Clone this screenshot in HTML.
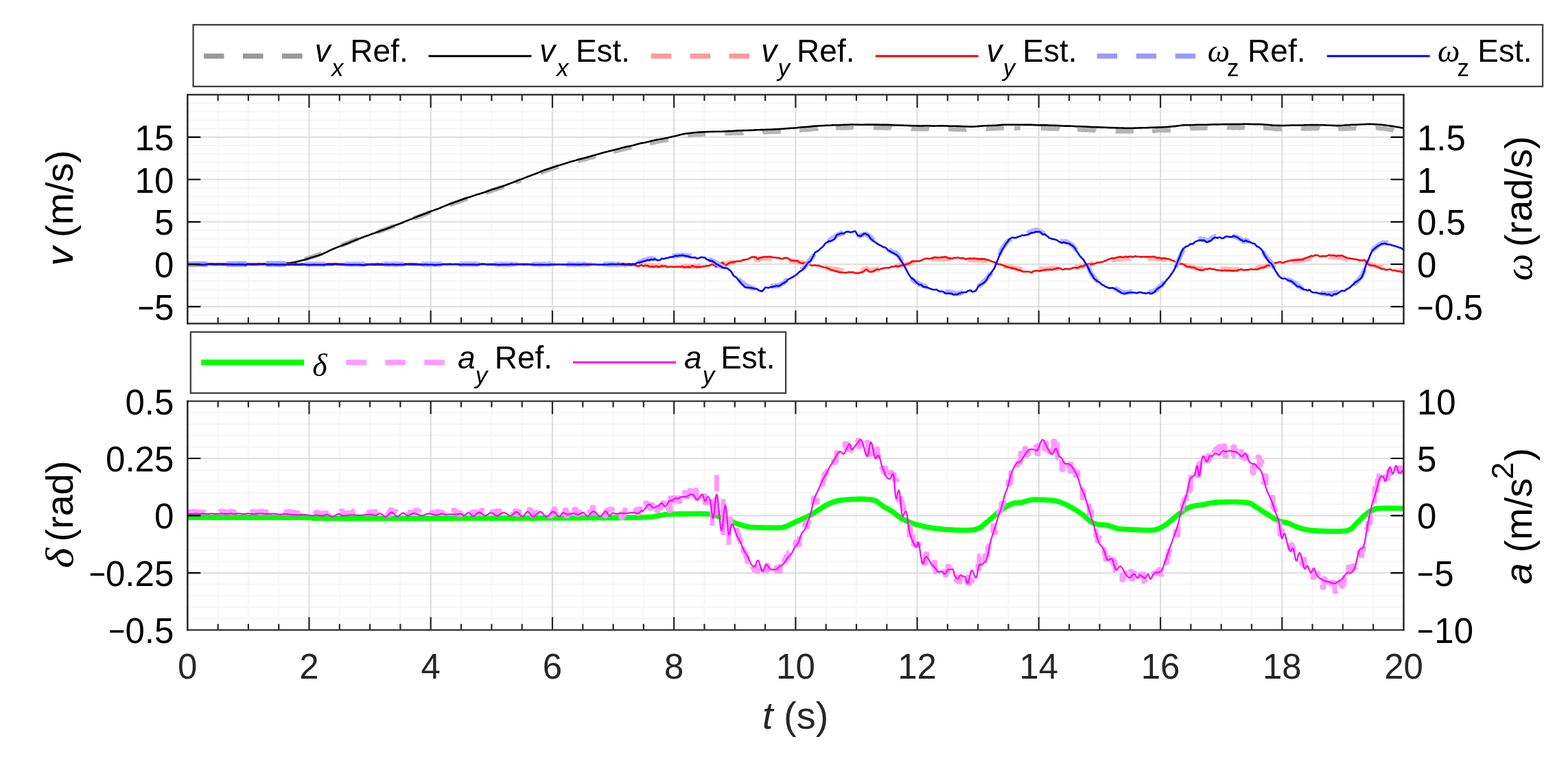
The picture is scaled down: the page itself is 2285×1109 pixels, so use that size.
<!DOCTYPE html><html><head><meta charset="utf-8"><title>Velocity estimation</title>
<style>html,body{margin:0;padding:0;background:#fff;overflow:hidden}svg{display:block}</style></head><body>
<svg width="2285" height="1109" viewBox="0 0 2285 1109">
<rect width="2285" height="1109" fill="#fff"/>
<defs><clipPath id="c1"><rect x="273.3" y="138" width="1772.2" height="333.5"/></clipPath>
<clipPath id="c2"><rect x="273.3" y="584.6" width="1772.2" height="333.6"/></clipPath></defs>
<path d="M317.6 138V471.5M361.9 138V471.5M406.2 138V471.5M494.8 138V471.5M539.1 138V471.5M583.4 138V471.5M672 138V471.5M716.4 138V471.5M760.7 138V471.5M849.3 138V471.5M893.6 138V471.5M937.9 138V471.5M1026.5 138V471.5M1070.8 138V471.5M1115.1 138V471.5M1203.7 138V471.5M1248 138V471.5M1292.3 138V471.5M1380.9 138V471.5M1425.2 138V471.5M1469.5 138V471.5M1558.1 138V471.5M1602.5 138V471.5M1646.8 138V471.5M1735.4 138V471.5M1779.7 138V471.5M1824 138V471.5M1912.6 138V471.5M1956.9 138V471.5M2001.2 138V471.5M273.3 459.1H2045.5M273.3 434.4H2045.5M273.3 422.1H2045.5M273.3 409.7H2045.5M273.3 397.4H2045.5M273.3 372.7H2045.5M273.3 360.3H2045.5M273.3 348H2045.5M273.3 335.6H2045.5M273.3 310.9H2045.5M273.3 298.6H2045.5M273.3 286.2H2045.5M273.3 273.9H2045.5M273.3 249.2H2045.5M273.3 236.8H2045.5M273.3 224.5H2045.5M273.3 212.1H2045.5M273.3 187.4H2045.5M273.3 175.1H2045.5M273.3 162.7H2045.5M273.3 150.4H2045.5" stroke="#f6f6f6" stroke-width="2" fill="none"/>
<path d="M450.5 138V471.5M627.7 138V471.5M805 138V471.5M982.2 138V471.5M1159.4 138V471.5M1336.6 138V471.5M1513.8 138V471.5M1691.1 138V471.5M1868.3 138V471.5M273.3 446.8H2045.5M273.3 385H2045.5M273.3 323.3H2045.5M273.3 261.5H2045.5M273.3 199.8H2045.5" stroke="#dfdfdf" stroke-width="2.2" fill="none"/>
<g clip-path="url(#c1)" fill="none" stroke-linejoin="round" stroke-linecap="butt">
<path d="M273 384.2L274 384.2L275 384.2L276 384.2L277 384.2L278 384.2L279 384.2L280 384.2L281 384.2L282 384.2L283 384.2L284 384.2L285 384.1L286 384.1L287 384.1L288 384.1L289 384.1L290 384.1L291 384.1L292 384.1L293 384.1L294 384.1L295 384.1L296 384.1L297 384.1L298 384.1L299 384.1L300 384.1M331 383.9L332 383.9L333 383.9L334 383.9L335 383.9L336 383.9L337 383.9L338 383.9L339 383.9L340 383.9L341 383.9L342 383.9L343 383.9L344 383.8L345 383.9L346 383.8L347 383.9L348 383.8L349 383.8L350 383.8L351 383.8L352 383.8L353 383.8L354 383.8L355 383.8L356 383.8L357 383.8L358 383.8M388 383.6L389 383.6L390 383.6L391 383.6L392 383.6L393 383.6L394 383.6L395 383.6L396 383.5L397 383.5L398 383.5L399 383.5L400 383.5L401 383.5L402 383.5L403 383.5L404 383.5L405 383.5L406 383.4L407 383.4L408 383.4L409 383.4L410 383.4L411 383.4L412 383.3L413 383.3L414 383.2L415 383.1M444 377.6L445 377.3L446 377L447 376.7L448 376.4L449 376.2L450 375.8L451 375.5L452 375.2L453 374.9L454 374.6L455 374.3L456 373.9L457 373.6L458 373.3L459 373L460 372.6L461 372.3L462 371.9L463 371.5L464 371.2L465 370.9L466 370.5L467 370.1L468 369.8L469 369.4M497 357.6L498 357.3L499 356.8L500 356.4L501 356L502 355.6L503 355.3L504 354.9L505 354.5L506 354.2L507 353.9L508 353.3L509 353L510 352.6L511 352.2L512 351.7L513 351.4L514 351.1L515 350.6L516 350.3L517 349.8L518 349.5L519 349.1L520 348.5L521 348.2L522 347.8M550 338L551 337.9L552 337.5L553 337.2L554 336.7L555 336.4L556 336.1L557 335.8L558 335.4L559 335L560 334.8L561 334.2L562 333.8L563 333.3L564 333.3L565 332.9L566 332.5L567 332.1L568 331.6L569 331.3L570 330.9L571 330.5L572 330.1L573 329.9L574 329.4L575 329M603 318.3L604 317.9L605 317.4L606 317.2L607 316.6L608 316.3L609 316.2L610 315.5L611 315.4L612 315.1L613 314.5L614 314.2L615 314L616 313.3L617 312.9L618 312.4L619 312.2L620 312L621 311.6L622 311L623 310.6L624 310.3L625 310L626 309.5L627 309.2L628 308.8M655 298.7L656 298.1L657 298.1L658 297.7L659 297.3L660 296.7L661 296.5L662 296.1L663 295.7L664 295.3L665 294.8L666 294.4L667 294.4L668 293.9L669 293.6L670 293.4L671 292.6L672 292.4L673 292.2L674 291.9L675 291.4L676 291.2L677 290.8L678 290.2L679 289.9L680 289.8L681 289.4M708 280.4L709 280.2L710 280.1L711 279.4L712 279.3L713 278.9L714 278.5L715 278.5L716 277.9L717 277.9L718 277.2L719 277.1L720 276.7L721 276.2L722 276.1L723 275.7L724 275.5L725 275L726 274.5L727 274.3L728 274L729 273.9L730 273.2L731 273L732 272.4L733 272.4L734 271.8M751 266.1L752 265.4L753 265.1L754 264.7L755 264.3L756 263.9L757 263.9L758 263L759 262.5M788 252L789 251.7L790 250.9L791 250.4L792 250.2L793 249.7L794 249.3L795 249.1L796 248.5L797 248.5L798 248L799 247.7L800 247.3L801 246.8L802 246.4L803 246.2L804 245.8L805 245.7L806 245.3L807 244.7L808 244.6L809 244L810 243.8L811 243.6L812 242.9L813 243L814 242.7M842 234.7L843 234.1L844 234.4L845 233.9L846 233.1L847 233.4L848 232.8L849 232.6L850 232.4L851 232.6L852 232L853 231.8L854 231.8L855 231.5L856 230.9L857 230.6L858 230.2L859 230L860 230L861 229.7L862 229.3L863 229.3L864 228.6L865 228.5L866 228.4L867 228.1L868 227.9M894 220.9L895 220.7L896 220.5L897 220L898 219.9L899 219.8L900 219.8L901 219.1L902 218.9L903 218.7L904 218.6L905 218.1L906 218.2L907 217.5L908 217.4L909 217.1L910 217.1L911 216.9L912 216.1L913 216L914 216L915 215.6L916 215.2L917 215.5L918 215.1L919 214.9L920 214.5M947 208.3L948 208.2L949 208.4L950 207.9L951 207.8L952 207.7L953 207.5L954 207.1L955 207.1L956 206.6L957 206.5L958 206.2L959 206.4L960 205.9L961 205.6L962 205.5L963 205.3L964 205.3L965 204.6L966 204.5L967 204.4L968 204.8L969 204.3L970 203.9L971 203.8L972 203.9L973 203.2L974 203M1002 197.1L1003 196.9L1004 197L1005 197L1006 196.4L1007 196.8L1008 196.3L1009 196.6L1010 196.4L1011 196.3L1012 196.3L1013 196.1L1014 196L1015 195.7L1016 196L1017 196.3L1018 196.3L1019 196.1L1020 195.9L1021 195.6L1022 196L1023 195.6L1024 195.6L1025 195.5L1026 195.5L1027 195.4L1028 195.4M1056 194.6L1057 194.3L1058 194.1L1059 194.4L1060 194.1L1061 194.2L1062 194.4L1063 194.4L1064 194.6L1065 194.2L1066 193.9L1067 194L1068 193.9L1069 193.8L1070 194.1L1071 193.9L1072 193.6L1073 194.1L1074 193.9L1075 193.9L1076 193.9L1077 193.9L1078 193.8L1079 194L1080 193.8L1081 193.8L1082 193.7L1083 193.3M1111 192.6L1112 192.2L1113 192.3L1114 192.4L1115 192.5L1116 192.4L1117 192L1118 192.3L1119 192.5L1120 192.4L1121 192.2L1122 192L1123 192.2L1124 192L1125 191.8L1126 191.8L1127 192.2L1128 191.9L1129 192.1L1130 191.7L1131 191.9L1132 191.6L1133 191.6L1134 192.1L1135 191.7L1136 191.4L1137 191.4L1138 191.4M1165 189.7L1166 189.8L1167 189.4L1168 189.4L1169 189.5L1170 189.1L1171 189.2L1172 188.9L1173 189.2L1174 189.4L1175 189.2L1176 188.7L1177 188.8L1178 188.6L1179 188.5L1180 188.7L1181 188L1182 188.4L1183 188.1L1184 188.3L1185 188L1186 187.7L1187 187.8L1188 187.9L1189 187.7L1190 187.7L1191 187.4L1192 187M1218 186.4L1219 186.3L1220 186.4L1221 186.4L1222 186.2L1223 186.2L1224 186.5L1225 186.3L1226 186.4L1227 186.5L1228 186.3L1229 186.6L1230 186L1231 186.3L1232 186.1L1233 186.5L1234 186.4L1235 185.7L1236 185.9L1237 186.2L1238 186.2L1239 186.1L1240 186L1241 186.1L1242 186.1L1243 185.9L1244 186.1M1273 186L1274 186L1275 185.9L1276 186.4L1277 186.1L1278 186.4L1279 186.3L1280 186L1281 186L1282 186.2L1283 186.2L1284 186.2L1285 186.2L1286 185.9L1287 186.3L1288 185.9L1289 186.5L1290 186.3L1291 186.3L1292 186.5L1293 186.6L1294 186.3L1295 186.3L1296 186.4L1297 186.3L1298 186.5L1299 187.1M1328 187.6L1329 187.9L1330 187.5L1331 187.6L1332 187.9L1333 187.9L1334 187.7L1335 187.6L1336 187.5L1337 187.7L1338 187.4L1339 188L1340 187.7L1341 187.9L1342 188.2L1343 188.1L1344 187.6L1345 188.1L1346 188.1L1347 187.8L1348 187.7L1349 187.9L1350 187.6L1351 188.2L1352 187.5L1353 187.7L1354 187.9M1382 188.1L1383 188.1L1384 188L1385 188.3L1386 188.1L1387 188.3L1388 188.6L1389 188.4L1390 188.5L1391 188.5L1392 188.5L1393 188.5L1394 188.5L1395 188.7L1396 188.4L1397 188.9L1398 188.7L1399 188.6L1400 188.6L1401 188.6L1402 188.8L1403 188.7L1404 189.1L1405 188.7L1406 188.4L1407 188.8L1408 188.5M1437 187.7L1438 187.8L1439 188L1440 187.8L1441 187.6L1442 187.6L1443 187.6L1444 187.7L1445 187.4L1446 187.4L1447 187L1448 187.1L1449 187.6L1450 186.8L1451 187.1L1452 187.2L1453 187L1454 186.9L1455 187L1456 186.9L1457 186.9L1458 186.5L1459 186.8L1460 186.6L1461 186.7L1462 186.8L1463 186.9M1478 186.4L1479 186.5L1480 186.7L1481 186.7L1482 186.5L1483 186.5L1484 186.4L1485 186.6L1486 186.5L1487 186.7M1517 187.1L1518 187.1L1519 187.2L1520 187.3L1521 187.2L1522 186.6L1523 187L1524 187.1L1525 187L1526 187.3L1527 187.5L1528 187.2L1529 187.1L1530 187.8L1531 187.3L1532 187.2L1533 187.5L1534 187.6L1535 187.4L1536 187.7L1537 187.5L1538 187.4L1539 187.7L1540 187.8L1541 187.6L1542 187.8L1543 187.8L1544 188.4M1570 189L1571 188.8L1572 188.9L1573 189L1574 189L1575 188.9L1576 189.1L1577 189.5L1578 188.8L1579 189.3L1580 189.1L1581 189.4L1582 189.5L1583 189.4L1584 189.6L1585 189.2L1586 189.8L1587 189.5L1588 189.8L1589 189.7L1590 189.2L1591 189.6L1592 189.9L1593 190.2L1594 190L1595 190L1596 189.7L1597 190.3M1626 191.2L1627 191.5L1628 190.8L1629 191L1630 191.4L1631 191.2L1632 191.2L1633 191.6L1634 191.2L1635 191.1L1636 191.1L1637 191.4L1638 191.4L1639 191.1L1640 191.2L1641 191.5L1642 191.5L1643 191.3L1644 191.5L1645 191.5L1646 191.1L1647 191.4L1648 191.5L1649 191.3L1650 191L1651 191.3L1652 191.5M1679 190.5L1680 190.5L1681 190.8L1682 190.7L1683 190.3L1684 190.6L1685 190.1L1686 190.2L1687 190.4L1688 189.9L1689 190L1690 189.8L1691 190L1692 190.3L1693 189.8L1694 190L1695 189.7L1696 189.6L1697 189.6L1698 190.1L1699 190.2L1700 189.8L1701 189.5L1702 189.8L1703 189.5L1704 189.7L1705 189.6L1706 189.5M1734 187.1L1735 186.8L1736 186.9L1737 187.1L1738 187L1739 187.2L1740 187L1741 187.4L1742 186.7L1743 186.9L1744 186.5L1745 186.6L1746 187.1L1747 186.6L1748 186.9L1749 186.7L1750 186.5L1751 186.6L1752 186.6L1753 186.6L1754 186.8L1755 186.7L1756 186.5L1757 186.4L1758 186.6L1759 186.5L1760 186.7M1788 186L1789 186.2L1790 186L1791 186L1792 186L1793 186.1L1794 186.1L1795 186.2L1796 185.8L1797 186.5L1798 186.3L1799 186.2L1800 186L1801 186L1802 186.2L1803 186.1L1804 185.7L1805 186.2L1806 186.6L1807 185.6L1808 186.2L1809 186.1L1810 186L1811 186.3L1812 185.7L1813 186L1814 186.3M1841 186.3L1842 186.3L1843 186.3L1844 186.9L1845 186.6L1846 186.4L1847 186.7L1848 187L1849 187.1L1850 187L1851 187L1852 187.2L1853 186.9L1854 187.1L1855 187.6L1856 187.4L1857 187.7L1858 187.9L1859 187.8L1860 187.8L1861 188.2L1862 188L1863 187.8L1864 188L1865 188L1866 187.8L1867 188L1868 187.9M1896 187.4L1897 187.5L1898 187.6L1899 187.3L1900 187.5L1901 187.8L1902 187.5L1903 187.3L1904 187.3L1905 187.2L1906 187.4L1907 187.5L1908 187.1L1909 187.2L1910 187.5L1911 187.1L1912 187.3L1913 187L1914 187L1915 187.1L1916 187.6L1917 187.1L1918 187.1L1919 187.1L1920 187.2L1921 187.3L1922 187.2L1923 187.6M1950 188.1L1951 187.9L1952 188.1L1953 187.6L1954 187.5L1955 187.6L1956 187.7L1957 187.7L1958 187.6L1959 187.7L1960 187.2L1961 187.7L1962 187.3L1963 187.4L1964 187.4L1965 187.2L1966 187.1L1967 187.1L1968 187.3L1969 187.3L1970 187.3L1971 186.9L1972 186.9L1973 186.8L1974 187.1L1975 186.5L1976 187.1M2005 186.5L2006 186.1L2007 186.6L2008 186.5L2009 186.8L2010 186.6L2011 186.7L2012 187.4L2013 186.9L2014 187L2015 187.2L2016 187.2L2017 187.7L2018 188L2019 187.6L2020 187.5L2021 188.3L2022 188.4L2023 188.5L2024 188.7L2025 188.4L2026 188.7L2027 188.6L2028 188.8L2029 189.4L2030 189.3L2031 190" stroke="#b4b4b4" stroke-width="6.5"/>
<path d="M273 384.2L275 384.2L277 384.2L279 384.2L281 384.2L283 384.2L285 384.2L287 384.2L289 384.2L291 384.2L293 384.2L295 384.2L297 384.2L299 384.2L301 384.2L303 384.2L305 384.2L307 384.2L309 384.2L311 384.2L313 384.2L315 384.2L317 384.2L319 384.2L321 384.2L323 384.2L325 384.2L327 384.2L329 384.2L331 384.2L333 384.2L335 384.2L337 384.2L339 384.2L341 384.2L343 384.2L345 384.2L347 384.2L349 384.2L351 384.2L353 384.2L355 384.2L357 384.2L359 384.2L361 384.2L363 384.2L365 384.2L367 384.2L369 384.2L371 384.2L373 384.2L375 384.2L377 384.2L379 384.2L381 384.2L383 384.2L385 384.2L387 384.2L389 384.2L391 384.2L393 384.2L395 384.2L397 384.2L399 384.2L401 384.2L403 384.1L405 384.1L407 384.1L409 384.1L411 384L413 384L415 383.8L417 383.6L419 383.5L421 383.3L423 383.2L425 382.9L427 382.6L429 382.3L431 381.8L433 381.3L435 380.8L437 380.3L439 379.8L441 379.3L443 378.8L445 378.2L447 377.5L449 376.9L451 376.2L453 375.6L455 375L457 374.4L459 373.8L461 373.2L463 372.6L465 371.9L467 371.2L469 370.5L471 369.6L473 368.7L475 367.8L477 366.8L479 365.8L481 364.8L483 363.9L485 363L487 362.2L489 361.4L491 360.6L493 359.8L495 359.1L497 358.4L499 357.6L501 356.8L503 356.1L505 355.3L507 354.5L509 353.7L511 352.8L513 352L515 351.1L517 350.3L519 349.5L521 348.7L523 347.9L525 347.2L527 346.4L529 345.7L531 345L533 344.3L535 343.6L537 342.9L539 342.1L541 341.3L543 340.6L545 339.9L547 339.2L549 338.5L551 337.8L553 337L555 336.3L557 335.6L559 334.9L561 334.2L563 333.5L565 332.8L567 332L569 331.3L571 330.4L573 329.6L575 328.8L577 328L579 327.2L581 326.5L583 325.8L585 325L587 324.2L589 323.3L591 322.5L593 321.7L595 320.9L597 320.1L599 319.4L601 318.6L603 317.7L605 316.9L607 316.1L609 315.3L611 314.5L613 313.8L615 313.1L617 312.3L619 311.6L621 310.8L623 310L625 309.2L627 308.4L629 307.6L631 306.9L633 306.1L635 305.4L637 304.7L639 304L641 303.2L643 302.3L645 301.4L647 300.6L649 299.8L651 299L653 298.3L655 297.5L657 296.8L659 296L661 295.3L663 294.6L665 293.9L667 293.2L669 292.4L671 291.7L673 291L675 290.3L677 289.6L679 288.9L681 288.2L683 287.5L685 286.9L687 286.2L689 285.6L691 284.9L693 284.3L695 283.6L697 283L699 282.4L701 281.8L703 281.2L705 280.6L707 279.9L709 279.2L711 278.5L713 277.7L715 277L717 276.3L719 275.7L721 275.1L723 274.5L725 273.9L727 273.2L729 272.6L731 272L733 271.3L735 270.6L737 269.8L739 269.1L741 268.2L743 267.5L745 266.7L747 266L749 265.3L751 264.6L753 263.7L755 262.9L757 262.1L759 261.4L761 260.6L763 259.9L765 259.1L767 258.3L769 257.5L771 256.8L773 256L775 255.2L777 254.4L779 253.7L781 253L783 252.2L785 251.4L787 250.6L789 249.8L791 248.9L793 248.1L795 247.4L797 246.7L799 246L801 245.4L803 244.7L805 244L807 243.4L809 242.8L811 242.1L813 241.5L815 240.9L817 240.2L819 239.7L821 239.1L823 238.5L825 237.8L827 237.2L829 236.5L831 235.8L833 235.2L835 234.7L837 234.2L839 233.7L841 233.1L843 232.6L845 232L847 231.5L849 231L851 230.5L853 230L855 229.4L857 228.8L859 228.2L861 227.7L863 227.1L865 226.6L867 226L869 225.4L871 224.8L873 224.3L875 223.7L877 223.1L879 222.5L881 221.9L883 221.4L885 220.9L887 220.4L889 219.9L891 219.4L893 218.9L895 218.4L897 217.9L899 217.4L901 216.9L903 216.4L905 215.8L907 215.3L909 214.8L911 214.3L913 213.8L915 213.4L917 213.1L919 212.7L921 212.3L923 211.8L925 211.2L927 210.6L929 210L931 209.5L933 209L935 208.6L937 208.3L939 208L941 207.6L943 207.1L945 206.6L947 206L949 205.5L951 205L953 204.6L955 204.1L957 203.7L959 203.3L961 203L963 202.6L965 202.3L967 201.9L969 201.5L971 201.1L973 200.7L975 200.2L977 199.8L979 199.3L981 198.8L983 198.4L985 197.9L987 197.5L989 197L991 196.5L993 196L995 195.5L997 195.1L999 194.8L1001 194.5L1003 194.3L1005 194.1L1007 193.8L1009 193.5L1011 193.3L1013 193L1015 192.9L1017 192.7L1019 192.6L1021 192.6L1023 192.5L1025 192.4L1027 192.3L1029 192.2L1031 192.1L1033 192L1035 192L1037 191.9L1039 191.9L1041 191.8L1043 191.8L1045 191.7L1047 191.7L1049 191.7L1051 191.7L1053 191.6L1055 191.5L1057 191.3L1059 191.2L1061 191.1L1063 191.1L1065 191L1067 191L1069 190.8L1071 190.7L1073 190.5L1075 190.4L1077 190.3L1079 190.2L1081 190.2L1083 190.1L1085 190.1L1087 190L1089 190L1091 189.9L1093 189.9L1095 189.8L1097 189.7L1099 189.6L1101 189.4L1103 189.3L1105 189.3L1107 189.2L1109 189.1L1111 189.1L1113 189L1115 189L1117 188.9L1119 188.8L1121 188.8L1123 188.7L1125 188.6L1127 188.5L1129 188.4L1131 188.3L1133 188.2L1135 188.1L1137 188L1139 187.8L1141 187.7L1143 187.6L1145 187.4L1147 187.3L1149 187.1L1151 186.9L1153 186.8L1155 186.7L1157 186.6L1159 186.5L1161 186.3L1163 186L1165 185.7L1167 185.5L1169 185.3L1171 185.2L1173 185.1L1175 185L1177 184.8L1179 184.6L1181 184.4L1183 184.1L1185 183.9L1187 183.8L1189 183.6L1191 183.5L1193 183.4L1195 183.3L1197 183.2L1199 183.1L1201 183L1203 182.9L1205 182.8L1207 182.7L1209 182.7L1211 182.6L1213 182.4L1215 182.3L1217 182.2L1219 182.2L1221 182.2L1223 182.2L1225 182.1L1227 182L1229 181.9L1231 181.9L1233 181.8L1235 181.7L1237 181.6L1239 181.5L1241 181.5L1243 181.5L1245 181.5L1247 181.6L1249 181.6L1251 181.7L1253 181.8L1255 181.8L1257 181.8L1259 181.7L1261 181.6L1263 181.6L1265 181.6L1267 181.6L1269 181.6L1271 181.6L1273 181.6L1275 181.6L1277 181.6L1279 181.6L1281 181.7L1283 181.8L1285 181.9L1287 181.9L1289 181.9L1291 181.9L1293 181.9L1295 181.9L1297 182L1299 182.1L1301 182.3L1303 182.4L1305 182.5L1307 182.5L1309 182.5L1311 182.5L1313 182.6L1315 182.6L1317 182.7L1319 182.9L1321 182.9L1323 183L1325 183.1L1327 183.1L1329 183.2L1331 183.2L1333 183.3L1335 183.3L1337 183.4L1339 183.4L1341 183.5L1343 183.5L1345 183.4L1347 183.3L1349 183.3L1351 183.2L1353 183.3L1355 183.4L1357 183.5L1359 183.5L1361 183.6L1363 183.5L1365 183.5L1367 183.5L1369 183.4L1371 183.4L1373 183.4L1375 183.4L1377 183.5L1379 183.5L1381 183.6L1383 183.7L1385 183.8L1387 183.8L1389 183.8L1391 183.8L1393 183.8L1395 183.9L1397 183.9L1399 184L1401 184.1L1403 184.2L1405 184.3L1407 184.3L1409 184.4L1411 184.5L1413 184.5L1415 184.6L1417 184.5L1419 184.5L1421 184.4L1423 184.2L1425 184.1L1427 183.9L1429 183.8L1431 183.6L1433 183.4L1435 183.3L1437 183.2L1439 183.1L1441 183.1L1443 183L1445 183L1447 182.9L1449 182.8L1451 182.7L1453 182.6L1455 182.4L1457 182.3L1459 182.1L1461 181.9L1463 181.8L1465 181.7L1467 181.7L1469 181.7L1471 181.7L1473 181.7L1475 181.6L1477 181.7L1479 181.7L1481 181.7L1483 181.8L1485 181.8L1487 181.8L1489 181.8L1491 181.9L1493 181.9L1495 181.9L1497 181.9L1499 181.9L1501 181.9L1503 181.9L1505 182L1507 182.1L1509 182.2L1511 182.3L1513 182.4L1515 182.4L1517 182.4L1519 182.4L1521 182.4L1523 182.4L1525 182.4L1527 182.5L1529 182.6L1531 182.7L1533 182.7L1535 182.8L1537 182.9L1539 182.9L1541 183L1543 183.1L1545 183.2L1547 183.4L1549 183.5L1551 183.6L1553 183.6L1555 183.6L1557 183.6L1559 183.6L1561 183.7L1563 183.8L1565 184L1567 184.1L1569 184.2L1571 184.3L1573 184.3L1575 184.3L1577 184.4L1579 184.5L1581 184.5L1583 184.6L1585 184.8L1587 184.9L1589 185L1591 185.1L1593 185.2L1595 185.2L1597 185.3L1599 185.4L1601 185.4L1603 185.5L1605 185.6L1607 185.6L1609 185.7L1611 185.8L1613 185.9L1615 186L1617 186.1L1619 186.1L1621 186.1L1623 186.2L1625 186.3L1627 186.4L1629 186.5L1631 186.5L1633 186.5L1635 186.5L1637 186.6L1639 186.7L1641 186.7L1643 186.8L1645 186.8L1647 186.7L1649 186.7L1651 186.7L1653 186.6L1655 186.6L1657 186.5L1659 186.5L1661 186.4L1663 186.4L1665 186.3L1667 186.3L1669 186.3L1671 186.2L1673 186.1L1675 186L1677 185.9L1679 185.8L1681 185.7L1683 185.7L1685 185.6L1687 185.6L1689 185.5L1691 185.5L1693 185.4L1695 185.3L1697 185.2L1699 185.1L1701 185L1703 184.8L1705 184.6L1707 184.4L1709 184.3L1711 184.1L1713 183.9L1715 183.6L1717 183.3L1719 183.1L1721 182.8L1723 182.6L1725 182.4L1727 182.3L1729 182.3L1731 182.2L1733 182.2L1735 182.2L1737 182.2L1739 182.1L1741 182L1743 181.9L1745 181.8L1747 181.8L1749 181.8L1751 181.8L1753 181.8L1755 181.7L1757 181.7L1759 181.7L1761 181.6L1763 181.6L1765 181.5L1767 181.4L1769 181.4L1771 181.4L1773 181.4L1775 181.4L1777 181.3L1779 181.2L1781 181.2L1783 181.1L1785 181.1L1787 181.1L1789 181.1L1791 181.1L1793 181.1L1795 181.1L1797 181.1L1799 181.1L1801 181.1L1803 181.1L1805 181.1L1807 181L1809 181L1811 180.9L1813 180.9L1815 180.8L1817 180.8L1819 180.9L1821 180.9L1823 181L1825 181L1827 181L1829 181.1L1831 181.1L1833 181.1L1835 181.1L1837 181.2L1839 181.3L1841 181.4L1843 181.5L1845 181.7L1847 181.8L1849 182L1851 182.2L1853 182.4L1855 182.6L1857 182.7L1859 182.8L1861 182.9L1863 182.9L1865 182.9L1867 183L1869 183L1871 183L1873 182.9L1875 182.9L1877 182.8L1879 182.7L1881 182.6L1883 182.5L1885 182.5L1887 182.5L1889 182.5L1891 182.5L1893 182.5L1895 182.6L1897 182.5L1899 182.5L1901 182.4L1903 182.3L1905 182.2L1907 182.2L1909 182.1L1911 182.1L1913 182.1L1915 182.1L1917 182.1L1919 182.1L1921 182.1L1923 182.2L1925 182.2L1927 182.3L1929 182.3L1931 182.4L1933 182.5L1935 182.5L1937 182.6L1939 182.7L1941 182.8L1943 182.9L1945 183L1947 183.1L1949 183.1L1951 183.1L1953 183L1955 182.9L1957 182.7L1959 182.5L1961 182.4L1963 182.3L1965 182.2L1967 182.1L1969 181.9L1971 181.8L1973 181.7L1975 181.7L1977 181.6L1979 181.6L1981 181.5L1983 181.4L1985 181.3L1987 181.2L1989 181.1L1991 181L1993 180.9L1995 180.9L1997 180.9L1999 181L2001 181L2003 181.1L2005 181.2L2007 181.3L2009 181.5L2011 181.6L2013 181.8L2015 182L2017 182.2L2019 182.5L2021 182.8L2023 183L2025 183.3L2027 183.6L2029 183.9L2031 184.2L2033 184.5L2035 184.9L2037 185.2L2039 185.5L2041 185.9L2043 186.3L2045 186.6" stroke="#000" stroke-width="2.6"/>
<path d="M273 384.7L274 384.7L275 384.7L276 384.7L277 384.6L278 384.7L279 384.7L280 384.7L281 384.7L282 384.7L283 384.7L284 384.7L285 384.7L286 384.7L287 384.7L288 384.7L289 384.7L290 384.7L291 384.7L292 384.7L293 384.7L294 384.7L295 384.7L296 384.6L297 384.7L298 384.7L299 384.7L300 384.6L301 384.7L302 384.7L303 384.7L304 384.6L305 384.7L306 384.7L307 384.6L308 384.7L309 384.6L310 384.7L311 384.6L312 384.7L313 384.6L314 384.7L315 384.7L316 384.6L317 384.7L318 384.6L319 384.7L320 384.7L321 384.7L322 384.6L323 384.6L324 384.7L325 384.7L326 384.6L327 384.7L328 384.6L329 384.7L330 384.7L331 384.7L332 384.6L333 384.7L334 384.6L335 384.7L336 384.7L337 384.7L338 384.7L339 384.7L340 384.6L341 384.7L342 384.6L343 384.6L344 384.6L345 384.6L346 384.6L347 384.7L348 384.7L349 384.6L350 384.6L351 384.7L352 384.6L353 384.7L354 384.6L355 384.6L356 384.7L357 384.7L358 384.6L359 384.7L360 384.6L361 384.7L362 384.6L363 384.6L364 384.6L365 384.6L366 384.7L367 384.7L368 384.6L369 384.6L370 384.6L371 384.6L372 384.6L373 384.6L374 384.6L375 384.6L376 384.6L377 384.7L378 384.6L379 384.6L380 384.6L381 384.6L382 384.6L383 384.6L384 384.6L385 384.6L386 384.6L387 384.6L388 384.6L389 384.6L390 384.6L391 384.6L392 384.6L393 384.6L394 384.6L395 384.6L396 384.6L397 384.6L398 384.6L399 384.6L400 384.6L401 384.6L402 384.6L403 384.6L404 384.6L405 384.6L406 384.6L407 384.6L408 384.6L409 384.6L410 384.6L411 384.6L412 384.6L413 384.6L414 384.6L415 384.6L416 384.6L417 384.6L418 384.6L419 384.6L420 384.6L421 384.6L422 384.6L423 384.6L424 384.6L425 384.6L426 384.6L427 384.6L428 384.6L429 384.6L430 384.6L431 384.6L432 384.6L433 384.6L434 384.6L435 384.6L436 384.6L437 384.6L438 384.6L439 384.7L440 384.6L441 384.6L442 384.6L443 384.5L444 384.5L445 384.6L446 384.6L447 384.6L448 384.6L449 384.6L450 384.6L451 384.5L452 384.6L453 384.6L454 384.6L455 384.6L456 384.5L457 384.7L458 384.6L459 384.6L460 384.5L461 384.6L462 384.6L463 384.6L464 384.5L465 384.6L466 384.6L467 384.6L468 384.6L469 384.7L470 384.6L471 384.5L472 384.6L473 384.6L474 384.7L475 384.6L476 384.6L477 384.6L478 384.6L479 384.6L480 384.6L481 384.6L482 384.6L483 384.6L484 384.5L485 384.6L486 384.6L487 384.6L488 384.6L489 384.7L490 384.7L491 384.6L492 384.6L493 384.5L494 384.7L495 384.6L496 384.7L497 384.6L498 384.5L499 384.7L500 384.6L501 384.6L502 384.6L503 384.7L504 384.6L505 384.5L506 384.7L507 384.6L508 384.6L509 384.7L510 384.7L511 384.6L512 384.5L513 384.6L514 384.7L515 384.6L516 384.5L517 384.5L518 384.5L519 384.6L520 384.7L521 384.7L522 384.5L523 384.6L524 384.7L525 384.6L526 384.6L527 384.8L528 384.6L529 384.7L530 384.6L531 384.6L532 384.4L533 384.6L534 384.7L535 384.8L536 384.7L537 384.7L538 384.6L539 384.6L540 384.6L541 384.7L542 384.5L543 384.7L544 384.5L545 384.4L546 384.5L547 384.4L548 384.5L549 384.8L550 384.6L551 384.7L552 384.8L553 384.8L554 384.6L555 384.8L556 384.7L557 384.6L558 384.7L559 384.5L560 384.5L561 384.6L562 384.7L563 384.6L564 384.6L565 384.8L566 384.8L567 384.7L568 384.8L569 384.6L570 384.6L571 384.7L572 384.6L573 384.6L574 384.9L575 384.6L576 384.5L577 384.7L578 384.9L579 384.7L580 384.8L581 384.6L582 384.6L583 384.6L584 384.6L585 384.9L586 384.5L587 384.9L588 384.5L589 384.6L590 384.8L591 384.8L592 384.7L593 384.4L594 384.7L595 384.5L596 385.1L597 384.6L598 384.7L599 384.5L600 384.6L601 384.5L602 384.8L603 384.6L604 384.8L605 384.6L606 384.6L607 384.9L608 384.5L609 384.4L610 384.8L611 384.5L612 384.6L613 384.8L614 384.6L615 384.8L616 384.6L617 384.9L618 384.9L619 384.6L620 384.7L621 384.6L622 384.7L623 384.9L624 384.5L625 384.9L626 384.5L627 384.6L628 384.4L629 385.1L630 384.7L631 384.8L632 384.6L633 384.9L634 384.4L635 384.7L636 385.1L637 384.7L638 384.7L639 384.8L640 384.6L641 384.7L642 384.9L643 384.8L644 384.8L645 384.7L646 384.8L647 384.7L648 385L649 384.9L650 384.7L651 384.3L652 384.9L653 384.9L654 384.6L655 384.4L656 384.5L657 384.9L658 384.5L659 384.7L660 384.8L661 385L662 384.8L663 384.7L664 384.7L665 385.1L666 385L667 384.8L668 384.5L669 384.6L670 384.9L671 384.6L672 385L673 384.9L674 384.8L675 384.9L676 384.9L677 384.6L678 384.7L679 385.3L680 384.5L681 384.7L682 385L683 384.8L684 384.6L685 384.5L686 384.9L687 385L688 385.1L689 384.8L690 385L691 384.6L692 384.9L693 384.7L694 384.9L695 385L696 385.1L697 384.6L698 385.1L699 384.7L700 384.6L701 384.8L702 384.5L703 384.8L704 384.9L705 384.8L706 385L707 384.8L708 384.9L709 384.5L710 384.9L711 384.7L712 384.8L713 384.8L714 384.9L715 384.5L716 384.5L717 384.8L718 385L719 385L720 385.1L721 385.2L722 385L723 384.9L724 384.6L725 384.7L726 384.8L727 385L728 385L729 384.9L730 384.9L731 385.1L732 385L733 385L734 385L735 384.8L736 384.7L737 385.1L738 385L739 384.9L740 384.8L741 385.5L742 384.8L743 384.9L744 385L745 384.7L746 385L747 385.4L748 385.2L749 385.1L750 385.1L751 385L752 385.2L753 384.9L754 384.9L755 385L756 385.2L757 385.1L758 385.2L759 384.5L760 385.3L761 385.6L762 385.4L763 384.9L764 384.8L765 385.1L766 384.8L767 385.2L768 384.9L769 385.3L770 385.4L771 384.5L772 385.1L773 384.9L774 384.7L775 384.9L776 385L777 385.4L778 384.6L779 385.4L780 385.6L781 385.2L782 385.2L783 385.1L784 384.8L785 385.2L786 385.2L787 385.3L788 385.9L789 385.3L790 385.2L791 385.6L792 384.7L793 384.8L794 385L795 384.9L796 385.3L797 385.1L798 385.7L799 385.6L800 385.4L801 385L802 385.4L803 385.4L804 384.9L805 385.3L806 385.4L807 385.3L808 385.7L809 385.6L810 385L811 385.3L812 385L813 385.4L814 385L815 385.5L816 385.4L817 385.5L818 385.2L819 384.8L820 385.8L821 385.2L822 385.7L823 385.4L824 385.5L825 385.8L826 385.4L827 385.7L828 384.9L829 385.6L830 385.3L831 385.3L832 385.3L833 385.4L834 385.8L835 384.8L836 385.4L837 385.2L838 385.7L839 385.3L840 385.5L841 385.3L842 385.6L843 385.7L844 385.3L845 385.4L846 385L847 385.5L848 385.7L849 385.3L850 385.8L851 384.8L852 384.9L853 385.1L854 385.3L855 385.5L856 385.5L857 385.5L858 385.7L859 385.4L860 385.1L861 385.2L862 386.2L863 384.8L864 385.5L865 386L866 385.7L867 385.3L868 385.6L869 385.8L870 386L871 385.3L872 385.8L873 385.7L874 385.9L875 386L876 385.5L877 385.2L878 385.8L879 386.2L880 385.9L881 385.7L882 386.4L883 385.4L884 386L885 385.5L886 385.7L887 385.7L888 386.2L889 385.4L890 385.6L891 385.3L892 385.9L893 385.6L894 385.9L895 385.4L896 385.7L897 386.1L898 385.7L899 386L900 386L901 385.7L902 385.3L903 386.1L904 385.9L905 386.1L906 385.2L907 385.3L908 385.2L909 385.6L910 386.2L911 386L912 385.9L913 385.9L914 386.1L915 385.8L916 386L917 385.9L918 385.2L919 385.8L920 386.3L921 385.8L922 385.9L923 385.8L924 385.8L925 386.3L926 386L927 385.8L928 385.2L929 385.9L930 385.6L931 385.6L932 386.5L933 386.5L934 385.7L935 386.6L936 386.5L937 386.2L938 386.7L939 386.1L940 386.2L941 386.2L942 386.4L943 387L944 386.4L945 386.5L946 386.6L947 387L948 386.8L949 387.2L950 386.8L951 386.6L952 386.9L953 387.1L954 386.8L955 387.2L956 387.7L957 387L958 387.3L959 387.7L960 387.1L961 387.1L962 387L963 387.5L964 387.6L965 387.4L966 387.5L967 387.9L968 387.8L969 387.1L970 387.6L971 387.6L972 387.9L973 387.6L974 387.5L975 387.6L976 387.2L977 387.8L978 387.6L979 388L980 387.5L981 387.7L982 387.6L983 387.6L984 388.1L985 387.8L986 388.1L987 387.7L988 388L989 387.5L990 387.9L991 387.9L992 388.2L993 388.1L994 388L995 388.3L996 388.2L997 388.3L998 388.3L999 388.1L1000 388L1001 388.2L1002 388L1003 388.2L1004 388.4L1005 388.3L1006 387.9L1007 387.6L1008 388L1009 388L1010 388.3L1011 387.8L1012 387.9L1013 388.1L1014 387.7L1015 387.8L1016 388.3L1017 388.2L1018 387.9L1019 387.8L1020 387.4L1021 387.8L1022 387.6L1023 387.6L1024 387.3L1025 387.4L1026 387.3L1027 387.4L1028 387.7L1029 387.3L1030 386.7L1031 386.8L1032 386.5L1033 386.7L1034 386.9L1035 386.7L1036 385.9L1037 385.6L1038 385.3L1039 385.3L1040 385.7L1041 386.4L1042 387.5L1043 387.2L1044 388.3L1045 388.5L1046 387.9L1047 387.6L1048 386.7L1049 385.9L1050 385.2L1051 384.1L1052 383.8L1053 383.7L1054 383.8L1055 384.4L1056 384.9L1057 385.5L1058 385L1059 384.8L1060 383.9L1061 383.1L1062 383.8L1063 382.6L1064 382.4L1065 382.6L1066 381.8L1067 382L1068 381.7L1069 381.7L1070 381.9L1071 381.9L1072 382L1073 381.8L1074 381.8L1075 381.5L1076 381.1L1077 381.5L1078 380.9L1079 380.7L1080 381.2L1081 380.9L1082 380.6L1083 380.6L1084 380.5L1085 379.7L1086 379.8L1087 379.3L1088 379.5L1089 379L1090 379.4L1091 378.9L1092 378.3L1093 378.3L1094 377.7L1095 377.8L1096 377.8L1097 377.5L1098 376.7L1099 377L1100 377.2L1101 377.3L1102 377.9L1103 377.9L1104 379.2L1105 379L1106 378.2L1107 377.4L1108 377L1109 376.5L1110 376.7L1111 376.2L1112 376.1L1113 376.7L1114 376.6L1115 376.1L1116 376.4L1117 376.7L1118 377.2L1119 377.1L1120 377.1L1121 376.4L1122 377L1123 377.2L1124 377.3L1125 377.3L1126 377.2L1127 377.9L1128 377.9L1129 377.5L1130 377.3L1131 378.3L1132 377.6L1133 378.2L1134 378.5L1135 377.8L1136 378.2L1137 378.1L1138 378.5L1139 378.6L1140 379.2L1141 378.9L1142 378.8L1143 379.3L1144 379L1145 379.1L1146 380L1147 379.2L1148 379.5L1149 379.8L1150 379.6L1151 379.4L1152 380.5L1153 380.1L1154 380.3L1155 380.5L1156 380.5L1157 380.6L1158 381.1L1159 381.9L1160 381.6L1161 381.8L1162 381.2L1163 381.8L1164 381.7L1165 382.4L1166 382.3L1167 382.6L1168 382.7L1169 382.8L1170 382.8L1171 383.6L1172 383.3L1173 383.5L1174 384L1175 384.1L1176 384.6L1177 384.9L1178 384.9L1179 385L1180 385.1L1181 385.5L1182 384.8L1183 385.6L1184 385.3L1185 385.4L1186 385.9L1187 386L1188 386.4L1189 386.7L1190 385.9L1191 386.8L1192 387.6L1193 387.5L1194 387.9L1195 387.8L1196 387.6L1197 387.9L1198 388.7L1199 389.1L1200 388.8L1201 389.2L1202 389.5L1203 389.2L1204 389.8L1205 390.6L1206 391L1207 390.5L1208 391.3L1209 390.8L1210 390.9L1211 390.7L1212 391.8L1213 391.6L1214 392.6L1215 392.2L1216 392.3L1217 391.9L1218 393.1L1219 392.7L1220 392.9L1221 392.5L1222 393.5L1223 393.7L1224 393.4L1225 393.7L1226 393.9L1227 394.2L1228 394L1229 394.6L1230 394.1L1231 394.1L1232 394.2L1233 393.7L1234 394.3L1235 394.9L1236 394.7L1237 394.5L1238 394.9L1239 394.2L1240 394.8L1241 395.1L1242 395.2L1243 394.8L1244 395.3L1245 395.6L1246 394.9L1247 395.3L1248 394.6L1249 394.4L1250 395.2L1251 395L1252 394.9L1253 394.6L1254 394.6L1255 394.8L1256 394.8L1257 393.9L1258 393L1259 393.3L1260 392.4L1261 391.8L1262 391.4L1263 392.1L1264 391.9L1265 392.6L1266 392.5L1267 393.4L1268 393.6L1269 393.8L1270 393.9L1271 393.5L1272 394L1273 393L1274 392.9L1275 392.9L1276 392.2L1277 392.5L1278 392.3L1279 391.8L1280 392.2L1281 391.5L1282 391.4L1283 390.8L1284 390.4L1285 390.6L1286 390.5L1287 390.3L1288 390.5L1289 389.4L1290 389.6L1291 389.2L1292 390L1293 389.3L1294 389.1L1295 388.8L1296 389.2L1297 388.7L1298 388.7L1299 387.9L1300 388.7L1301 388.3L1302 388.1L1303 388.2L1304 387.6L1305 387.4L1306 387.6L1307 387.3L1308 387L1309 386.9L1310 386.6L1311 386.9L1312 386.8L1313 386.4L1314 386.8L1315 385.7L1316 385.9L1317 386.3L1318 385.5L1319 385L1320 385.7L1321 385.2L1322 384.5L1323 384.8L1324 384L1325 383.6L1326 383.7L1327 383.3L1328 382.8L1329 382.7L1330 382.2L1331 382.2L1332 381.9L1333 381.8L1334 381.2L1335 380.6L1336 380.4L1337 380.4L1338 380.7L1339 380.3L1340 379.6L1341 379.9L1342 379.1L1343 379.6L1344 379.1L1345 379.3L1346 379.1L1347 378.7L1348 378.8L1349 378.2L1350 378.4L1351 378.7L1352 379.5L1353 378.4L1354 378.1L1355 377.7L1356 378.3L1357 377.4L1358 377.6L1359 377.8L1360 377.3L1361 378.1L1362 377.9L1363 377.3L1364 377.3L1365 377L1366 376.9L1367 377.5L1368 377.5L1369 377.4L1370 377.3L1371 377L1372 377.3L1373 376.7L1374 377.1L1375 377.5L1376 377.5L1377 376.9L1378 377L1379 377.5L1380 377.6L1381 376.6L1382 377L1383 377.2L1384 377.5L1385 376.9L1386 377.4L1387 377.1L1388 378L1389 377.4L1390 377.3L1391 377.3L1392 377.7L1393 377.7L1394 377.2L1395 377.6L1396 377.2L1397 377.5L1398 377.4L1399 377.4L1400 377.7L1401 377.6L1402 378.2L1403 378.3L1404 378L1405 377.8L1406 378.5L1407 377.7L1408 377.8L1409 378.6L1410 378.7L1411 378.8L1412 378.5L1413 378.3L1414 378.6L1415 378.9L1416 378.6L1417 378.6L1418 378.5L1419 378.6L1420 379.2L1421 379.2L1422 378.7L1423 378.8L1424 379L1425 379.4L1426 378.9L1427 379.2L1428 378.7L1429 379L1430 379.6L1431 379.8L1432 379.2L1433 379.4L1434 379.9L1435 379.7L1436 379.7L1437 380.1L1438 380.1L1439 380.5L1440 380.6L1441 380.4L1442 380.7L1443 381L1444 380.9L1445 381.3L1446 382.3L1447 381.9L1448 383.1L1449 383.3L1450 383.6L1451 384.1L1452 384.4L1453 384.9L1454 384.7L1455 385L1456 385.2L1457 386.1L1458 386.1L1459 385.8L1460 386.2L1461 386.3L1462 386.8L1463 387.1L1464 387.9L1465 386.9L1466 388L1467 388.1L1468 388L1469 388.4L1470 388.5L1471 388.9L1472 389.4L1473 388.9L1474 389.9L1475 389.7L1476 390.5L1477 390.4L1478 390.9L1479 390.9L1480 391.3L1481 391.2L1482 391.2L1483 391.8L1484 392.1L1485 392.7L1486 391.6L1487 392.4L1488 392.9L1489 392.3L1490 392.8L1491 393.6L1492 393.4L1493 392.8L1494 393.6L1495 393.5L1496 393.4L1497 393.3L1498 393.2L1499 392.9L1500 392.9L1501 393.3L1502 393L1503 393.5L1504 392.8L1505 392.2L1506 392.7L1507 392.9L1508 392.9L1509 392.7L1510 392.4L1511 393.1L1512 392.4L1513 392.7L1514 392.4L1515 392L1516 392.7L1517 391.5L1518 391.9L1519 392.3L1520 392L1521 392.2L1522 391.9L1523 391.7L1524 392.5L1525 391.7L1526 391.6L1527 391.3L1528 391.3L1529 391.7L1530 391.6L1531 391.4L1532 391.1L1533 391.5L1534 390.7L1535 391.1L1536 391.1L1537 390.9L1538 391.2L1539 390.9L1540 390.8L1541 391.6L1542 391.3L1543 391.4L1544 391L1545 391.3L1546 391.2L1547 391.3L1548 391.6L1549 390.8L1550 390.9L1551 390.8L1552 389.7L1553 390.3L1554 390.7L1555 390.8L1556 390.3L1557 390.8L1558 390.7L1559 390.1L1560 390.6L1561 390.6L1562 390.1L1563 389.5L1564 390.1L1565 389.5L1566 389.3L1567 389.3L1568 388.9L1569 389.2L1570 389L1571 388.9L1572 388.6L1573 388L1574 388L1575 388.2L1576 387.6L1577 388.4L1578 387.3L1579 387L1580 387.3L1581 387L1582 386.6L1583 386.3L1584 386.4L1585 386.3L1586 386.1L1587 385.6L1588 385.6L1589 385.5L1590 385.3L1591 383.9L1592 384.4L1593 384.2L1594 384.1L1595 384L1596 384L1597 383.7L1598 383.2L1599 383.1L1600 383.4L1601 382.4L1602 382.5L1603 382.6L1604 382.1L1605 381.1L1606 381.6L1607 381.2L1608 381L1609 381.2L1610 380.7L1611 380.3L1612 380.4L1613 380.1L1614 379.8L1615 379.7L1616 379.6L1617 379.2L1618 379.1L1619 379.1L1620 378.7L1621 378.4L1622 379.1L1623 378.5L1624 378.4L1625 378.3L1626 378.2L1627 378.1L1628 378L1629 377.6L1630 378L1631 377.4L1632 377.8L1633 376.8L1634 377L1635 377.5L1636 377.1L1637 376.9L1638 377.1L1639 376.6L1640 376.9L1641 376.1L1642 376.6L1643 376.5L1644 376.8L1645 376.8L1646 376.3L1647 377L1648 376.3L1649 375.8L1650 375.7L1651 376.8L1652 376.3L1653 376.1L1654 376.1L1655 376L1656 376.7L1657 376.3L1658 376.8L1659 376.2L1660 375.6L1661 376.5L1662 376.2L1663 376.2L1664 376.8L1665 376.2L1666 376.7L1667 376.3L1668 376.1L1669 376.5L1670 376.2L1671 376.8L1672 376.7L1673 376.5L1674 376.7L1675 376.7L1676 376.5L1677 376.9L1678 376.6L1679 376.9L1680 376.5L1681 376.8L1682 377L1683 376.7L1684 376.9L1685 376.9L1686 377.4L1687 377L1688 377.5L1689 377.9L1690 377.6L1691 377.1L1692 377.7L1693 378.1L1694 377.8L1695 378.4L1696 378.3L1697 378.4L1698 378.3L1699 378.4L1700 378.6L1701 378.9L1702 379.2L1703 379.3L1704 379.3L1705 379.7L1706 380L1707 379.7L1708 380.3L1709 380.7L1710 381.3L1711 381.7L1712 382.2L1713 382.4L1714 383.3L1715 383.6L1716 383.4L1717 384.2L1718 384.1L1719 385.2L1720 384.8L1721 385.1L1722 385.5L1723 385.6L1724 385.9L1725 386.6L1726 386.4L1727 386.8L1728 387.1L1729 386.7L1730 387.7L1731 387.7L1732 388L1733 387.7L1734 388.4L1735 388.5L1736 388.5L1737 389.6L1738 389.3L1739 389.3L1740 389.6L1741 390.1L1742 390.4L1743 390.4L1744 390.8L1745 391.1L1746 390.5L1747 390.9L1748 390.9L1749 391.3L1750 391.8L1751 391.7L1752 391.2L1753 391.3L1754 391.5L1755 390.9L1756 390.9L1757 390.9L1758 390.2L1759 391L1760 390.9L1761 391L1762 390.6L1763 390.7L1764 390.8L1765 391.1L1766 391.1L1767 391.2L1768 391.8L1769 391.7L1770 391.2L1771 391.2L1772 392L1773 391.5L1774 392.1L1775 392.2L1776 391.6L1777 391.8L1778 392L1779 391.7L1780 391.8L1781 392L1782 392.4L1783 392.1L1784 392.2L1785 392.2L1786 391.9L1787 392.8L1788 391.7L1789 392.3L1790 392.6L1791 392.1L1792 392.7L1793 392.9L1794 392.3L1795 392.7L1796 392.3L1797 392.8L1798 392.7L1799 392.7L1800 393.1L1801 392.8L1802 393.1L1803 392.9L1804 392.3L1805 392.7L1806 392.8L1807 392.2L1808 393L1809 392.6L1810 392.6L1811 392.2L1812 392.4L1813 392.4L1814 392.2L1815 392.2L1816 391.5L1817 392.5L1818 391.6L1819 391.2L1820 391.5L1821 391.4L1822 391.7L1823 391.2L1824 391.4L1825 390.9L1826 391.8L1827 391.1L1828 391.4L1829 390.4L1830 390.8L1831 390.2L1832 390.5L1833 390.3L1834 389.5L1835 389.5L1836 389.3L1837 389L1838 389.1L1839 388.8L1840 388.5L1841 388.8L1842 388.7L1843 387.9L1844 387.9L1845 387.8L1846 387.5L1847 387.1L1848 387.3L1849 387.1L1850 386.8L1851 386.2L1852 386.6L1853 386.3L1854 385.4L1855 385.2L1856 385.3L1857 384.5L1858 384.6L1859 384.2L1860 383.8L1861 383.7L1862 383L1863 383.1L1864 382.5L1865 383.6L1866 383.2L1867 383L1868 382.5L1869 382.6L1870 382.5L1871 382.3L1872 382.1L1873 381.5L1874 381.7L1875 381.3L1876 381L1877 380.9L1878 381.3L1879 381.4L1880 380.6L1881 381.4L1882 381.2L1883 380.5L1884 380.4L1885 380.4L1886 380.6L1887 380.1L1888 379.8L1889 380.1L1890 379.3L1891 379.8L1892 380L1893 379.6L1894 379.6L1895 379.4L1896 379.3L1897 379L1898 378.5L1899 378.5L1900 378.4L1901 378.7L1902 378.6L1903 378.1L1904 377.6L1905 377.5L1906 377.5L1907 377.8L1908 377.3L1909 377.1L1910 376.7L1911 377.1L1912 376.8L1913 376.5L1914 376.5L1915 376.8L1916 376.1L1917 376.6L1918 376.4L1919 375.9L1920 376.1L1921 375.7L1922 375.4L1923 375.5L1924 375.2L1925 375.5L1926 375.3L1927 375.4L1928 375.4L1929 374.2L1930 375.1L1931 374.4L1932 375L1933 374.6L1934 374.8L1935 375.2L1936 374.2L1937 374.7L1938 374.6L1939 374L1940 374.8L1941 374.6L1942 374.4L1943 374.3L1944 375.5L1945 374.4L1946 374L1947 374.3L1948 374.5L1949 374.6L1950 374.8L1951 374.6L1952 375.3L1953 375.2L1954 375.1L1955 375.4L1956 375.8L1957 376.3L1958 376.4L1959 376.3L1960 376.6L1961 376.9L1962 377.7L1963 377.1L1964 377.6L1965 377.9L1966 377.7L1967 378.2L1968 378.5L1969 378.5L1970 379L1971 379.4L1972 379.7L1973 379.5L1974 379.8L1975 380.7L1976 379.8L1977 380.4L1978 380.8L1979 380.7L1980 381.1L1981 381.1L1982 381.4L1983 381.7L1984 381.4L1985 381.6L1986 381.7L1987 381.7L1988 382L1989 381.8L1990 382.6L1991 383.2L1992 383.6L1993 383.9L1994 383.8L1995 385L1996 384.7L1997 385.2L1998 386.1L1999 385.5L2000 386.4L2001 386.5L2002 386.7L2003 386.7L2004 387.4L2005 387.4L2006 388.1L2007 388.4L2008 387.9L2009 388.4L2010 388.7L2011 388.7L2012 389L2013 389.5L2014 389.7L2015 389.5L2016 390L2017 390.5L2018 390.2L2019 390.4L2020 391.4L2021 391.5L2022 390.7L2023 391L2024 391.7L2025 391.3L2026 391.8L2027 391.9L2028 392.3L2029 391.5L2030 391.8L2031 392.2L2032 393L2033 392.8L2034 392.5L2035 393.3L2036 393.5L2037 393.3L2038 393.4L2039 393.8L2040 394.1L2041 394L2042 394.2L2043 394.2L2044 394.2L2045 394.2L2046 394.7" stroke="#ffbaba" stroke-width="7" stroke-dasharray="29.4 28"/>
<path d="M273 384.7L274 384.7L275 384.7L276 384.7L277 384.6L278 384.7L279 384.7L280 384.7L281 384.7L282 384.7L283 384.7L284 384.7L285 384.7L286 384.7L287 384.7L288 384.7L289 384.7L290 384.7L291 384.7L292 384.7L293 384.7L294 384.7L295 384.7L296 384.6L297 384.7L298 384.7L299 384.7L300 384.6L301 384.7L302 384.7L303 384.7L304 384.6L305 384.7L306 384.7L307 384.6L308 384.7L309 384.6L310 384.7L311 384.6L312 384.7L313 384.6L314 384.7L315 384.7L316 384.6L317 384.7L318 384.6L319 384.7L320 384.7L321 384.7L322 384.6L323 384.6L324 384.7L325 384.7L326 384.6L327 384.7L328 384.6L329 384.7L330 384.7L331 384.7L332 384.6L333 384.7L334 384.6L335 384.7L336 384.7L337 384.7L338 384.7L339 384.7L340 384.6L341 384.7L342 384.6L343 384.6L344 384.6L345 384.6L346 384.6L347 384.7L348 384.7L349 384.6L350 384.6L351 384.7L352 384.6L353 384.7L354 384.6L355 384.6L356 384.7L357 384.7L358 384.6L359 384.7L360 384.6L361 384.7L362 384.6L363 384.6L364 384.6L365 384.6L366 384.7L367 384.7L368 384.6L369 384.6L370 384.6L371 384.6L372 384.6L373 384.6L374 384.6L375 384.6L376 384.6L377 384.7L378 384.6L379 384.6L380 384.6L381 384.6L382 384.6L383 384.6L384 384.6L385 384.6L386 384.6L387 384.6L388 384.6L389 384.6L390 384.6L391 384.6L392 384.6L393 384.6L394 384.6L395 384.6L396 384.6L397 384.6L398 384.6L399 384.6L400 384.6L401 384.6L402 384.6L403 384.6L404 384.6L405 384.6L406 384.6L407 384.6L408 384.6L409 384.6L410 384.6L411 384.6L412 384.6L413 384.6L414 384.6L415 384.6L416 384.6L417 384.6L418 384.6L419 384.6L420 384.6L421 384.6L422 384.6L423 384.6L424 384.6L425 384.6L426 384.6L427 384.6L428 384.6L429 384.6L430 384.6L431 384.6L432 384.6L433 384.6L434 384.6L435 384.6L436 384.6L437 384.6L438 384.6L439 384.7" stroke="#ff9999" stroke-width="7" stroke-dasharray="29.4 28"/>
<path d="M273 384.5L274 384.4L275 384.4L276 384.3L277 384.4L278 384.4L279 384.4L280 384.5L281 384.7L282 384.8L283 384.7L284 384.6L285 384.6L286 384.5L287 384.5L288 384.5L289 384.6L290 384.6L291 384.6L292 384.6L293 384.5L294 384.5L295 384.5L296 384.4L297 384.3L298 384.4L299 384.4L300 384.5L301 384.6L302 384.6L303 384.6L304 384.5L305 384.5L306 384.5L307 384.6L308 384.7L309 384.7L310 384.6L311 384.5L312 384.5L313 384.5L314 384.5L315 384.6L316 384.6L317 384.5L318 384.5L319 384.4L320 384.4L321 384.4L322 384.4L323 384.5L324 384.6L325 384.6L326 384.6L327 384.5L328 384.5L329 384.5L330 384.6L331 384.6L332 384.6L333 384.6L334 384.6L335 384.5L336 384.5L337 384.4L338 384.4L339 384.3L340 384.3L341 384.3L342 384.4L343 384.5L344 384.4L345 384.4L346 384.3L347 384.3L348 384.2L349 384.2L350 384.3L351 384.3L352 384.3L353 384.4L354 384.4L355 384.4L356 384.4L357 384.4L358 384.4L359 384.4L360 384.4L361 384.3L362 384.3L363 384.4L364 384.4L365 384.3L366 384.3L367 384.3L368 384.4L369 384.4L370 384.4L371 384.4L372 384.4L373 384.4L374 384.4L375 384.3L376 384.2L377 384.1L378 384.1L379 384.3L380 384.3L381 384.3L382 384.3L383 384.5L384 384.6L385 384.7L386 384.7L387 384.7L388 384.7L389 384.7L390 384.8L391 384.9L392 384.9L393 384.9L394 384.8L395 384.7L396 384.5L397 384.4L398 384.2L399 384.2L400 384.3L401 384.3L402 384.3L403 384.4L404 384.5L405 384.6L406 384.6L407 384.6L408 384.7L409 384.7L410 384.6L411 384.5L412 384.6L413 384.6L414 384.6L415 384.6L416 384.6L417 384.6L418 384.5L419 384.4L420 384.5L421 384.5L422 384.6L423 384.6L424 384.6L425 384.6L426 384.5L427 384.4L428 384.4L429 384.3L430 384.3L431 384.4L432 384.5L433 384.7L434 384.7L435 384.8L436 384.8L437 384.8L438 384.7L439 384.6L440 384.6L441 384.6L442 384.7L443 384.7L444 384.7L445 384.7L446 384.6L447 384.6L448 384.6L449 384.5L450 384.4L451 384.4L452 384.4L453 384.4L454 384.4L455 384.5L456 384.5L457 384.4L458 384.4L459 384.4L460 384.5L461 384.5L462 384.5L463 384.5L464 384.4L465 384.3L466 384.4L467 384.4L468 384.4L469 384.5L470 384.5L471 384.6L472 384.5L473 384.5L474 384.6L475 384.7L476 384.6L477 384.5L478 384.4L479 384.4L480 384.3L481 384.3L482 384.3L483 384.3L484 384.2L485 384.2L486 384.2L487 384.2L488 384.2L489 384.3L490 384.3L491 384.3L492 384.3L493 384.4L494 384.6L495 384.6L496 384.6L497 384.6L498 384.5L499 384.5L500 384.6L501 384.7L502 384.7L503 384.7L504 384.6L505 384.6L506 384.5L507 384.4L508 384.4L509 384.3L510 384.2L511 384.2L512 384.2L513 384.1L514 384.1L515 384.2L516 384.3L517 384.4L518 384.3L519 384.2L520 384.1L521 384.2L522 384.2L523 384.3L524 384.4L525 384.4L526 384.4L527 384.3L528 384.2L529 384.3L530 384.4L531 384.6L532 384.8L533 384.9L534 384.9L535 384.9L536 385L537 384.9L538 384.9L539 384.8L540 384.8L541 384.7L542 384.6L543 384.6L544 384.7L545 384.7L546 384.7L547 384.6L548 384.6L549 384.4L550 384.4L551 384.4L552 384.5L553 384.5L554 384.6L555 384.6L556 384.6L557 384.6L558 384.6L559 384.5L560 384.4L561 384.3L562 384.3L563 384.3L564 384.4L565 384.5L566 384.5L567 384.6L568 384.6L569 384.6L570 384.5L571 384.5L572 384.6L573 384.6L574 384.6L575 384.6L576 384.6L577 384.6L578 384.6L579 384.6L580 384.6L581 384.5L582 384.5L583 384.5L584 384.5L585 384.5L586 384.5L587 384.5L588 384.5L589 384.5L590 384.5L591 384.4L592 384.4L593 384.5L594 384.5L595 384.4L596 384.3L597 384.2L598 384.2L599 384.3L600 384.3L601 384.3L602 384.3L603 384.3L604 384.3L605 384.5L606 384.5L607 384.6L608 384.6L609 384.8L610 384.9L611 385L612 385L613 384.9L614 384.8L615 384.7L616 384.7L617 384.7L618 384.7L619 384.7L620 384.7L621 384.8L622 384.8L623 384.6L624 384.6L625 384.7L626 384.8L627 384.7L628 384.7L629 384.8L630 384.8L631 384.9L632 384.8L633 384.9L634 384.9L635 384.9L636 385L637 385L638 385L639 385L640 385L641 385L642 384.9L643 384.8L644 384.7L645 384.7L646 384.7L647 384.8L648 384.9L649 384.9L650 384.8L651 384.7L652 384.7L653 384.7L654 384.8L655 384.8L656 384.9L657 384.9L658 384.9L659 385L660 385L661 385L662 384.9L663 384.9L664 384.9L665 384.8L666 384.8L667 384.7L668 384.7L669 384.7L670 384.8L671 384.7L672 384.7L673 384.6L674 384.6L675 384.6L676 384.7L677 384.6L678 384.5L679 384.4L680 384.5L681 384.6L682 384.7L683 384.8L684 384.9L685 385L686 385.1L687 385.1L688 385.1L689 385L690 384.9L691 384.9L692 384.8L693 384.8L694 384.7L695 384.6L696 384.6L697 384.7L698 384.7L699 384.7L700 384.7L701 384.6L702 384.6L703 384.6L704 384.7L705 384.8L706 384.9L707 385.1L708 385.2L709 385.2L710 385L711 384.9L712 384.8L713 384.9L714 384.9L715 384.9L716 384.9L717 384.9L718 384.9L719 384.8L720 384.7L721 384.7L722 384.8L723 384.9L724 384.8L725 384.7L726 384.7L727 384.8L728 384.9L729 384.8L730 384.8L731 384.8L732 384.8L733 384.8L734 384.7L735 384.7L736 384.7L737 384.7L738 384.8L739 384.7L740 384.7L741 384.8L742 385L743 385.1L744 385.1L745 385.2L746 385.2L747 385.2L748 385.2L749 385.2L750 385.2L751 385.1L752 385.1L753 385.1L754 385.1L755 384.9L756 384.8L757 384.8L758 384.8L759 384.8L760 384.8L761 384.7L762 384.7L763 384.8L764 384.9L765 384.9L766 384.8L767 384.8L768 384.8L769 384.9L770 385L771 385L772 385L773 385L774 385.1L775 385.1L776 385.1L777 385.1L778 385.1L779 385.2L780 385.3L781 385.3L782 385.3L783 385.4L784 385.3L785 385.2L786 385.1L787 385.1L788 385.1L789 385.1L790 385.2L791 385.3L792 385.3L793 385.3L794 385.2L795 385.1L796 385.1L797 385.1L798 385.2L799 385.3L800 385.4L801 385.4L802 385.3L803 385.2L804 385.2L805 385.2L806 385.3L807 385.4L808 385.5L809 385.6L810 385.6L811 385.6L812 385.4L813 385.3L814 385.2L815 385.3L816 385.3L817 385.3L818 385.3L819 385.3L820 385.3L821 385.3L822 385.2L823 385.2L824 385.3L825 385.4L826 385.4L827 385.4L828 385.3L829 385.3L830 385.4L831 385.5L832 385.5L833 385.4L834 385.4L835 385.5L836 385.5L837 385.4L838 385.4L839 385.4L840 385.6L841 385.7L842 385.8L843 385.7L844 385.6L845 385.6L846 385.6L847 385.6L848 385.6L849 385.6L850 385.6L851 385.7L852 385.8L853 385.9L854 385.9L855 385.9L856 385.9L857 385.7L858 385.6L859 385.6L860 385.6L861 385.6L862 385.6L863 385.5L864 385.4L865 385.4L866 385.5L867 385.5L868 385.5L869 385.5L870 385.5L871 385.5L872 385.5L873 385.5L874 385.6L875 385.6L876 385.7L877 385.7L878 385.8L879 385.9L880 385.9L881 385.9L882 385.8L883 385.8L884 385.8L885 385.8L886 385.7L887 385.7L888 385.7L889 385.7L890 385.8L891 385.9L892 386L893 386L894 386.1L895 386.1L896 386.3L897 386.2L898 385.8L899 385.5L900 385.5L901 385.7L902 386L903 386L904 385.9L905 385.9L906 385.9L907 385.8L908 385.8L909 386.1L910 386.2L911 386.2L912 386.1L913 386.1L914 386.3L915 386.6L916 386.7L917 386.5L918 386.4L919 386.4L920 386.6L921 386.6L922 386.2L923 385.9L924 386L925 386.4L926 387L927 387.2L928 387.3L929 387.7L930 388.2L931 387.9L932 387.3L933 386.7L934 386.4L935 386.4L936 387L937 387.6L938 387.5L939 387.1L940 386.9L941 387L942 387L943 386.8L944 387.1L945 387.8L946 388.4L947 388.6L948 388.7L949 388.6L950 388.6L951 388.8L952 389L953 388.9L954 388.5L955 388.2L956 387.9L957 388L958 388.6L959 389L960 388.9L961 388.6L962 388.5L963 388.2L964 387.6L965 387.3L966 387.7L967 388L968 387.7L969 387.4L970 387.6L971 388.4L972 389L973 389.1L974 389L975 388.9L976 388.7L977 388.5L978 388.5L979 388.6L980 388.8L981 389L982 389L983 389L984 388.9L985 388.8L986 388.8L987 388.9L988 388.6L989 388.4L990 388.7L991 389.2L992 388.9L993 388.4L994 388.3L995 388.6L996 389L997 389.3L998 389.5L999 389.6L1000 389.4L1001 389L1002 388.8L1003 389.1L1004 389.4L1005 389.5L1006 389.2L1007 388.5L1008 387.6L1009 387.2L1010 387.6L1011 388.2L1012 388.4L1013 388.6L1014 389.1L1015 389.4L1016 389.1L1017 388.8L1018 388.9L1019 389.2L1020 389.2L1021 389.1L1022 389L1023 388.6L1024 388.2L1025 388.1L1026 388.1L1027 388L1028 387.8L1029 387.6L1030 387.4L1031 387.5L1032 387.5L1033 387.3L1034 386.9L1035 386.4L1036 385.8L1037 385.2L1038 385.4L1039 385.9L1040 386.4L1041 386.9L1042 387.5L1043 388.3L1044 388.8L1045 388.9L1046 388.7L1047 388.1L1048 387.1L1049 386L1050 385.1L1051 384.2L1052 383.3L1053 382.8L1054 383.3L1055 384.6L1056 386L1057 386.8L1058 386.8L1059 385.8L1060 384.8L1061 384.3L1062 383.8L1063 383.1L1064 382.7L1065 382.4L1066 382.2L1067 382.1L1068 382.1L1069 382L1070 381.7L1071 381.4L1072 381.3L1073 381.1L1074 380.8L1075 380.6L1076 380.6L1077 380.8L1078 380.7L1079 380.4L1080 380.1L1081 379.7L1082 379.2L1083 378.8L1084 378.6L1085 378.6L1086 378.4L1087 378.3L1088 378.1L1089 377.8L1090 377.5L1091 377.1L1092 376.5L1093 375.9L1094 375.3L1095 374.8L1096 374.6L1097 374.6L1098 374.7L1099 374.6L1100 374.6L1101 374.6L1102 375L1103 376.2L1104 377.5L1105 377.5L1106 376.2L1107 375.5L1108 375.5L1109 375.7L1110 375.3L1111 374.9L1112 374.6L1113 374.4L1114 374.2L1115 374.1L1116 374.2L1117 374.4L1118 374.5L1119 374.3L1120 374.1L1121 374L1122 374.1L1123 374.4L1124 374.5L1125 374.6L1126 374.9L1127 375.3L1128 375.4L1129 375.1L1130 375.2L1131 375.6L1132 375.8L1133 375.7L1134 375.6L1135 375.8L1136 376.3L1137 376.7L1138 376.8L1139 377L1140 377.2L1141 377L1142 376.5L1143 376L1144 375.8L1145 375.8L1146 375.9L1147 376L1148 376.1L1149 376.6L1150 377.6L1151 378.6L1152 379.2L1153 379.3L1154 379.5L1155 379.7L1156 379.8L1157 379.8L1158 380L1159 380.2L1160 380.1L1161 379.9L1162 380.1L1163 380.9L1164 381.8L1165 382.5L1166 382.9L1167 383.3L1168 383.7L1169 383.7L1170 383.6L1171 383.6L1172 383.5L1173 383.3L1174 383.1L1175 383L1176 382.9L1177 383.1L1178 383.8L1179 384.5L1180 385.1L1181 386L1182 386.7L1183 386.9L1184 386.9L1185 386.9L1186 386.7L1187 386.5L1188 386.5L1189 386.8L1190 387L1191 387.1L1192 387L1193 387.1L1194 387.5L1195 387.8L1196 388.1L1197 388.4L1198 388.7L1199 389.1L1200 389.4L1201 389.7L1202 389.8L1203 389.8L1204 390L1205 390.3L1206 390.8L1207 391.2L1208 391.6L1209 392.2L1210 392.9L1211 393.4L1212 393.6L1213 393.8L1214 393.9L1215 394L1216 394.6L1217 395.3L1218 395.5L1219 395.4L1220 395.5L1221 396L1222 396.5L1223 396.7L1224 396.8L1225 396.9L1226 397L1227 397.1L1228 397L1229 397L1230 397.2L1231 397.5L1232 397.5L1233 397.3L1234 397.2L1235 396.9L1236 396.6L1237 396.5L1238 396.6L1239 396.8L1240 396.8L1241 396.7L1242 396.6L1243 396.6L1244 396.8L1245 397.3L1246 397.8L1247 398.1L1248 398.1L1249 398L1250 398L1251 397.9L1252 397.8L1253 397.5L1254 397.1L1255 396.8L1256 396.7L1257 396.6L1258 396L1259 395.1L1260 394.3L1261 393.6L1262 392.9L1263 392.7L1264 393.5L1265 394.8L1266 395.5L1267 395.9L1268 396.2L1269 396.3L1270 396L1271 395.8L1272 395.6L1273 395.3L1274 394.7L1275 394L1276 393.2L1277 392.9L1278 392.8L1279 392.7L1280 392.7L1281 392.8L1282 392.5L1283 392.1L1284 391.8L1285 391.5L1286 391.3L1287 391.1L1288 391L1289 390.6L1290 390.2L1291 390.2L1292 390.2L1293 390.1L1294 390.3L1295 390.4L1296 390.3L1297 389.7L1298 389.2L1299 388.7L1300 388.6L1301 388.7L1302 388.6L1303 388.3L1304 387.9L1305 387.6L1306 387.6L1307 387.9L1308 388.1L1309 388.3L1310 388.2L1311 387.7L1312 387L1313 386.7L1314 386.6L1315 386.6L1316 386.7L1317 386.5L1318 386.1L1319 385.8L1320 385.6L1321 385.1L1322 384.8L1323 384.6L1324 384.4L1325 383.9L1326 383.3L1327 382.6L1328 381.8L1329 381.2L1330 380.7L1331 380.5L1332 380.7L1333 381L1334 380.8L1335 380.6L1336 380.5L1337 380.5L1338 380.7L1339 380.7L1340 380.5L1341 380.1L1342 379.7L1343 379.2L1344 378.8L1345 378.4L1346 377.9L1347 377.3L1348 377L1349 376.9L1350 376.7L1351 376.5L1352 376.6L1353 376.9L1354 377.3L1355 377.3L1356 376.8L1357 376.4L1358 376.3L1359 376.2L1360 375.8L1361 375.2L1362 374.9L1363 374.9L1364 375.2L1365 375.5L1366 375.6L1367 375.6L1368 375.3L1369 375.2L1370 375.2L1371 375.3L1372 375L1373 374.7L1374 374.7L1375 374.7L1376 374.6L1377 374.4L1378 374.4L1379 374.6L1380 375.1L1381 375.8L1382 376.3L1383 376.5L1384 376.4L1385 376.3L1386 376.5L1387 376.9L1388 376.7L1389 376.1L1390 375.7L1391 375.8L1392 375.8L1393 375.7L1394 375.6L1395 375.3L1396 375.2L1397 375.5L1398 376L1399 376.4L1400 376.5L1401 376.3L1402 376.1L1403 376L1404 376.1L1405 376.7L1406 377.4L1407 377.9L1408 377.8L1409 377.2L1410 376.9L1411 377L1412 377L1413 376.7L1414 376.6L1415 376.9L1416 377.1L1417 376.9L1418 376.7L1419 376.6L1420 376.6L1421 376.8L1422 377.1L1423 377.1L1424 377L1425 377.1L1426 377.5L1427 377.7L1428 377.6L1429 377.5L1430 377.4L1431 377.4L1432 377.4L1433 377.6L1434 377.7L1435 377.6L1436 377.8L1437 378.4L1438 378.7L1439 378.7L1440 378.8L1441 379.1L1442 379.6L1443 380.1L1444 380.6L1445 381L1446 381.3L1447 381.5L1448 381.7L1449 382L1450 382.4L1451 383L1452 383.7L1453 384.4L1454 384.8L1455 385.1L1456 385L1457 385L1458 385.3L1459 385.7L1460 386L1461 386.3L1462 386.9L1463 387.5L1464 387.8L1465 387.9L1466 388.2L1467 388.8L1468 389.3L1469 389.6L1470 389.6L1471 389.8L1472 390.1L1473 390.3L1474 390.5L1475 390.7L1476 390.8L1477 391L1478 391.4L1479 391.6L1480 391.8L1481 392.1L1482 392.7L1483 393.1L1484 393.4L1485 393.5L1486 393.7L1487 394L1488 394.5L1489 395L1490 395.5L1491 395.9L1492 395.9L1493 395.8L1494 395.9L1495 395.9L1496 395.7L1497 395.7L1498 395.9L1499 396L1500 396L1501 396.3L1502 396.8L1503 397.2L1504 396.8L1505 396L1506 395.2L1507 394.8L1508 394.8L1509 394.8L1510 394.8L1511 394.5L1512 394.3L1513 394.6L1514 395.1L1515 395.1L1516 394.8L1517 394.4L1518 394.1L1519 393.9L1520 393.8L1521 393.8L1522 393.6L1523 393.2L1524 392.9L1525 393L1526 393L1527 392.9L1528 393L1529 392.9L1530 392.6L1531 392.6L1532 392.9L1533 393L1534 392.8L1535 392.3L1536 392.1L1537 392L1538 391.8L1539 391.5L1540 391L1541 390.7L1542 390.8L1543 390.9L1544 390.7L1545 390.9L1546 391.4L1547 392.1L1548 392.7L1549 392.9L1550 392.7L1551 392.2L1552 391.8L1553 391.8L1554 392L1555 392.1L1556 391.9L1557 391.8L1558 392L1559 392.2L1560 391.9L1561 391.4L1562 391L1563 390.7L1564 390.3L1565 390L1566 389.9L1567 390.2L1568 390.4L1569 390.4L1570 390.2L1571 390.2L1572 390L1573 389.2L1574 388.4L1575 388L1576 388.1L1577 388.2L1578 388L1579 387.6L1580 386.9L1581 386.2L1582 385.7L1583 385.4L1584 385.3L1585 385.2L1586 385.2L1587 385L1588 384.9L1589 385.1L1590 385.1L1591 384.9L1592 384.8L1593 384.8L1594 384.6L1595 384.3L1596 384L1597 383.5L1598 383L1599 382.6L1600 382.6L1601 382.6L1602 382.4L1603 382.2L1604 382L1605 381.8L1606 381.7L1607 381.5L1608 381.1L1609 380.6L1610 380.2L1611 380L1612 379.7L1613 379.2L1614 378.5L1615 378L1616 377.7L1617 377.4L1618 377.1L1619 376.6L1620 376.1L1621 376L1622 376.3L1623 376.5L1624 376.2L1625 375.9L1626 375.6L1627 375.4L1628 375.1L1629 374.9L1630 374.6L1631 374.4L1632 374.5L1633 374.5L1634 374.4L1635 374.7L1636 375L1637 375L1638 374.7L1639 374.2L1640 373.9L1641 373.9L1642 374.3L1643 374.7L1644 374.6L1645 374L1646 373.7L1647 373.8L1648 373.9L1649 373.9L1650 374.2L1651 374.6L1652 374.4L1653 373.7L1654 373.3L1655 373.5L1656 373.9L1657 374L1658 373.8L1659 373.7L1660 374L1661 374.4L1662 374.4L1663 374.4L1664 374.4L1665 374.2L1666 374L1667 374L1668 374.1L1669 374.4L1670 374.5L1671 374.4L1672 374.5L1673 374.4L1674 374.1L1675 374.2L1676 374.4L1677 374.2L1678 374.1L1679 374L1680 374L1681 373.8L1682 374L1683 374.5L1684 375L1685 375.4L1686 375.7L1687 375.9L1688 375.9L1689 375.7L1690 375.6L1691 376.1L1692 376.9L1693 377L1694 376.6L1695 376.3L1696 376.2L1697 376.2L1698 376.5L1699 376.6L1700 377L1701 377.3L1702 377.3L1703 377.4L1704 377.7L1705 378.2L1706 378.7L1707 379.2L1708 379.5L1709 379.8L1710 380.1L1711 380.5L1712 381.1L1713 381.7L1714 382.4L1715 383L1716 383.5L1717 383.9L1718 384.4L1719 384.7L1720 384.7L1721 384.4L1722 384.4L1723 384.6L1724 385.1L1725 385.5L1726 385.9L1727 386.5L1728 387.3L1729 388L1730 388.4L1731 388.7L1732 388.7L1733 388.5L1734 388.7L1735 389.2L1736 389.6L1737 389.7L1738 389.8L1739 389.9L1740 390L1741 390.2L1742 390.6L1743 391.4L1744 392.4L1745 392.8L1746 392.8L1747 392.9L1748 393.3L1749 393.7L1750 393.6L1751 393.5L1752 393.7L1753 394L1754 393.7L1755 392.8L1756 392L1757 392L1758 392.1L1759 392.2L1760 392.1L1761 391.7L1762 391.2L1763 391.1L1764 391.4L1765 391.9L1766 392.1L1767 392.2L1768 392.3L1769 392.3L1770 392.6L1771 393L1772 393.4L1773 393.6L1774 393.5L1775 393.5L1776 393.8L1777 394L1778 393.9L1779 394.1L1780 394.3L1781 394.4L1782 394.3L1783 394.2L1784 393.9L1785 393.9L1786 394.1L1787 394.3L1788 394.5L1789 394.4L1790 394.3L1791 394L1792 394L1793 394.4L1794 394.6L1795 394.6L1796 394.8L1797 394.9L1798 394.6L1799 394.3L1800 394.3L1801 394.6L1802 394.8L1803 394.4L1804 393.8L1805 393.4L1806 393.2L1807 392.8L1808 392.3L1809 392.3L1810 392.9L1811 393.4L1812 393.6L1813 393.8L1814 393.6L1815 393.2L1816 393.3L1817 393.4L1818 393.2L1819 393.1L1820 393L1821 392.7L1822 392.3L1823 392.2L1824 392.3L1825 392.6L1826 392.7L1827 392.7L1828 392.6L1829 392.4L1830 392.3L1831 392.4L1832 392.6L1833 392.6L1834 392L1835 391.3L1836 390.8L1837 390.4L1838 390.2L1839 390L1840 389.9L1841 389.8L1842 389.6L1843 389.2L1844 388.6L1845 387.9L1846 387.2L1847 386.8L1848 386.7L1849 386.8L1850 386.8L1851 386.9L1852 387L1853 386.7L1854 386.1L1855 385.2L1856 384.3L1857 383.9L1858 383.7L1859 383.3L1860 383L1861 382.7L1862 382.5L1863 382.1L1864 381.8L1865 381.7L1866 381.8L1867 382.1L1868 382.8L1869 383.3L1870 383L1871 382.4L1872 381.8L1873 381.5L1874 381.4L1875 381.2L1876 380.8L1877 380.4L1878 380.2L1879 380L1880 379.6L1881 379.6L1882 379.6L1883 379.4L1884 379.1L1885 379L1886 379.1L1887 379L1888 378.7L1889 378.8L1890 379L1891 379L1892 378.6L1893 378.3L1894 378.5L1895 378.7L1896 378.4L1897 378.1L1898 378.1L1899 378.1L1900 377.5L1901 376.7L1902 376.3L1903 376.1L1904 375.7L1905 375.3L1906 374.9L1907 374.6L1908 374.4L1909 373.8L1910 373.1L1911 372.8L1912 373L1913 373.4L1914 373.2L1915 372.5L1916 371.9L1917 371.8L1918 372L1919 372L1920 372L1921 372.3L1922 373.1L1923 373.7L1924 373.8L1925 373.6L1926 373.4L1927 373.4L1928 373.3L1929 373.2L1930 373.3L1931 373.4L1932 373.3L1933 373.1L1934 372.9L1935 372.4L1936 371.9L1937 371.6L1938 371.8L1939 372.2L1940 372.5L1941 372.3L1942 372L1943 371.9L1944 372.3L1945 372.6L1946 372.7L1947 373L1948 373.2L1949 373L1950 372.5L1951 372.3L1952 372.5L1953 372.7L1954 372.5L1955 372.3L1956 372.4L1957 372.9L1958 373.6L1959 374.2L1960 374.7L1961 375.2L1962 375.7L1963 375.9L1964 376L1965 376.4L1966 376.7L1967 376.6L1968 376.5L1969 376.8L1970 377L1971 377.1L1972 377.2L1973 377.6L1974 377.9L1975 378L1976 377.8L1977 377.8L1978 378.3L1979 378.9L1980 379.1L1981 379.1L1982 379.2L1983 379.4L1984 379.6L1985 379.7L1986 379.3L1987 378.9L1988 378.7L1989 379.3L1990 380.6L1991 382L1992 383.4L1993 384.4L1994 385L1995 385.6L1996 386.2L1997 386.5L1998 386.6L1999 386.6L2000 386.7L2001 386.9L2002 387L2003 387.1L2004 387.3L2005 387.9L2006 388.4L2007 388.7L2008 389.2L2009 389.6L2010 390L2011 390.6L2012 391.2L2013 391.7L2014 392L2015 392L2016 391.9L2017 392.1L2018 392.7L2019 393.2L2020 393.4L2021 393.3L2022 393.1L2023 392.7L2024 392.5L2025 392.5L2026 392.6L2027 392.9L2028 393.5L2029 394.1L2030 394.3L2031 394.1L2032 393.9L2033 394L2034 394.5L2035 394.9L2036 395L2037 395.2L2038 395.4L2039 395.4L2040 395.4L2041 395.6L2042 396L2043 396.6L2044 397L2045 397.2L2046 397.4" stroke="#ff0000" stroke-width="2.6"/>
<path d="M273 385.1L274 385.1L275 385.1L276 385.1L277 385.2L278 385.1L279 385.2L280 385.2L281 385.1L282 385.1L283 385.2L284 385.2L285 385.2L286 385.2L287 385.2L288 385.2L289 385.2L290 385.2L291 385.2L292 385.1L293 385.2L294 385.2L295 385.2L296 385.2L297 385.2L298 385.2L299 385.2L300 385.2L301 385.2L302 385.2L303 385.2L304 385.1L305 385.2L306 385.2L307 385.2L308 385.2L309 385.2L310 385.2L311 385.2L312 385.2L313 385.2L314 385.2L315 385.2L316 385.2L317 385.2L318 385.2L319 385.2L320 385.2L321 385.2L322 385.2L323 385.2L324 385.2L325 385.2L326 385.2L327 385.2L328 385.2L329 385.2L330 385.2L331 385.2L332 385.2L333 385.3L334 385.2L335 385.2L336 385.2L337 385.3L338 385.2L339 385.2L340 385.2L341 385.3L342 385.3L343 385.3L344 385.2L345 385.2L346 385.2L347 385.3L348 385.3L349 385.3L350 385.3L351 385.3L352 385.3L353 385.3L354 385.2L355 385.3L356 385.3L357 385.3L358 385.3L359 385.3L360 385.3L361 385.3L362 385.3L363 385.3L364 385.3L365 385.3L366 385.3L367 385.3L368 385.3L369 385.3L370 385.3L371 385.3L372 385.3L373 385.3L374 385.3L375 385.3L376 385.3L377 385.3L378 385.3L379 385.3L380 385.3L381 385.3L382 385.3L383 385.3L384 385.3L385 385.3L386 385.3L387 385.3L388 385.3L389 385.3L390 385.3L391 385.3L392 385.3L393 385.3L394 385.3L395 385.4L396 385.3L397 385.3L398 385.3L399 385.3L400 385.3L401 385.4L402 385.3L403 385.3L404 385.4L405 385.4L406 385.3L407 385.4L408 385.4L409 385.3L410 385.4L411 385.3L412 385.3L413 385.4L414 385.4L415 385.3L416 385.4L417 385.4L418 385.4L419 385.4L420 385.4L421 385.4L422 385.4L423 385.4L424 385.4L425 385.4L426 385.4L427 385.4L428 385.4L429 385.4L430 385.4L431 385.4L432 385.4L433 385.4L434 385.4L435 385.3L436 385.4L437 385.4L438 385.4L439 385.4L440 385.3L441 385.4L442 385.4L443 385.3L444 385.4L445 385.5L446 385.4L447 385.4L448 385.4L449 385.4L450 385.4L451 385.4L452 385.5L453 385.4L454 385.4L455 385.5L456 385.4L457 385.4L458 385.4L459 385.4L460 385.3L461 385.5L462 385.3L463 385.4L464 385.3L465 385.4L466 385.4L467 385.4L468 385.3L469 385.4L470 385.4L471 385.4L472 385.4L473 385.5L474 385.4L475 385.4L476 385.4L477 385.5L478 385.5L479 385.6L480 385.5L481 385.5L482 385.5L483 385.4L484 385.5L485 385.4L486 385.4L487 385.5L488 385.5L489 385.5L490 385.3L491 385.5L492 385.4L493 385.4L494 385.3L495 385.5L496 385.5L497 385.4L498 385.3L499 385.4L500 385.6L501 385.4L502 385.4L503 385.5L504 385.5L505 385.5L506 385.5L507 385.5L508 385.5L509 385.3L510 385.5L511 385.4L512 385.5L513 385.4L514 385.4L515 385.4L516 385.5L517 385.4L518 385.3L519 385.5L520 385.6L521 385.4L522 385.5L523 385.4L524 385.4L525 385.6L526 385.5L527 385.5L528 385.4L529 385.3L530 385.5L531 385.5L532 385.6L533 385.7L534 385.5L535 385.6L536 385.3L537 385.6L538 385.6L539 385.6L540 385.5L541 385.5L542 385.6L543 385.4L544 385.5L545 385.6L546 385.4L547 385.3L548 385.5L549 385.5L550 385.5L551 385.5L552 385.4L553 385.5L554 385.6L555 385.4L556 385.4L557 385.3L558 385.6L559 385.7L560 385.3L561 385.6L562 385.6L563 385.4L564 385.4L565 385.3L566 385.3L567 385.5L568 385.5L569 385.5L570 385.6L571 385.5L572 385.3L573 385.7L574 385.6L575 385.3L576 385.7L577 385.5L578 385.5L579 385.7L580 385.1L581 385.2L582 385.6L583 385.4L584 385.3L585 385.7L586 385.5L587 385.2L588 385.3L589 385.6L590 385.7L591 385.1L592 385.5L593 385.4L594 385.2L595 385.4L596 385.2L597 385.3L598 385.7L599 385.5L600 385.6L601 385.5L602 385.5L603 385.6L604 385.2L605 385.4L606 385.6L607 385.3L608 385.4L609 385.6L610 385.7L611 385.3L612 385.3L613 385.5L614 385.5L615 385.3L616 385.5L617 385.5L618 385.4L619 386L620 385.7L621 385.6L622 385.6L623 386L624 385.6L625 385.3L626 385.5L627 385.4L628 385.3L629 385.5L630 385.5L631 385.4L632 385.3L633 385.6L634 385.1L635 385.6L636 385.4L637 385.5L638 384.9L639 385.8L640 385.1L641 385.2L642 385.5L643 385.3L644 385.3L645 384.9L646 385.3L647 385.4L648 385.5L649 385.3L650 385.4L651 385.5L652 385.3L653 385.2L654 385.8L655 385.2L656 385.7L657 385.4L658 385.7L659 385.3L660 385.5L661 385.5L662 385.3L663 385.5L664 385.2L665 385.4L666 385.3L667 385.6L668 385.4L669 385.1L670 385.3L671 385.4L672 385.2L673 385.7L674 385.5L675 385.6L676 385.2L677 385.3L678 385.6L679 385L680 385.5L681 385.4L682 385.3L683 385.4L684 385.1L685 385.4L686 385.1L687 385.1L688 385.7L689 385.2L690 384.8L691 385.6L692 385.2L693 384.5L694 385.4L695 385.6L696 385.5L697 385.8L698 385.3L699 385.5L700 385.1L701 385.4L702 385.8L703 385.5L704 385.4L705 384.8L706 385.3L707 385L708 385.6L709 385.2L710 385.5L711 385.1L712 385.9L713 385L714 385.4L715 386.1L716 385.4L717 385.1L718 385.5L719 385.6L720 385.6L721 384.8L722 385.4L723 384.8L724 385.9L725 385.4L726 385.2L727 385.5L728 385.5L729 385L730 385.8L731 385.3L732 384.8L733 385.7L734 385.8L735 385.7L736 385.5L737 385.1L738 385.6L739 385.9L740 385.6L741 385.8L742 385.1L743 385.6L744 385.6L745 384.9L746 384.8L747 385.1L748 385.3L749 385.5L750 385.2L751 385.3L752 385.3L753 385.3L754 385.5L755 385.5L756 385.3L757 385.4L758 385.2L759 385.6L760 385.2L761 385.8L762 385.3L763 385.4L764 385.1L765 385.2L766 385.4L767 385.3L768 385.1L769 384.9L770 385.3L771 385.3L772 385.5L773 385.7L774 385.2L775 384.6L776 385.2L777 384.7L778 384.9L779 385.6L780 385.5L781 385.1L782 385.1L783 385.3L784 384.7L785 385.4L786 385.2L787 385.9L788 384.9L789 385.6L790 385L791 385.6L792 384.9L793 385.5L794 385.1L795 385L796 385.2L797 385.4L798 385.4L799 385.8L800 385.6L801 384.3L802 385.1L803 384.6L804 385.1L805 385.5L806 384.8L807 384.8L808 385.3L809 385.2L810 385.8L811 385.4L812 385.4L813 385.9L814 385.1L815 385.2L816 384.9L817 385.3L818 385.6L819 385.7L820 385.2L821 385L822 385L823 384.8L824 385.3L825 385.7L826 384.4L827 384.5L828 385.7L829 384.7L830 385.3L831 384.8L832 385.5L833 385.5L834 385.3L835 385.5L836 385.2L837 385.4L838 385.9L839 385.6L840 385L841 384.9L842 385.1L843 385.1L844 385.2L845 385L846 385.4L847 385.2L848 385.3L849 385.2L850 385.4L851 384.8L852 385.8L853 385.3L854 385.4L855 385.4L856 385.6L857 385.5L858 385.3L859 385.1L860 384.6L861 385.3L862 385.1L863 385.1L864 386L865 384.5L866 385.2L867 385.6L868 385.5L869 385.6L870 384.8L871 384.9L872 385.4L873 385.1L874 385.8L875 385.3L876 385.3L877 385.3L878 385.1L879 385.2L880 385L881 385.2L882 385L883 385.2L884 384.6L885 384.6L886 385.3L887 385.2L888 384.7L889 385L890 384.7L891 385.8L892 384.5L893 385.6L894 384.7L895 385.1L896 384.9L897 384.8L898 385.3L899 385.2L900 384.8L901 384.6L902 385.6L903 385.4L904 384.9L905 384.8L906 385L907 384.9L908 385.3L909 384.5L910 384.8L911 384.5L912 385.3L913 385.4L914 384.8L915 385L916 385.3L917 384.7L918 384.5L919 385L920 384.7L921 384.4L922 384.8L923 384.2L924 383.4L925 383.9L926 383.5L927 384L928 383.1L929 382.7L930 382.6L931 382.2L932 381.2L933 381.4L934 380.9L935 381.2L936 381.1L937 379.6L938 379.3L939 379L940 378.7L941 378.4L942 378.4L943 378.5L944 377.4L945 377.1L946 376.8L947 377.7L948 377.6L949 376.6L950 376.5L951 377L952 377.4L953 377.3L954 377.1L955 377.3L956 377.2L957 376.9L958 377.8L959 377.1L960 376.8L961 377L962 376.6L963 377.1L964 377.4L965 376.5L966 377.2L967 377.4L968 376.6L969 375.8L970 375.7L971 375.7L972 375.1L973 374.9L974 375L975 374.7L976 374.7L977 373.8L978 374.6L979 374.1L980 373.8L981 373L982 373.6L983 372.7L984 373.3L985 372.8L986 372L987 372L988 372.8L989 372.4L990 371.9L991 372L992 372L993 371.7L994 371.9L995 371.7L996 371.8L997 372.2L998 371.7L999 372.4L1000 372.2L1001 372.5L1002 372.7L1003 372.9L1004 372.8L1005 372.9L1006 372.7L1007 373.1L1008 372.8L1009 373.3L1010 374L1011 374.1L1012 374.5L1013 374.3L1014 375.3L1015 374.7L1016 375.1L1017 374.9L1018 375.2L1019 374.7L1020 374.5L1021 374.1L1022 374.6L1023 374.3L1024 375L1025 375.4L1026 374.2L1027 374.8L1028 375.6L1029 376.3L1030 376.4L1031 376.8L1032 377.3L1033 377.8L1034 378.6L1035 378.7L1036 378.6L1037 379.3L1038 380.1L1039 380.2L1040 381L1041 381.4L1042 381.9L1043 383L1044 383.2L1045 383.7L1046 384.5L1047 385.5L1048 386.9L1049 386.8L1050 387.9L1051 388.1L1052 387.7L1053 389.1L1054 389.1L1055 389.4L1056 390L1057 391.5L1058 390.7L1059 391.5L1060 392.6L1061 392.9L1062 392.6L1063 393.7L1064 394.1L1065 394.8L1066 395.9L1067 396.4L1068 398.2L1069 400.4L1070 400.4L1071 401.9L1072 403.1L1073 403.4L1074 404.6L1075 405.3L1076 406.8L1077 407.4L1078 408.8L1079 409.8L1080 410.3L1081 411L1082 412L1083 412.8L1084 413.1L1085 414.6L1086 415.1L1087 415.9L1088 415.8L1089 417.1L1090 418.1L1091 418L1092 417.7L1093 418.7L1094 419L1095 419.4L1096 419.6L1097 420.2L1098 420.1L1099 420.6L1100 420.5L1101 421.1L1102 421.6L1103 421.2L1104 421.8L1105 421.4L1106 421.8L1107 421.9L1108 422.5L1109 421.8L1110 422.5L1111 421.3L1112 421.2L1113 420.6L1114 419.6L1115 418.3L1116 417.9L1117 418.4L1118 417.4L1119 417.9L1120 417.4L1121 417.5L1122 418.2L1123 417.8L1124 417.5L1125 416.6L1126 417.1L1127 417L1128 416.8L1129 417.2L1130 416L1131 416.6L1132 416.4L1133 416L1134 416.7L1135 415.4L1136 415.6L1137 415.3L1138 414.1L1139 413.8L1140 413.3L1141 413.1L1142 412.2L1143 411.1L1144 410.1L1145 408.5L1146 408.7L1147 407.9L1148 407.9L1149 407.5L1150 407.3L1151 406.2L1152 405.8L1153 404.6L1154 404.5L1155 403.5L1156 403.7L1157 402.3L1158 402.1L1159 401.2L1160 400.5L1161 400.1L1162 398.9L1163 398.4L1164 397.1L1165 397L1166 395.3L1167 395L1168 394.4L1169 391.8L1170 391.3L1171 390.5L1172 389.9L1173 388.2L1174 387.4L1175 385.8L1176 385.1L1177 383.2L1178 382.7L1179 380.1L1180 379.1L1181 379L1182 377L1183 375.2L1184 374.8L1185 373L1186 371.6L1187 369.7L1188 368.8L1189 367.6L1190 365.8L1191 365.6L1192 364.5L1193 364.3L1194 363.5L1195 362.1L1196 361.3L1197 360.7L1198 359.9L1199 358.4L1200 357.4L1201 356.6L1202 355.5L1203 354.9L1204 353.8L1205 352.7L1206 351.6L1207 351.9L1208 350.8L1209 350.1L1210 349.5L1211 348.4L1212 348.1L1213 346.7L1214 346.8L1215 345.9L1216 346.1L1217 344.8L1218 343.8L1219 343.3L1220 342.9L1221 341.8L1222 341.6L1223 341.1L1224 341.8L1225 340.6L1226 339.5L1227 340.2L1228 340.6L1229 339L1230 340.3L1231 338.8L1232 338.9L1233 338.1L1234 337.9L1235 337.3L1236 337.1L1237 336.5L1238 337.5L1239 336.4L1240 336.7L1241 336.5L1242 336L1243 336.1L1244 335.9L1245 335.8L1246 336.9L1247 338L1248 339.1L1249 340.5L1250 341.9L1251 343L1252 343.8L1253 343.8L1254 343.2L1255 343L1256 342.3L1257 342.2L1258 341.5L1259 341.3L1260 340.9L1261 341.1L1262 342L1263 341.2L1264 342.2L1265 342.7L1266 344.1L1267 345.2L1268 345.4L1269 345.4L1270 347.6L1271 348.5L1272 348.6L1273 350L1274 350.9L1275 350.8L1276 352.5L1277 353L1278 353.5L1279 353.5L1280 354.1L1281 354.6L1282 355.5L1283 355.4L1284 356.7L1285 356.8L1286 356.3L1287 358.2L1288 358.2L1289 358.5L1290 359.5L1291 359.6L1292 361.2L1293 361.2L1294 362.5L1295 364.1L1296 364.7L1297 364.7L1298 365L1299 366.3L1300 366.4L1301 367.1L1302 367.8L1303 367.7L1304 369L1305 368.5L1306 370.4L1307 370L1308 371.1L1309 372L1310 373.6L1311 374.8L1312 376.1L1313 377.8L1314 379.6L1315 381.3L1316 382.6L1317 384.7L1318 387L1319 390.1L1320 392.3L1321 394.5L1322 396.5L1323 398.3L1324 399.9L1325 401.4L1326 402.7L1327 405.1L1328 406.1L1329 406.3L1330 407.6L1331 408.7L1332 409.9L1333 409.8L1334 410.7L1335 411.6L1336 411.1L1337 412L1338 412.7L1339 412.9L1340 414.4L1341 414.4L1342 414.7L1343 414.7L1344 415.8L1345 416.1L1346 416.1L1347 416.6L1348 416.6L1349 417.5L1350 418.2L1351 418.6L1352 418.9L1353 419.3L1354 419.1L1355 419.5L1356 420.5L1357 420.5L1358 420.3L1359 421.1L1360 421.5L1361 421.7L1362 421.8L1363 421.8L1364 422.4L1365 423.1L1366 422.7L1367 422.6L1368 423.2L1369 422.8L1370 423.6L1371 423.5L1372 424.2L1373 424.1L1374 424.6L1375 425.2L1376 424.5L1377 424.4L1378 425L1379 425L1380 425.3L1381 425.1L1382 425.7L1383 425.7L1384 425L1385 425.9L1386 426.3L1387 426.7L1388 426.2L1389 426.3L1390 427.2L1391 426.7L1392 427.2L1393 427.5L1394 427.8L1395 427.7L1396 427.1L1397 427.7L1398 427L1399 426.8L1400 427.4L1401 426.7L1402 425.7L1403 425.6L1404 425.3L1405 424.8L1406 424L1407 424.7L1408 424.4L1409 423.9L1410 423.3L1411 423.3L1412 423.2L1413 422.4L1414 422.6L1415 422.9L1416 424.3L1417 425L1418 424.4L1419 424.1L1420 424.2L1421 422.4L1422 421.9L1423 420.7L1424 420.4L1425 418.9L1426 417.7L1427 416.4L1428 415.7L1429 415.1L1430 414L1431 412.4L1432 412.4L1433 410.8L1434 409.6L1435 409.1L1436 407.8L1437 406.8L1438 405.7L1439 404.8L1440 403.4L1441 401.6L1442 401.1L1443 399.2L1444 398.4L1445 396.6L1446 395L1447 393.1L1448 391.7L1449 389L1450 386.6L1451 384.6L1452 381.1L1453 379.6L1454 377.4L1455 374.6L1456 372.6L1457 369.9L1458 367.3L1459 364.9L1460 363.5L1461 361L1462 359.5L1463 358.4L1464 357L1465 356.2L1466 354.2L1467 352.4L1468 352.3L1469 351.5L1470 350.1L1471 349.9L1472 349.2L1473 347.6L1474 347.1L1475 346.4L1476 346.6L1477 346.2L1478 345.8L1479 344.8L1480 344.6L1481 344.1L1482 343.8L1483 343.7L1484 343.4L1485 343.8L1486 343.8L1487 343.7L1488 343.3L1489 342.8L1490 342.8L1491 342.8L1492 342.2L1493 342.1L1494 341.6L1495 341.1L1496 340.9L1497 340L1498 340.3L1499 338.8L1500 339.1L1501 337.9L1502 338.4L1503 337.7L1504 336.7L1505 336.4L1506 335.8L1507 335.9L1508 335.8L1509 336.4L1510 334.9L1511 335.8L1512 335.3L1513 335.9L1514 336.4L1515 336.7L1516 337.2L1517 337.7L1518 338.5L1519 339.3L1520 340.4L1521 340.1L1522 341.1L1523 341.4L1524 342L1525 342.6L1526 343.8L1527 344.7L1528 344.9L1529 344.5L1530 345.4L1531 345.5L1532 346.5L1533 347.3L1534 347.5L1535 348.1L1536 348.2L1537 347.9L1538 348.4L1539 349.4L1540 350.1L1541 350.7L1542 350.5L1543 350.9L1544 351.2L1545 351.7L1546 351.5L1547 351.3L1548 352.2L1549 352L1550 352.1L1551 351.7L1552 352.3L1553 351.8L1554 351.9L1555 352.7L1556 353L1557 353.7L1558 354.5L1559 354.5L1560 355.9L1561 355.8L1562 357.2L1563 357.4L1564 359L1565 360L1566 361.2L1567 362.8L1568 363.2L1569 365.2L1570 366.2L1571 367.8L1572 369.2L1573 370.1L1574 371.3L1575 372.3L1576 374.1L1577 375L1578 376.7L1579 377.3L1580 379.7L1581 380.2L1582 382.4L1583 383.3L1584 385.3L1585 386.9L1586 389.2L1587 391.3L1588 394.1L1589 396.1L1590 398.1L1591 400.1L1592 400.7L1593 402.8L1594 403.6L1595 404.3L1596 406.1L1597 407L1598 408.7L1599 408.9L1600 410L1601 411L1602 411L1603 412.6L1604 412.7L1605 414.2L1606 414.8L1607 414.7L1608 414.5L1609 415.6L1610 415.9L1611 416.5L1612 416.4L1613 416.4L1614 417L1615 417L1616 418.3L1617 417.7L1618 417.9L1619 418.4L1620 418.3L1621 418.8L1622 419.2L1623 419.4L1624 419.9L1625 420.8L1626 420.9L1627 420.8L1628 421.7L1629 422.6L1630 422.7L1631 423.6L1632 424.1L1633 424.8L1634 425L1635 425.4L1636 425.4L1637 426L1638 425.7L1639 426.8L1640 426.2L1641 426.1L1642 426.4L1643 426L1644 426L1645 425.9L1646 425.5L1647 425.3L1648 425.3L1649 425.8L1650 425.1L1651 425L1652 424.9L1653 425.2L1654 425.6L1655 424.5L1656 424.9L1657 424.7L1658 424.6L1659 424.9L1660 424.4L1661 425.2L1662 425.1L1663 424.8L1664 425.9L1665 425.8L1666 426.1L1667 425.3L1668 425.8L1669 425.8L1670 426.2L1671 426.5L1672 425.3L1673 426L1674 425.9L1675 426.3L1676 425.9L1677 425.4L1678 425.6L1679 425L1680 424.8L1681 424.6L1682 423.9L1683 423.6L1684 422.3L1685 422.9L1686 421.7L1687 420.7L1688 419.1L1689 417.8L1690 417.3L1691 416.6L1692 416.5L1693 415.1L1694 413.4L1695 413L1696 412L1697 410.5L1698 409.8L1699 408.4L1700 407L1701 405.7L1702 404.9L1703 404.2L1704 402.1L1705 400.8L1706 400.4L1707 397.9L1708 398.3L1709 396.1L1710 395.1L1711 393.9L1712 391L1713 389.1L1714 388L1715 384.8L1716 382.6L1717 380.6L1718 378.5L1719 376.2L1720 373.4L1721 370.9L1722 368.8L1723 366.8L1724 365.2L1725 363.1L1726 362.3L1727 360.1L1728 359.6L1729 359.2L1730 358.3L1731 357.3L1732 356.3L1733 355.8L1734 355.5L1735 355.1L1736 354.3L1737 353.3L1738 353L1739 352.9L1740 352.4L1741 351.1L1742 351L1743 350L1744 350L1745 351L1746 349.4L1747 348.9L1748 348.5L1749 348.1L1750 347.8L1751 348.5L1752 348.5L1753 349.4L1754 348.7L1755 349.8L1756 350.5L1757 349.6L1758 350.7L1759 350L1760 350.6L1761 350.6L1762 349.6L1763 349.1L1764 348.1L1765 347.7L1766 347.3L1767 346.1L1768 345.6L1769 345.4L1770 345.3L1771 344.4L1772 345.1L1773 345L1774 345.5L1775 345.7L1776 345.4L1777 345.7L1778 344.8L1779 344.9L1780 344.5L1781 344.8L1782 344.7L1783 344.5L1784 344L1785 344.3L1786 344.1L1787 344.4L1788 344L1789 344.4L1790 344.1L1791 343.3L1792 343.9L1793 343.5L1794 344.4L1795 344.7L1796 344.4L1797 344.7L1798 344.2L1799 344.2L1800 345L1801 345.4L1802 345.2L1803 346.1L1804 346.6L1805 347L1806 347.8L1807 348L1808 348.2L1809 349.1L1810 350.2L1811 350.5L1812 352.1L1813 352L1814 351L1815 349.9L1816 351.3L1817 350.3L1818 350.6L1819 351.1L1820 351.1L1821 351.2L1822 351.7L1823 351.5L1824 352.5L1825 352.1L1826 353.3L1827 353.9L1828 353.7L1829 355.5L1830 355.1L1831 356.6L1832 356.9L1833 358L1834 358.5L1835 360.6L1836 361L1837 362.3L1838 363L1839 364.1L1840 365.3L1841 366.9L1842 369.4L1843 371.3L1844 372.8L1845 373.6L1846 375.1L1847 376.6L1848 377.2L1849 378.6L1850 379.5L1851 380.4L1852 381.8L1853 383.4L1854 385.2L1855 387L1856 389.2L1857 390.2L1858 391.6L1859 394.2L1860 395.2L1861 396.8L1862 399.2L1863 400.2L1864 401.1L1865 402.4L1866 403L1867 404.1L1868 404.3L1869 404.8L1870 405.3L1871 406.3L1872 406.6L1873 406.1L1874 407L1875 406.8L1876 407.5L1877 407.3L1878 408L1879 408L1880 408.4L1881 409L1882 409.6L1883 410L1884 410.4L1885 412.2L1886 412.2L1887 412.4L1888 413L1889 413.5L1890 415.1L1891 416.5L1892 416.1L1893 417.3L1894 417.4L1895 419L1896 419.3L1897 419.8L1898 420.6L1899 421.1L1900 421.3L1901 421L1902 421.1L1903 421.4L1904 421.4L1905 423L1906 422.5L1907 422.8L1908 423L1909 423.8L1910 423.1L1911 423.9L1912 423.7L1913 423.8L1914 423.3L1915 424.5L1916 424.1L1917 424.4L1918 424.9L1919 425.1L1920 425.8L1921 425.4L1922 426.1L1923 426.4L1924 426.6L1925 427.2L1926 427.1L1927 427.9L1928 427.4L1929 427.3L1930 427.9L1931 428.5L1932 427.9L1933 427.9L1934 428L1935 428.2L1936 428L1937 428.2L1938 427.4L1939 428.5L1940 428L1941 427.4L1942 428.1L1943 427.6L1944 427.8L1945 426.6L1946 427.4L1947 426.6L1948 425.6L1949 426.3L1950 425.6L1951 425L1952 425L1953 424L1954 424.5L1955 423.9L1956 423.5L1957 423.7L1958 422.7L1959 422L1960 421.5L1961 421.3L1962 421.3L1963 420.2L1964 419.5L1965 419.6L1966 418.8L1967 418.1L1968 418.3L1969 416.4L1970 416.3L1971 414.9L1972 414.7L1973 414.2L1974 413.6L1975 411.9L1976 411.8L1977 410.8L1978 409.5L1979 409.4L1980 407.4L1981 405.9L1982 405.1L1983 402.9L1984 402.7L1985 400.9L1986 398.6L1987 396.8L1988 394L1989 391.2L1990 387.2L1991 384.4L1992 381.7L1993 380L1994 377.2L1995 375.4L1996 373.4L1997 370.9L1998 368.7L1999 367.6L2000 365.4L2001 364.1L2002 363.1L2003 361.2L2004 360.5L2005 360.9L2006 359.2L2007 358.3L2008 357.9L2009 357.2L2010 356.3L2011 355.9L2012 355.4L2013 354.9L2014 354.6L2015 353.5L2016 353.4L2017 354.1L2018 353.7L2019 354.3L2020 354.1L2021 353.6L2022 354.5L2023 354.2L2024 354.9L2025 355.5L2026 356.1L2027 355.5L2028 356.1L2029 356.2L2030 356.6L2031 355.6L2032 356.7L2033 357.2L2034 357.5L2035 357.3L2036 358.2L2037 358.5L2038 358.4L2039 358.6L2040 358.8L2041 359.3L2042 359.9L2043 360.3L2044 359.9L2045 360L2046 360.3" stroke="#b4b4ff" stroke-width="7" stroke-dasharray="29.4 28"/>
<path d="M273 385.1L274 385.1L275 385.1L276 385.1L277 385.2L278 385.1L279 385.2L280 385.2L281 385.1L282 385.1L283 385.2L284 385.2L285 385.2L286 385.2L287 385.2L288 385.2L289 385.2L290 385.2L291 385.2L292 385.1L293 385.2L294 385.2L295 385.2L296 385.2L297 385.2L298 385.2L299 385.2L300 385.2L301 385.2L302 385.2L303 385.2L304 385.1L305 385.2L306 385.2L307 385.2L308 385.2L309 385.2L310 385.2L311 385.2L312 385.2L313 385.2L314 385.2L315 385.2L316 385.2L317 385.2L318 385.2L319 385.2L320 385.2L321 385.2L322 385.2L323 385.2L324 385.2L325 385.2L326 385.2L327 385.2L328 385.2L329 385.2L330 385.2L331 385.2L332 385.2L333 385.3L334 385.2L335 385.2L336 385.2L337 385.3L338 385.2L339 385.2L340 385.2L341 385.3L342 385.3L343 385.3L344 385.2L345 385.2L346 385.2L347 385.3L348 385.3L349 385.3L350 385.3L351 385.3L352 385.3L353 385.3L354 385.2L355 385.3L356 385.3L357 385.3L358 385.3L359 385.3L360 385.3L361 385.3L362 385.3L363 385.3L364 385.3L365 385.3L366 385.3L367 385.3L368 385.3L369 385.3L370 385.3L371 385.3L372 385.3L373 385.3L374 385.3L375 385.3L376 385.3L377 385.3L378 385.3L379 385.3L380 385.3L381 385.3L382 385.3L383 385.3L384 385.3L385 385.3L386 385.3L387 385.3L388 385.3L389 385.3L390 385.3L391 385.3L392 385.3L393 385.3L394 385.3L395 385.4L396 385.3L397 385.3L398 385.3L399 385.3L400 385.3L401 385.4L402 385.3L403 385.3L404 385.4L405 385.4L406 385.3L407 385.4L408 385.4L409 385.3L410 385.4L411 385.3L412 385.3L413 385.4L414 385.4L415 385.3L416 385.4L417 385.4L418 385.4L419 385.4L420 385.4L421 385.4L422 385.4L423 385.4L424 385.4L425 385.4L426 385.4L427 385.4L428 385.4L429 385.4L430 385.4L431 385.4L432 385.4L433 385.4L434 385.4L435 385.3L436 385.4L437 385.4L438 385.4L439 385.4" stroke="#9999ff" stroke-width="7" stroke-dasharray="29.4 28"/>
<path d="M273 385.2L274 385.3L275 385.3L276 385.3L277 385.2L278 385.2L279 385.2L280 385.2L281 385.3L282 385.3L283 385.3L284 385.3L285 385.3L286 385.4L287 385.6L288 385.7L289 385.7L290 385.6L291 385.7L292 385.7L293 385.8L294 385.8L295 385.9L296 386L297 385.8L298 385.7L299 385.6L300 385.5L301 385.3L302 385.3L303 385.3L304 385.3L305 385.3L306 385.3L307 385.4L308 385.5L309 385.5L310 385.5L311 385.5L312 385.6L313 385.7L314 385.8L315 385.8L316 385.8L317 385.7L318 385.5L319 385.4L320 385.4L321 385.5L322 385.6L323 385.8L324 385.8L325 385.8L326 385.8L327 385.8L328 385.7L329 385.6L330 385.5L331 385.5L332 385.4L333 385.3L334 385.2L335 385.3L336 385.3L337 385.4L338 385.4L339 385.4L340 385.5L341 385.6L342 385.5L343 385.5L344 385.5L345 385.5L346 385.5L347 385.4L348 385.4L349 385.4L350 385.5L351 385.5L352 385.4L353 385.3L354 385.4L355 385.5L356 385.7L357 385.9L358 385.9L359 385.8L360 385.6L361 385.5L362 385.5L363 385.5L364 385.5L365 385.6L366 385.6L367 385.7L368 385.8L369 385.8L370 385.8L371 385.8L372 385.7L373 385.7L374 385.6L375 385.5L376 385.4L377 385.4L378 385.4L379 385.3L380 385.3L381 385.4L382 385.4L383 385.4L384 385.3L385 385.2L386 385.1L387 385.2L388 385.4L389 385.6L390 385.6L391 385.6L392 385.7L393 385.7L394 385.6L395 385.5L396 385.4L397 385.3L398 385.3L399 385.4L400 385.6L401 385.6L402 385.6L403 385.6L404 385.6L405 385.6L406 385.7L407 385.7L408 385.6L409 385.5L410 385.6L411 385.6L412 385.6L413 385.5L414 385.6L415 385.7L416 385.8L417 385.8L418 385.8L419 385.9L420 386L421 386L422 385.9L423 385.7L424 385.6L425 385.6L426 385.7L427 385.7L428 385.8L429 385.9L430 386L431 385.9L432 385.9L433 385.9L434 386L435 386L436 386L437 385.9L438 385.9L439 385.9L440 385.8L441 385.6L442 385.5L443 385.6L444 385.7L445 385.7L446 385.7L447 385.7L448 385.8L449 385.9L450 385.9L451 385.9L452 385.9L453 385.8L454 385.8L455 385.7L456 385.7L457 385.6L458 385.6L459 385.7L460 385.8L461 385.8L462 385.8L463 385.8L464 385.8L465 385.8L466 385.8L467 385.7L468 385.7L469 385.8L470 385.9L471 385.9L472 385.9L473 385.9L474 385.8L475 385.8L476 385.7L477 385.6L478 385.5L479 385.6L480 385.6L481 385.6L482 385.7L483 385.8L484 385.9L485 385.8L486 385.5L487 385.4L488 385.3L489 385.1L490 385.2L491 385.4L492 385.5L493 385.5L494 385.6L495 385.7L496 385.8L497 385.8L498 385.9L499 385.8L500 385.7L501 385.7L502 385.6L503 385.6L504 385.7L505 385.7L506 385.7L507 385.8L508 385.8L509 385.7L510 385.8L511 385.9L512 385.9L513 385.9L514 385.8L515 385.8L516 385.7L517 385.6L518 385.7L519 385.8L520 385.8L521 385.7L522 385.7L523 385.8L524 385.8L525 385.9L526 386L527 386.1L528 386.2L529 386.3L530 386.3L531 386.4L532 386.3L533 386.2L534 386.1L535 386L536 385.8L537 385.8L538 385.7L539 385.7L540 385.7L541 385.7L542 385.8L543 385.8L544 385.9L545 385.9L546 385.9L547 385.9L548 385.8L549 385.8L550 385.8L551 385.9L552 385.8L553 385.8L554 385.8L555 385.9L556 385.9L557 385.9L558 385.8L559 385.7L560 385.6L561 385.5L562 385.5L563 385.4L564 385.5L565 385.6L566 385.6L567 385.6L568 385.6L569 385.6L570 385.5L571 385.5L572 385.4L573 385.4L574 385.5L575 385.8L576 385.9L577 385.9L578 385.7L579 385.7L580 385.7L581 385.7L582 385.6L583 385.5L584 385.5L585 385.5L586 385.7L587 385.8L588 385.8L589 385.7L590 385.6L591 385.6L592 385.5L593 385.4L594 385.4L595 385.4L596 385.6L597 385.5L598 385.5L599 385.6L600 385.7L601 385.7L602 385.6L603 385.6L604 385.6L605 385.6L606 385.5L607 385.6L608 385.7L609 385.7L610 385.7L611 385.7L612 385.8L613 385.9L614 385.9L615 385.8L616 385.7L617 385.5L618 385.5L619 385.5L620 385.4L621 385.4L622 385.5L623 385.7L624 385.8L625 385.8L626 385.7L627 385.6L628 385.5L629 385.5L630 385.6L631 385.7L632 385.9L633 386L634 386.1L635 386.1L636 386L637 385.9L638 385.8L639 385.8L640 385.7L641 385.7L642 385.7L643 385.7L644 385.7L645 385.5L646 385.3L647 385.3L648 385.3L649 385.3L650 385.4L651 385.4L652 385.5L653 385.4L654 385.3L655 385.1L656 385L657 385L658 385.2L659 385.4L660 385.4L661 385.3L662 385.3L663 385.2L664 385.3L665 385.4L666 385.4L667 385.5L668 385.5L669 385.6L670 385.6L671 385.7L672 385.6L673 385.5L674 385.4L675 385.4L676 385.4L677 385.5L678 385.5L679 385.5L680 385.5L681 385.5L682 385.5L683 385.5L684 385.5L685 385.6L686 385.5L687 385.5L688 385.6L689 385.5L690 385.4L691 385.5L692 385.7L693 385.8L694 385.9L695 385.9L696 385.8L697 385.7L698 385.5L699 385.4L700 385.3L701 385.2L702 385.1L703 385.1L704 385.1L705 385L706 384.9L707 384.9L708 385.1L709 385.3L710 385.5L711 385.7L712 385.8L713 385.8L714 385.7L715 385.7L716 385.7L717 385.7L718 385.7L719 385.6L720 385.6L721 385.6L722 385.4L723 385.4L724 385.6L725 385.7L726 385.8L727 385.9L728 385.9L729 385.8L730 385.7L731 385.6L732 385.6L733 385.6L734 385.6L735 385.6L736 385.6L737 385.6L738 385.6L739 385.6L740 385.5L741 385.5L742 385.5L743 385.4L744 385.2L745 385.1L746 385.1L747 385.3L748 385.4L749 385.5L750 385.4L751 385.3L752 385.3L753 385.3L754 385.4L755 385.5L756 385.5L757 385.5L758 385.5L759 385.5L760 385.5L761 385.5L762 385.6L763 385.6L764 385.6L765 385.5L766 385.5L767 385.5L768 385.5L769 385.4L770 385.4L771 385.4L772 385.5L773 385.6L774 385.6L775 385.6L776 385.5L777 385.5L778 385.6L779 385.7L780 385.7L781 385.7L782 385.7L783 385.8L784 385.8L785 385.7L786 385.6L787 385.6L788 385.6L789 385.6L790 385.7L791 385.7L792 385.7L793 385.7L794 385.8L795 385.8L796 385.8L797 385.8L798 385.8L799 385.8L800 385.7L801 385.8L802 385.7L803 385.6L804 385.5L805 385.5L806 385.5L807 385.6L808 385.6L809 385.6L810 385.5L811 385.4L812 385.3L813 385.3L814 385.3L815 385.3L816 385.3L817 385.4L818 385.5L819 385.6L820 385.6L821 385.5L822 385.5L823 385.5L824 385.6L825 385.7L826 385.6L827 385.5L828 385.4L829 385.4L830 385.5L831 385.4L832 385.4L833 385.4L834 385.5L835 385.5L836 385.4L837 385.4L838 385.5L839 385.6L840 385.6L841 385.5L842 385.5L843 385.6L844 385.6L845 385.6L846 385.6L847 385.6L848 385.5L849 385.4L850 385.3L851 385.2L852 385.2L853 385.2L854 385.3L855 385.4L856 385.4L857 385.4L858 385.4L859 385.4L860 385.4L861 385.3L862 385.3L863 385.2L864 385.2L865 385.1L866 385.1L867 385.2L868 385.3L869 385.4L870 385.6L871 385.7L872 385.7L873 385.7L874 385.8L875 385.8L876 385.8L877 385.8L878 385.7L879 385.6L880 385.5L881 385.5L882 385.5L883 385.5L884 385.6L885 385.6L886 385.5L887 385.3L888 385.1L889 385.1L890 385.1L891 385.1L892 385L893 385L894 385.1L895 385.2L896 385.2L897 385.3L898 385.3L899 385.3L900 385L901 384.8L902 384.9L903 385.1L904 385.2L905 385.1L906 384.9L907 384.5L908 384.5L909 384.7L910 385L911 385L912 385.1L913 385.1L914 385L915 384.8L916 384.5L917 384.5L918 384.8L919 384.9L920 385L921 384.8L922 384.6L923 384.7L924 384.9L925 385L926 384.7L927 383.9L928 383.2L929 382.8L930 382.8L931 382.7L932 382.4L933 382.3L934 382L935 381.6L936 381.3L937 381L938 380.8L939 380.6L940 380.3L941 379.9L942 379.4L943 379L944 378.9L945 379.1L946 379.3L947 379L948 378.4L949 378.1L950 378.2L951 378.4L952 378.3L953 377.8L954 377.5L955 377.7L956 378.2L957 378.7L958 379.1L959 379.2L960 379.3L961 379.3L962 378.9L963 377.9L964 377L965 376.7L966 376.9L967 377.2L968 377.1L969 376.7L970 376.3L971 376L972 376L973 376L974 375.7L975 375.1L976 374.7L977 374.6L978 374.6L979 374.5L980 374.2L981 373.9L982 373.5L983 373.2L984 372.8L985 372.7L986 372.9L987 373.1L988 373L989 372.5L990 372.2L991 372.3L992 372.5L993 372.4L994 372L995 371.9L996 372.3L997 372.6L998 372.9L999 373L1000 373.1L1001 373.2L1002 373.3L1003 373.6L1004 374.1L1005 374.6L1006 374.9L1007 375.1L1008 375.1L1009 375.2L1010 375.4L1011 375.5L1012 375.2L1013 375.1L1014 375.7L1015 376.5L1016 376.8L1017 376.5L1018 376.3L1019 376.1L1020 375.6L1021 375L1022 374.7L1023 374.9L1024 375.1L1025 375.2L1026 375.3L1027 375.4L1028 376.1L1029 377.3L1030 378L1031 378.2L1032 378.4L1033 379.1L1034 379.9L1035 380.2L1036 379.9L1037 379.9L1038 380.4L1039 381.2L1040 381.8L1041 382.4L1042 383.2L1043 384.1L1044 384.9L1045 385.5L1046 385.7L1047 386.1L1048 386.9L1049 387.7L1050 388.2L1051 388.7L1052 389.3L1053 389.7L1054 390L1055 390.2L1056 390.6L1057 390.8L1058 390.8L1059 390.9L1060 391.2L1061 391.9L1062 392.7L1063 393.5L1064 394.2L1065 395.2L1066 396.6L1067 398.1L1068 400.2L1069 401.8L1070 402.6L1071 403.1L1072 403.6L1073 404.3L1074 405.5L1075 406.8L1076 408.1L1077 409.2L1078 410.2L1079 411.4L1080 412.9L1081 414.2L1082 414.9L1083 415.6L1084 416.8L1085 418.1L1086 418.7L1087 418.9L1088 418.9L1089 418.9L1090 419L1091 419.1L1092 419.1L1093 419.3L1094 419.5L1095 419.6L1096 419.8L1097 420L1098 420.4L1099 420.6L1100 420.7L1101 420.7L1102 420.7L1103 421L1104 421.8L1105 422.7L1106 423.2L1107 423.5L1108 423.9L1109 424.4L1110 424.5L1111 424L1112 423.3L1113 422L1114 420.5L1115 419.2L1116 418.7L1117 419L1118 419.3L1119 419.3L1120 419.4L1121 419.1L1122 418.5L1123 418.4L1124 418.5L1125 418.4L1126 417.9L1127 417.5L1128 417.3L1129 417.3L1130 417.1L1131 416.6L1132 416.3L1133 416.7L1134 417L1135 416.8L1136 416.2L1137 415.7L1138 415.2L1139 414.4L1140 413.6L1141 412.9L1142 412.5L1143 412.1L1144 411.4L1145 410.7L1146 409.9L1147 408.8L1148 407.7L1149 407L1150 406.4L1151 406L1152 405.5L1153 404.9L1154 404.4L1155 404.1L1156 403.4L1157 402.6L1158 402L1159 401.4L1160 400.7L1161 400.1L1162 399.1L1163 398L1164 397L1165 396.1L1166 395.4L1167 395L1168 394.4L1169 393.5L1170 392.4L1171 391.4L1172 390.4L1173 389.2L1174 387.7L1175 386.3L1176 384.9L1177 383.5L1178 382.4L1179 381.8L1180 381.3L1181 380.3L1182 378.7L1183 376.9L1184 375.2L1185 373.4L1186 371.4L1187 369.4L1188 367.8L1189 367.2L1190 366.8L1191 366.2L1192 365.6L1193 365L1194 364.1L1195 362.8L1196 361.9L1197 361.2L1198 360.4L1199 359.4L1200 358.4L1201 357.2L1202 355.7L1203 354.5L1204 353.7L1205 353.1L1206 352.6L1207 352L1208 351.5L1209 351.3L1210 351.3L1211 351.2L1212 350.9L1213 350.3L1214 349.7L1215 349.2L1216 348.4L1217 347L1218 345L1219 343.1L1220 342.1L1221 341.8L1222 341.5L1223 341.2L1224 340.7L1225 340.3L1226 340.1L1227 340.2L1228 340.1L1229 340L1230 339.8L1231 339.4L1232 338.6L1233 338L1234 337.7L1235 337.6L1236 337.6L1237 337.7L1238 338.2L1239 338.6L1240 338.5L1241 338.3L1242 338.1L1243 337.8L1244 337.4L1245 336.8L1246 337L1247 337.9L1248 339.6L1249 341.6L1250 342.9L1251 343.5L1252 343.6L1253 343.8L1254 344.1L1255 344L1256 343L1257 342L1258 341.3L1259 340.7L1260 340.4L1261 340.5L1262 341.1L1263 341.6L1264 342L1265 342.5L1266 343.5L1267 344.9L1268 346.6L1269 348L1270 349L1271 349.7L1272 350.5L1273 351.3L1274 352.1L1275 352.7L1276 353.3L1277 354.1L1278 355L1279 355.5L1280 356L1281 356.6L1282 357.2L1283 357.6L1284 358.1L1285 358.8L1286 359.4L1287 359.9L1288 360.1L1289 360.5L1290 360.8L1291 361.3L1292 362.2L1293 363.5L1294 364.5L1295 365.1L1296 365.6L1297 366.2L1298 366.8L1299 367.4L1300 368L1301 368.5L1302 368.8L1303 369.4L1304 370.1L1305 370.6L1306 371L1307 371.9L1308 372.8L1309 373.9L1310 375.2L1311 376.9L1312 378.5L1313 379.9L1314 381.4L1315 383L1316 384.6L1317 386.1L1318 387.9L1319 389.9L1320 391.9L1321 393.7L1322 395.4L1323 397.3L1324 399.2L1325 400.8L1326 402.4L1327 403.9L1328 405L1329 405.8L1330 406.4L1331 407L1332 407.9L1333 409L1334 410.2L1335 411.2L1336 412L1337 413L1338 413.8L1339 414.5L1340 414.9L1341 415L1342 415L1343 415.4L1344 416.4L1345 417.5L1346 418L1347 418.1L1348 418.3L1349 418.5L1350 418.6L1351 418.8L1352 419.2L1353 419.7L1354 420.1L1355 420.5L1356 420.9L1357 421.4L1358 421.6L1359 421.8L1360 422.1L1361 422.3L1362 422.3L1363 422.2L1364 421.9L1365 422L1366 422.7L1367 423.5L1368 424.2L1369 424.6L1370 424.6L1371 424.6L1372 424.7L1373 424.7L1374 424.8L1375 425.4L1376 426.3L1377 427.2L1378 427.6L1379 427.6L1380 427.6L1381 427.8L1382 427.6L1383 427.4L1384 427.5L1385 427.7L1386 427.8L1387 428L1388 428.5L1389 429.2L1390 429.5L1391 429.3L1392 429.1L1393 429.1L1394 429.2L1395 429L1396 428.5L1397 428L1398 427.6L1399 427.2L1400 426.9L1401 426.6L1402 426.4L1403 426.3L1404 426L1405 425.9L1406 426L1407 426L1408 425.7L1409 424.9L1410 424.2L1411 423.9L1412 423.8L1413 423.3L1414 422.9L1415 423.2L1416 424.3L1417 425.3L1418 425.3L1419 425L1420 424.5L1421 424L1422 423.4L1423 422.1L1424 420.3L1425 418.5L1426 417.1L1427 416L1428 415.3L1429 414.8L1430 414.3L1431 413.8L1432 413.2L1433 412.6L1434 411.9L1435 411L1436 410L1437 408.8L1438 407.3L1439 405.4L1440 403.5L1441 401.8L1442 400.6L1443 399.6L1444 398.3L1445 396.6L1446 395L1447 393.7L1448 392.5L1449 390.7L1450 388.6L1451 386.1L1452 383.5L1453 380.9L1454 378.4L1455 375.9L1456 373.4L1457 371.1L1458 368.9L1459 366.7L1460 364.6L1461 362.8L1462 361.5L1463 360.1L1464 358.5L1465 356.7L1466 355.1L1467 353.9L1468 352.7L1469 351.3L1470 349.8L1471 348.6L1472 347.8L1473 347.3L1474 346.6L1475 346.1L1476 346L1477 346.2L1478 346.5L1479 346.6L1480 346.6L1481 346.4L1482 345.8L1483 345.4L1484 345.1L1485 344.8L1486 344.4L1487 344.1L1488 343.6L1489 343L1490 342.7L1491 342.9L1492 343.1L1493 343L1494 342.6L1495 342.4L1496 342.2L1497 342.1L1498 341.7L1499 341.3L1500 340.8L1501 340.2L1502 339.7L1503 339.3L1504 339.2L1505 339.3L1506 339.2L1507 339L1508 338.4L1509 337.8L1510 337.8L1511 338L1512 338L1513 337.7L1514 337.7L1515 337.8L1516 338.3L1517 339.2L1518 340.3L1519 341.1L1520 341.5L1521 341.4L1522 341.2L1523 341.5L1524 342.5L1525 343.5L1526 344L1527 344.7L1528 345.9L1529 346.7L1530 347L1531 347.2L1532 347.7L1533 348.3L1534 348.6L1535 348.6L1536 348.6L1537 348.8L1538 349.2L1539 349.4L1540 349.8L1541 350.5L1542 351.3L1543 352L1544 352.5L1545 352.8L1546 353.4L1547 353.9L1548 353.8L1549 353.3L1550 352.9L1551 353.2L1552 353.8L1553 354.1L1554 354.2L1555 354.4L1556 354.6L1557 354.7L1558 354.8L1559 355.4L1560 356.4L1561 357L1562 357.4L1563 358.1L1564 359.1L1565 359.9L1566 361L1567 362.5L1568 364.4L1569 366L1570 367.3L1571 368.7L1572 370.3L1573 371.9L1574 373.4L1575 374.5L1576 375.5L1577 376.5L1578 377.4L1579 378.6L1580 380.4L1581 382.2L1582 383.7L1583 385.2L1584 386.8L1585 388.6L1586 390.5L1587 392.9L1588 395.2L1589 397.1L1590 398.6L1591 400.1L1592 401.7L1593 403.6L1594 405.3L1595 406.5L1596 407.2L1597 408L1598 409L1599 409.9L1600 410.5L1601 410.9L1602 411.3L1603 412.1L1604 413.1L1605 414.2L1606 414.9L1607 415.3L1608 415.7L1609 416.5L1610 417.1L1611 417.6L1612 418.1L1613 418.5L1614 418.9L1615 419.5L1616 419.7L1617 419.6L1618 419.6L1619 419.7L1620 419.6L1621 419.4L1622 419.7L1623 420.1L1624 420.4L1625 420.9L1626 421.4L1627 422L1628 422.7L1629 423.6L1630 424.3L1631 424.7L1632 425.1L1633 426L1634 426.8L1635 427.3L1636 427.5L1637 427.8L1638 427.9L1639 427.8L1640 427.8L1641 427.4L1642 427L1643 426.8L1644 426.7L1645 426.4L1646 426.3L1647 426.2L1648 426.3L1649 426.3L1650 426.3L1651 426.3L1652 426.2L1653 426.3L1654 426.5L1655 426.8L1656 427.1L1657 427.1L1658 426.6L1659 426.1L1660 425.9L1661 425.9L1662 425.9L1663 426.1L1664 426.5L1665 426.9L1666 427L1667 427.1L1668 427.3L1669 427.6L1670 427.6L1671 427.4L1672 427.1L1673 426.6L1674 426.4L1675 426.7L1676 427.4L1677 427.9L1678 428.1L1679 427.6L1680 426.8L1681 426.3L1682 425.9L1683 424.8L1684 423.6L1685 422.5L1686 421.4L1687 420.6L1688 419.9L1689 419.3L1690 418.6L1691 417.9L1692 417.3L1693 416.6L1694 415.6L1695 414.4L1696 413.1L1697 411.9L1698 410.7L1699 409.5L1700 408.2L1701 407.1L1702 406L1703 404.9L1704 403.7L1705 402.3L1706 400.8L1707 399.4L1708 398L1709 396.5L1710 395.1L1711 393.3L1712 391.1L1713 388.9L1714 386.7L1715 384.3L1716 381.8L1717 379.2L1718 376.7L1719 374.4L1720 371.9L1721 369.1L1722 366.8L1723 364.9L1724 363.2L1725 362.1L1726 361.3L1727 360.4L1728 359.5L1729 358.9L1730 358.7L1731 358.4L1732 357.7L1733 357L1734 356.2L1735 355.5L1736 355.3L1737 355.4L1738 355.5L1739 355L1740 354L1741 353L1742 352.2L1743 351.7L1744 351.4L1745 351L1746 350.5L1747 350.3L1748 350.3L1749 350.3L1750 350.1L1751 350.1L1752 350.4L1753 350.4L1754 350.1L1755 350.3L1756 351.1L1757 351.9L1758 352.7L1759 353L1760 352.8L1761 352.2L1762 351.6L1763 351.3L1764 350.9L1765 350.3L1766 349.4L1767 348.4L1768 347.5L1769 346.8L1770 346.2L1771 345.9L1772 346.1L1773 346.5L1774 346.8L1775 346.5L1776 346L1777 345.7L1778 345.9L1779 346.5L1780 347L1781 347.2L1782 347.2L1783 346.9L1784 346.3L1785 345.5L1786 345L1787 344.8L1788 344.6L1789 344.6L1790 344.9L1791 345.2L1792 345.3L1793 345.4L1794 345.4L1795 345.3L1796 344.7L1797 344.2L1798 343.9L1799 344.2L1800 344.7L1801 345.1L1802 345.5L1803 345.9L1804 346.4L1805 347L1806 347.9L1807 348.9L1808 349.4L1809 349.7L1810 350L1811 350.9L1812 351.8L1813 351.8L1814 351.1L1815 350.4L1816 350.7L1817 351.2L1818 352L1819 352.4L1820 352.5L1821 352.4L1822 352.7L1823 353.4L1824 354.1L1825 354.5L1826 354.7L1827 354.7L1828 355L1829 355.9L1830 357.1L1831 358.3L1832 359.2L1833 359.6L1834 359.9L1835 360.5L1836 361.4L1837 362.5L1838 363.5L1839 364.6L1840 365.9L1841 368L1842 370.4L1843 372.4L1844 373.7L1845 375.3L1846 376.9L1847 378.1L1848 379.4L1849 381.2L1850 382.4L1851 383L1852 383.6L1853 384.7L1854 386.1L1855 387.8L1856 389.6L1857 391.6L1858 393.5L1859 395.2L1860 396.5L1861 398L1862 399.8L1863 401.3L1864 402.4L1865 403.5L1866 404.3L1867 405L1868 405.5L1869 405.9L1870 406L1871 405.9L1872 405.7L1873 405.8L1874 406.5L1875 407.3L1876 408L1877 408.4L1878 408.7L1879 409L1880 409.3L1881 409.7L1882 410.2L1883 410.6L1884 411.2L1885 412.1L1886 413.1L1887 414.1L1888 415.1L1889 416.1L1890 417L1891 417.5L1892 417.7L1893 417.8L1894 418L1895 418.5L1896 419.3L1897 420.1L1898 420.7L1899 421L1900 421.6L1901 422.1L1902 422.3L1903 422.3L1904 422.8L1905 423.4L1906 423.3L1907 422.6L1908 422.3L1909 422.9L1910 424L1911 425L1912 425.8L1913 426.2L1914 426.3L1915 426.2L1916 426.2L1917 426.4L1918 426.4L1919 426.5L1920 427L1921 427.4L1922 427.5L1923 427.6L1924 427.8L1925 427.9L1926 427.9L1927 428L1928 428.2L1929 428.2L1930 428.1L1931 428.2L1932 428.7L1933 429.2L1934 429.4L1935 429.2L1936 428.9L1937 429L1938 429.5L1939 430.3L1940 431.1L1941 431.3L1942 430.6L1943 429.4L1944 428.7L1945 428.5L1946 428.6L1947 428.6L1948 428.1L1949 427.5L1950 427L1951 426.4L1952 425.7L1953 424.9L1954 424.2L1955 423.8L1956 423.8L1957 423.9L1958 424L1959 424L1960 423.5L1961 422.6L1962 421.7L1963 421.2L1964 420.8L1965 420.2L1966 419.7L1967 419.1L1968 418.3L1969 417.2L1970 416.1L1971 415.4L1972 414.6L1973 413.6L1974 412.5L1975 411.5L1976 410.8L1977 410.4L1978 409.9L1979 409L1980 408.1L1981 407.3L1982 406.7L1983 406L1984 404.6L1985 402.6L1986 400.3L1987 397.9L1988 394.8L1989 391.3L1990 387.9L1991 385.1L1992 382.6L1993 380.5L1994 378.7L1995 376.3L1996 373.6L1997 371.1L1998 369L1999 367.2L2000 365.4L2001 364L2002 363.1L2003 362.4L2004 361.6L2005 360.7L2006 359.9L2007 359.2L2008 358.4L2009 357.9L2010 357.4L2011 357L2012 356.3L2013 355.5L2014 355.2L2015 355.3L2016 355.2L2017 354.8L2018 354.7L2019 355L2020 355.4L2021 355.7L2022 356L2023 356.2L2024 356.3L2025 356.3L2026 356.5L2027 356.8L2028 357.3L2029 357.6L2030 357.7L2031 357.9L2032 358.3L2033 358.7L2034 359L2035 359.2L2036 359.5L2037 359.9L2038 360.4L2039 360.9L2040 361.1L2041 361.1L2042 361.6L2043 362.4L2044 363.1L2045 363.7L2046 363.9" stroke="#0000ff" stroke-width="2.6"/>
</g>
<path d="M317.6 138v9M317.6 471.5v-9M361.9 138v9M361.9 471.5v-9M406.2 138v9M406.2 471.5v-9M450.5 138v19M450.5 471.5v-19M494.8 138v9M494.8 471.5v-9M539.1 138v9M539.1 471.5v-9M583.4 138v9M583.4 471.5v-9M627.7 138v19M627.7 471.5v-19M672 138v9M672 471.5v-9M716.4 138v9M716.4 471.5v-9M760.7 138v9M760.7 471.5v-9M805 138v19M805 471.5v-19M849.3 138v9M849.3 471.5v-9M893.6 138v9M893.6 471.5v-9M937.9 138v9M937.9 471.5v-9M982.2 138v19M982.2 471.5v-19M1026.5 138v9M1026.5 471.5v-9M1070.8 138v9M1070.8 471.5v-9M1115.1 138v9M1115.1 471.5v-9M1159.4 138v19M1159.4 471.5v-19M1203.7 138v9M1203.7 471.5v-9M1248 138v9M1248 471.5v-9M1292.3 138v9M1292.3 471.5v-9M1336.6 138v19M1336.6 471.5v-19M1380.9 138v9M1380.9 471.5v-9M1425.2 138v9M1425.2 471.5v-9M1469.5 138v9M1469.5 471.5v-9M1513.8 138v19M1513.8 471.5v-19M1558.1 138v9M1558.1 471.5v-9M1602.5 138v9M1602.5 471.5v-9M1646.8 138v9M1646.8 471.5v-9M1691.1 138v19M1691.1 471.5v-19M1735.4 138v9M1735.4 471.5v-9M1779.7 138v9M1779.7 471.5v-9M1824 138v9M1824 471.5v-9M1868.3 138v19M1868.3 471.5v-19M1912.6 138v9M1912.6 471.5v-9M1956.9 138v9M1956.9 471.5v-9M2001.2 138v9M2001.2 471.5v-9" stroke="#262626" stroke-width="2.2" fill="none"/>
<path d="M273.3 446.8h19M273.3 385h19M273.3 323.3h19M273.3 261.5h19M273.3 199.8h19M2045.5 446.8h-19M2045.5 385h-19M2045.5 323.3h-19M2045.5 261.5h-19M2045.5 199.8h-19" stroke="#000" stroke-width="2.2" fill="none"/>
<path d="M272.2 138H2046.6 M272.2 471.5H2046.6" stroke="#333" stroke-width="2.3" fill="none"/>
<path d="M273.3 136.9V472.6 M2045.5 136.9V472.6" stroke="#1e1e1e" stroke-width="2.4" fill="none"/>
<path d="M317.6 584.6V918.2M361.9 584.6V918.2M406.2 584.6V918.2M494.8 584.6V918.2M539.1 584.6V918.2M583.4 584.6V918.2M672 584.6V918.2M716.4 584.6V918.2M760.7 584.6V918.2M849.3 584.6V918.2M893.6 584.6V918.2M937.9 584.6V918.2M1026.5 584.6V918.2M1070.8 584.6V918.2M1115.1 584.6V918.2M1203.7 584.6V918.2M1248 584.6V918.2M1292.3 584.6V918.2M1380.9 584.6V918.2M1425.2 584.6V918.2M1469.5 584.6V918.2M1558.1 584.6V918.2M1602.5 584.6V918.2M1646.8 584.6V918.2M1735.4 584.6V918.2M1779.7 584.6V918.2M1824 584.6V918.2M1912.6 584.6V918.2M1956.9 584.6V918.2M2001.2 584.6V918.2M273.3 901.5H2045.5M273.3 884.8H2045.5M273.3 868.2H2045.5M273.3 851.5H2045.5M273.3 818.1H2045.5M273.3 801.4H2045.5M273.3 784.8H2045.5M273.3 768.1H2045.5M273.3 734.7H2045.5M273.3 718H2045.5M273.3 701.4H2045.5M273.3 684.7H2045.5M273.3 651.3H2045.5M273.3 634.6H2045.5M273.3 618H2045.5M273.3 601.3H2045.5" stroke="#f6f6f6" stroke-width="2" fill="none"/>
<path d="M450.5 584.6V918.2M627.7 584.6V918.2M805 584.6V918.2M982.2 584.6V918.2M1159.4 584.6V918.2M1336.6 584.6V918.2M1513.8 584.6V918.2M1691.1 584.6V918.2M1868.3 584.6V918.2M273.3 834.8H2045.5M273.3 751.4H2045.5M273.3 668H2045.5" stroke="#dfdfdf" stroke-width="2.2" fill="none"/>
<g clip-path="url(#c2)" fill="none" stroke-linejoin="round">
<path d="M273 754.1L276 754.1L279 754.1L282 754.1L285 754.1L288 754.1L291 754.1L294 754.1L297 754.1L300 754.1L303 754.1L306 754.1L309 754.1L312 754.1L315 754.1L318 754.1L321 754.1L324 754.1L327 754.1L330 754.1L333 754.1L336 754.1L339 754.1L342 754.1L345 754.1L348 754.1L351 754.1L354 754.1L357 754.1L360 754.1L363 754.1L366 754.1L369 754.1L372 754.1L375 754.2L378 754.2L381 754.2L384 754.2L387 754.2L390 754.2L393 754.2L396 754.2L399 754.2L402 754.2L405 754.2L408 754.2L411 754.2L414 754.2L417 754.2L420 754.2L423 754.2L426 754.2L429 754.2L432 754.3L435 754.3L438 754.3L441 754.3L444 754.3L447 754.4L450 754.4L453 754.5L456 755.2L459 755.2L462 755.3L465 755.3L468 755.3L471 755.3L474 755.4L477 755.4L480 755.4L483 755.4L486 755.4L489 755.4L492 755.4L495 755.4L498 755.4L501 755.4L504 755.4L507 755.5L510 755.5L513 755.5L516 755.5L519 755.5L522 755.5L525 755.5L528 755.5L531 755.5L534 755.5L537 755.5L540 755.5L543 755.5L546 755.5L549 755.5L552 755.5L555 755.5L558 755.5L561 755.5L564 755.5L567 755.5L570 755.5L573 755.5L576 755.5L579 755.5L582 755.5L585 755.5L588 755.5L591 755.5L594 755.5L597 755.5L600 755.5L603 755.5L606 755.5L609 755.5L612 755.5L615 755.5L618 755.5L621 755.5L624 755.5L627 755.5L630 755.5L633 755.4L636 755.4L639 755.4L642 755.4L645 755.4L648 755.4L651 755.4L654 755.4L657 755.4L660 755.3L663 755.3L666 755.3L669 755.3L672 755.3L675 755.3L678 755.3L681 755.3L684 755.2L687 755.2L690 755.2L693 755.2L696 755.2L699 755.2L702 755.2L705 755.2L708 755.2L711 755.2L714 755.2L717 755.2L720 755.2L723 755.2L726 755.1L729 755.1L732 755.1L735 755.1L738 755.1L741 755.1L744 755.1L747 755.1L750 755.1L753 755.1L756 755.1L759 755.1L762 755.1L765 755.1L768 755.1L771 755.1L774 755.1L777 755.1L780 755.1L783 755L786 755L789 755L792 755L795 755L798 755L801 755L804 755L807 755L810 755L813 755L816 755L819 754.9L822 754.9L825 754.9L828 754.9L831 754.9L834 754.9L837 754.9L840 754.9L843 754.9L846 754.9L849 754.8L852 754.8L855 754.8L858 754.8L861 754.8L864 754.8L867 754.8L870 754.8L873 754.8L876 754.7L879 754.7L882 754.7L885 754.7L888 754.7L891 754.7L894 754.6L897 754.6L900 754.6L903 754.6L906 754.5L909 754.5L912 754.5L915 754.4L918 754.4L921 754.3L924 754.2L927 754.1L930 754L933 753.9L936 753.8L939 753.7L942 753.6L945 753.5L948 753.3L951 753L954 752.6L957 752L960 751.4L963 750.8L966 750.4L969 749.8L972 749.4L975 749.2L978 749.1L981 749.1L984 749L987 749L990 748.9L993 748.9L996 748.9L999 748.9L1002 748.9L1005 748.8L1008 748.8L1011 748.8L1014 748.8L1017 748.8L1020 748.8L1023 748.9L1026 748.9L1029 749L1032 749L1035 749.2L1038 749.4L1041 750L1044 751.6L1047 752.6L1050 753.7L1053 754.8L1056 755.9L1059 757.1L1062 758.3L1065 759.5L1068 760.8L1071 762L1074 763.1L1077 764.2L1080 765.2L1083 766L1086 766.8L1089 767.5L1092 768.1L1095 768.4L1098 768.5L1101 768.6L1104 768.7L1107 768.8L1110 768.9L1113 769L1116 769L1119 769.1L1122 769.1L1125 769.1L1128 769.2L1131 769.1L1134 769.1L1137 769L1140 768.7L1143 768.1L1146 766.9L1149 765.6L1152 764.2L1155 762.6L1158 761.1L1161 759.8L1164 758.5L1167 757.3L1170 756L1173 754.7L1176 753.2L1179 751.7L1182 750.1L1185 748.3L1188 746.3L1191 744.3L1194 742.4L1197 740.4L1200 738.5L1203 736.7L1206 735.1L1209 733.7L1212 732.5L1215 731.4L1218 730.5L1221 729.8L1224 729.2L1227 728.8L1230 728.5L1233 728.2L1236 728L1239 727.8L1242 727.6L1245 727.5L1248 727.4L1251 727.4L1254 727.3L1257 727.4L1260 727.4L1263 727.6L1266 727.8L1269 728.1L1272 728.6L1275 729.5L1278 730.9L1281 733.1L1284 735.6L1287 737.8L1290 739.5L1293 741.1L1296 742.9L1299 744.7L1302 746.7L1305 749L1308 751.5L1311 753.8L1314 755.8L1317 757.5L1320 758.8L1323 760.1L1326 761.2L1329 762.3L1332 763.3L1335 764.3L1338 765.1L1341 765.9L1344 766.7L1347 767.3L1350 767.9L1353 768.5L1356 769L1359 769.5L1362 769.9L1365 770.3L1368 770.6L1371 770.9L1374 771.2L1377 771.5L1380 771.7L1383 771.9L1386 772L1389 772.2L1392 772.4L1395 772.5L1398 772.6L1401 772.7L1404 772.8L1407 772.8L1410 772.7L1413 772.6L1416 772.3L1419 772L1422 771.4L1425 770.4L1428 769L1431 767L1434 764.4L1437 761.8L1440 759.4L1443 756.9L1446 754.2L1449 751.5L1452 748.8L1455 746.4L1458 744.2L1461 742.1L1464 740L1467 738.1L1470 736.4L1473 734.8L1476 733.6L1479 733L1482 732.8L1485 732.7L1488 732.4L1491 731.7L1494 730.7L1497 729.8L1500 729L1503 728.5L1506 728.2L1509 728.1L1512 728.1L1515 728.2L1518 728.3L1521 728.4L1524 728.6L1527 728.8L1530 729L1533 729.2L1536 729.4L1539 729.9L1542 730.8L1545 731.8L1548 733L1551 734.2L1554 735.6L1557 737.1L1560 738.7L1563 740.4L1566 742.3L1569 744.1L1572 746.1L1575 748.1L1578 750.2L1581 752.7L1584 755.5L1587 758.2L1590 760.5L1593 762.2L1596 763.3L1599 763.9L1602 764.4L1605 764.7L1608 764.9L1611 765.2L1614 765.7L1617 766.5L1620 767.5L1623 768.6L1626 769.5L1629 770.2L1632 770.7L1635 771L1638 771.2L1641 771.5L1644 771.6L1647 771.8L1650 771.9L1653 772L1656 772.1L1659 772.2L1662 772.3L1665 772.5L1668 772.6L1671 772.8L1674 772.8L1677 772.8L1680 772.5L1683 772.1L1686 771.3L1689 770.2L1692 768.8L1695 767.1L1698 765.2L1701 763.1L1704 760.7L1707 758.2L1710 755.6L1713 753L1716 750.5L1719 748.3L1722 746.1L1725 743.9L1728 741.9L1731 740.2L1734 738.9L1737 737.9L1740 737.2L1743 736.7L1746 736.3L1749 735.9L1752 735.5L1755 735L1758 734.4L1761 733.8L1764 733.2L1767 732.7L1770 732.4L1773 732.1L1776 731.9L1779 731.8L1782 731.7L1785 731.6L1788 731.6L1791 731.5L1794 731.5L1797 731.5L1800 731.5L1803 731.6L1806 731.7L1809 731.8L1812 732L1815 732.2L1818 732.6L1821 733.3L1824 734.5L1827 736.6L1830 738.7L1833 740.5L1836 742.4L1839 744.4L1842 746.4L1845 748.3L1848 750.2L1851 752L1854 753.9L1857 755.7L1860 757.3L1863 758.8L1866 759.9L1869 760.6L1872 761.1L1875 761.7L1878 762.6L1881 763.9L1884 765.4L1887 766.8L1890 768.1L1893 769.2L1896 770L1899 770.8L1902 771.5L1905 772.1L1908 772.5L1911 772.9L1914 773.2L1917 773.4L1920 773.6L1923 773.7L1926 773.8L1929 774L1932 774.1L1935 774.2L1938 774.2L1941 774.3L1944 774.3L1947 774.3L1950 774.2L1953 774.2L1956 774L1959 773.8L1962 773.4L1965 772.7L1968 771.4L1971 769.1L1974 765.5L1977 762.6L1980 759.7L1983 756.5L1986 753.4L1989 750.7L1992 748.3L1995 746.1L1998 744.3L2001 742.8L2004 741.6L2007 741.1L2010 740.9L2013 740.7L2016 740.6L2019 740.6L2022 740.6L2025 740.6L2028 740.6L2031 740.6L2034 740.7L2037 740.7L2040 740.7L2043 740.8L2046 740.8" stroke="#00ff00" stroke-width="7.6"/>
<path d="M273 745.5L275 745.5L275 745.7L277 745.7L277 745.9L279 745.9L279 746.2L281 746.2L281 745.2L283 745.2L283 745.2L285 745.2L285 746.1L287 746.1L287 745.9L289 745.9L289 746.1L291 746.1L291 746.1L293 746.1L293 746.5L295 746.5L295 746.1L297 746.1L297 746.2L299 746.2L299 745.8L301 745.8L301 745.2L303 745.2L303 746L305 746L305 745.8L307 745.8L307 746.6L309 746.6L309 746.4L311 746.4L311 746.2L313 746.2L313 745.7L315 745.7L315 745.9L317 745.9L317 746.3L319 746.3L319 745L321 745L321 744.9L323 744.9L323 745L325 745L325 745.5L327 745.5L327 745.7L329 745.7L329 746.4L331 746.4L331 746.2L333 746.2L333 746.2L335 746.2L335 744.9L337 744.9L337 746.8L339 746.8L339 745.5L341 745.5L341 745.8L343 745.8L343 745.6L345 745.6L345 744.8L347 744.8L347 745.7L349 745.7L349 744.2L351 744.2L351 744.5L353 744.5L353 745.5L355 745.5L355 745L357 745L357 745.3L359 745.3L359 745.6L361 745.6L361 745.4L363 745.4L363 745.8L365 745.8L365 745.8L367 745.8L367 745.5L369 745.5L369 745.4L371 745.4L371 745.7L373 745.7L373 745.9L375 745.9L375 746L377 746L377 745.4L379 745.4L379 745.3L381 745.3L381 745.1L383 745.1L383 746L385 746L385 746.3L387 746.3L387 746.1L389 746.1L389 745.5L391 745.5L391 746.1L393 746.1L393 745.9L395 745.9L395 746.3L397 746.3L397 746.6L399 746.6L399 746.3L401 746.3L401 746.2L403 746.2L403 745.7L405 745.7L405 746.7L407 746.7L407 746.3L409 746.3L409 746.4L411 746.4L411 747.1L413 747.1L413 746.4L415 746.4L415 746.7L417 746.7L417 746.3L419 746.3L419 745.5L421 745.5L421 745.5L423 745.5L423 747L425 747L425 746.6L427 746.6L427 746.4L429 746.4L429 747.1L431 747.1L431 747.3L433 747.3L433 747.9L435 747.9L435 747.5L437 747.5L437 746.6L439 746.6L439 747L441 747L441 747.5L443 747.5L443 747.2L445 747.2L445 747.9L447 747.9L447 746.1L449 746.1L449 746.5L451 746.5L451 747.5L453 747.5L453 748.7L455 748.7L455 748.7L457 748.7L457 747.9L459 747.9L459 747.5L461 747.5L461 746.3L463 746.3L463 747.8L465 747.8L465 748.4L467 748.4L467 748.3L469 748.3L469 747.8L471 747.8L471 748.3L473 748.3L473 747.6L475 747.6L475 748.8L477 748.8L477 747.7L479 747.7L479 747.3L481 747.3L481 748.9L483 748.9L483 748.6L485 748.6L485 748.7L487 748.7L487 749L489 749L489 749.7L491 749.7L491 749.7L493 749.7L493 746.6L495 746.6L495 747.4L497 747.4L497 744.6L499 744.6L499 748.3L501 748.3L501 747.7L503 747.7L503 748.3L505 748.3L505 747.4L507 747.4L507 747.9L509 747.9L509 747.1L511 747.1L511 747.2L513 747.2L513 746.9L515 746.9L515 744.8L517 744.8L517 747.5L519 747.5L519 746.5L521 746.5L521 745.7L523 745.7L523 747.5L525 747.5L525 747.9L527 747.9L527 748.4L529 748.4L529 747.4L531 747.4L531 748L533 748L533 747.5L535 747.5L535 749L537 749L537 746.3L539 746.3L539 746L541 746L541 748L543 748L543 749.1L545 749.1L545 745.4L547 745.4L547 747.3L549 747.3L549 746.1L551 746.1L551 744.1L553 744.1L553 747.2L555 747.2L555 749.6L557 749.6L557 747L559 747L559 746.4L561 746.4L561 747.5L563 747.5L563 746.4L565 746.4L565 750.5L567 750.5L567 746.3L569 746.3L569 742.8L571 742.8L571 746.3L573 746.3L573 745.8L575 745.8L575 745.1L577 745.1L577 745.7L579 745.7L579 746.6L581 746.6L581 748.5L583 748.5L583 745.6L585 745.6L585 746L587 746L587 747.2L589 747.2L589 745.1L591 745.1L591 744.6L593 744.6L593 746L595 746L595 747.3L597 747.3L597 746.8L599 746.8L599 746.5L601 746.5L601 748.5L603 748.5L603 747.2L605 747.2L605 743.4L607 743.4L607 743.8L609 743.8L609 744.7L611 744.7L611 747L613 747L613 748L615 748L615 748.1L617 748.1L617 747.5L619 747.5L619 747.6L621 747.6L621 744.6L623 744.6L623 743.4L625 743.4L625 746.7L627 746.7L627 747.8L629 747.8L629 746.6L631 746.6L631 746.3L633 746.3L633 748.2L635 748.2L635 746.8L637 746.8L637 745.2L639 745.2L639 745.6L641 745.6L641 747.4L643 747.4L643 746.6L645 746.6L645 747.1L647 747.1L647 744.4L649 744.4L649 747.1L651 747.1L651 748.9L653 748.9L653 745L655 745L655 745.1L657 745.1L657 748L659 748L659 746.3L661 746.3L661 743.5L663 743.5L663 745.6L665 745.6L665 748.6L667 748.6L667 746.9L669 746.9L669 750.1L671 750.1L671 748.7L673 748.7L673 747.1L675 747.1L675 748.5L677 748.5L677 745.2L679 745.2L679 749L681 749L681 746L683 746L683 744.9L685 744.9L685 747.7L687 747.7L687 746.5L689 746.5L689 745.7L691 745.7L691 745.7L693 745.7L693 749L695 749L695 746.6L697 746.6L697 746.9L699 746.9L699 747.1L701 747.1L701 743.6L703 743.6L703 744.9L705 744.9L705 749.1L707 749.1L707 745.6L709 745.6L709 749.4L711 749.4L711 746.2L713 746.2L713 746.5L715 746.5L715 746.5L717 746.5L717 745.3L719 745.3L719 746.2L721 746.2L721 748.4L723 748.4L723 744.5L725 744.5L725 744.4L727 744.4L727 747.6L729 747.6L729 744.4L731 744.4L731 744.5L733 744.5L733 743.9L735 743.9L735 744.1L737 744.1L737 741.5L739 741.5L739 745.6L741 745.6L741 745.1L743 745.1L743 743.7L745 743.7L745 744.9L747 744.9L747 746L749 746L749 747.9L751 747.9L751 744.2L753 744.2L753 749.5L755 749.5L755 745.4L757 745.4L757 747.9L759 747.9L759 746.3L761 746.3L761 747.3L763 747.3L763 747.4L765 747.4L765 745.6L767 745.6L767 742.2L769 742.2L769 747.7L771 747.7L771 742.5L773 742.5L773 745L775 745L775 750.7L777 750.7L777 747.4L779 747.4L779 747.1L781 747.1L781 747.2L783 747.2L783 746.4L785 746.4L785 743.7L787 743.7L787 745.5L789 745.5L789 745.3L791 745.3L791 745.5L793 745.5L793 748.6L795 748.6L795 749.4L797 749.4L797 748.7L799 748.7L799 749.6L801 749.6L801 752.1L803 752.1L803 750.7L805 750.7L805 745.5L807 745.5L807 741.4L809 741.4L809 746.6L811 746.6L811 745.9L813 745.9L813 749.5L815 749.5L815 745.4L817 745.4L817 749.4L819 749.4L819 743.4L821 743.4L821 747.2L823 747.2L823 743.1L825 743.1L825 752L827 752L827 745.5L829 745.5L829 740.6L831 740.6L831 750.2L833 750.2L833 748.2L835 748.2L835 749.7L837 749.7L837 741.9L839 741.9L839 746.8L841 746.8L841 749.8L843 749.8L843 746L845 746L845 746.8L847 746.8L847 744.4L849 744.4L849 745.6L851 745.6L851 749.9L853 749.9L853 744L855 744L855 747.6L857 747.6L857 747.4L859 747.4L859 745.5L861 745.5L861 747.6L863 747.6L863 739.4L865 739.4L865 747.4L867 747.4L867 741.1L869 741.1L869 745.2L871 745.2L871 746.6L873 746.6L873 748.1L875 748.1L875 747.1L877 747.1L877 746.2L879 746.2L879 748.1L881 748.1L881 751.5L883 751.5L883 743.7L885 743.7L885 743.3L887 743.3L887 743.1L889 743.1L889 741.8L891 741.8L891 742.7L893 742.7L893 745.2L895 745.2L895 747.4L897 747.4L897 743.7L899 743.7L899 742.8L901 742.8L901 745L903 745L903 742.4L905 742.4L905 754.5L907 754.5L907 751.2L909 751.2L909 746.1L911 746.1L911 739L913 739L913 743.4L915 743.4L915 743.4L917 743.4L917 743.6L919 743.6L919 738.7L921 738.7L921 744.4L923 744.4L923 744.4L925 744.4L925 744.7L927 744.7L927 742.2L929 742.2L929 748.2L931 748.2L931 742.9L933 742.9L933 736.5L935 736.5L935 739.9L937 739.9L937 745.4L939 745.4L939 744.9L941 744.9L941 732.9L943 732.9L943 736L945 736L945 739.1L947 739.1L947 741.1L949 741.1L949 735.3L951 735.3L951 739.4L953 739.4L953 736.8L955 736.8L955 731L957 731L957 743.9L959 743.9L959 738.9L961 738.9L961 740.8L963 740.8L963 736.9L965 736.9L965 732.8L967 732.8L967 733.5L969 733.5L969 737.1L971 737.1L971 728.1L973 728.1L973 741.2L975 741.2L975 744.2L977 744.2L977 720.1L979 720.1L979 734L981 734L981 725.2L983 725.2L983 729.7L985 729.7L985 727.1L987 727.1L987 725.3L989 725.3L989 730.9L991 730.9L991 727.1L993 727.1L993 734.7L995 734.7L995 727.9L997 727.9L997 717.6L999 717.6L999 723.5L1001 723.5L1001 723.7L1003 723.7L1003 719.5L1005 719.5L1005 714.8L1007 714.8L1007 731.9L1009 731.9L1009 721.4L1011 721.4L1011 722.1L1013 722.1L1013 714.3L1015 714.3L1015 726.7L1017 726.7L1017 724.1L1019 724.1L1019 731.1L1021 731.1L1021 735.4L1023 735.4L1023 723.1L1025 723.1L1025 722.6L1027 722.6L1027 732.5L1029 732.5L1029 732.7L1031 732.7L1031 730.7L1033 730.7L1033 736.5L1035 736.5L1035 733.9L1037 733.9L1037 735.4L1039 735.4L1039 734.9L1041 734.9L1041 724.3L1043 724.3L1043 743.3L1045 743.3L1045 746.8L1047 746.8L1047 740.4L1049 740.4L1049 745.1L1051 745.1L1051 752.3L1053 752.3L1053 757.5L1055 757.5L1055 757L1057 757L1057 756.6L1059 756.6L1059 760.8L1061 760.8L1061 759.3L1063 759.3L1063 756.6L1065 756.6L1065 765.2L1067 765.2L1067 768.3L1069 768.3L1069 775.3L1071 775.3L1071 766.7L1073 766.7L1073 773.1L1075 773.1L1075 779.9L1077 779.9L1077 786.1L1079 786.1L1079 802.8L1081 802.8L1081 793.1L1083 793.1L1083 803.4L1085 803.4L1085 806.1L1087 806.1L1087 812.4L1089 812.4L1089 818.5L1091 818.5L1091 816.2L1093 816.2L1093 811.3L1095 811.3L1095 816.8L1097 816.8L1097 827.5L1099 827.5L1099 831L1101 831L1101 826L1103 826L1103 833L1105 833L1105 825.1L1107 825.1L1107 818.7L1109 818.7L1109 825L1111 825L1111 826.9L1113 826.9L1113 831.7L1115 831.7L1115 833L1117 833L1117 823.6L1119 823.6L1119 834.5L1121 834.5L1121 825.3L1123 825.3L1123 830.1L1125 830.1L1125 832.7L1127 832.7L1127 833.1L1129 833.1L1129 832.1L1131 832.1L1131 826.9L1133 826.9L1133 828.7L1135 828.7L1135 832.8L1137 832.8L1137 824L1139 824L1139 817.6L1141 817.6L1141 807.2L1143 807.2L1143 818.3L1145 818.3L1145 811L1147 811L1147 813.2L1149 813.2L1149 805.1L1151 805.1L1151 805.9L1153 805.9L1153 803.9L1155 803.9L1155 808.2L1157 808.2L1157 795.3L1159 795.3L1159 790L1161 790L1161 793.7L1163 793.7L1163 794L1165 794L1165 780.6L1167 780.6L1167 784.1L1169 784.1L1169 778.2L1171 778.2L1171 777.7L1173 777.7L1173 761.5L1175 761.5L1175 767.7L1177 767.7L1177 761.1L1179 761.1L1179 757.8L1181 757.8L1181 746.7L1183 746.7L1183 743.1L1185 743.1L1185 725.3L1187 725.3L1187 730.6L1189 730.6L1189 732.1L1191 732.1L1191 720.8L1193 720.8L1193 715.6L1195 715.6L1195 713.1L1197 713.1L1197 714.7L1199 714.7L1199 699.5L1201 699.5L1201 691.1L1203 691.1L1203 688.9L1205 688.9L1205 686.5L1207 686.5L1207 686.1L1209 686.1L1209 685.6L1211 685.6L1211 673.1L1213 673.1L1213 667.9L1215 667.9L1215 674.5L1217 674.5L1217 672.3L1219 672.3L1219 659.5L1221 659.5L1221 665.9L1223 665.9L1223 659.3L1225 659.3L1225 656.6L1227 656.6L1227 657.1L1229 657.1L1229 652.4L1231 652.4L1231 646.2L1233 646.2L1233 646.5L1235 646.5L1235 650L1237 650L1237 655.2L1239 655.2L1239 654.8L1241 654.8L1241 656.9L1243 656.9L1243 647.6L1245 647.6L1245 651L1247 651L1247 641.4L1249 641.4L1249 641.6L1251 641.6L1251 651L1253 651L1253 644.9L1255 644.9L1255 657.6L1257 657.6L1257 654.3L1259 654.3L1259 651.1L1261 651.1L1261 651.6L1263 651.6L1263 644.5L1265 644.5L1265 662.8L1267 662.8L1267 661.5L1269 661.5L1269 676.3L1271 676.3L1271 668.1L1273 668.1L1273 659.8L1275 659.8L1275 654.8L1277 654.8L1277 654L1279 654L1279 665.5L1281 665.5L1281 670.7L1283 670.7L1283 665.7L1285 665.7L1285 681.9L1287 681.9L1287 687.9L1289 687.9L1289 682L1291 682L1291 689.5L1293 689.5L1293 684.9L1295 684.9L1295 698.5L1297 698.5L1297 688.1L1299 688.1L1299 690.5L1301 690.5L1301 691L1303 691L1303 699.4L1305 699.4L1305 699.2L1307 699.2L1307 721.6L1309 721.6L1309 728.5L1311 728.5L1311 726.2L1313 726.2L1313 731.8L1315 731.8L1315 739.1L1317 739.1L1317 746L1319 746L1319 746.9L1321 746.9L1321 765.1L1323 765.1L1323 766.1L1325 766.1L1325 780L1327 780L1327 761.2L1329 761.2L1329 775.6L1331 775.6L1331 793.4L1333 793.4L1333 793.4L1335 793.4L1335 793.8L1337 793.8L1337 792.3L1339 792.3L1339 805.6L1341 805.6L1341 803.9L1343 803.9L1343 817L1345 817L1345 818.8L1347 818.8L1347 820.9L1349 820.9L1349 807L1351 807L1351 819.5L1353 819.5L1353 827.8L1355 827.8L1355 829.3L1357 829.3L1357 828.4L1359 828.4L1359 828.8L1361 828.8L1361 819.6L1363 819.6L1363 833.5L1365 833.5L1365 837.8L1367 837.8L1367 830.9L1369 830.9L1369 833.2L1371 833.2L1371 831.5L1373 831.5L1373 835.1L1375 835.1L1375 833L1377 833L1377 837.8L1379 837.8L1379 833.7L1381 833.7L1381 825.2L1383 825.2L1383 829L1385 829L1385 834.3L1387 834.3L1387 834.2L1389 834.2L1389 842.8L1391 842.8L1391 842.2L1393 842.2L1393 845.7L1395 845.7L1395 840.5L1397 840.5L1397 848L1399 848L1399 838.6L1401 838.6L1401 839.2L1403 839.2L1403 848.9L1405 848.9L1405 846.1L1407 846.1L1407 840.5L1409 840.5L1409 849.2L1411 849.2L1411 850.6L1413 850.6L1413 844.8L1415 844.8L1415 846L1417 846L1417 842.6L1419 842.6L1419 840.5L1421 840.5L1421 829.6L1423 829.6L1423 822L1425 822L1425 828.5L1427 828.5L1427 810L1429 810L1429 821.3L1431 821.3L1431 814.4L1433 814.4L1433 818L1435 818L1435 809.7L1437 809.7L1437 809L1439 809L1439 797.9L1441 797.9L1441 795.1L1443 795.1L1443 797.8L1445 797.8L1445 776.8L1447 776.8L1447 766L1449 766L1449 776.3L1451 776.3L1451 766.3L1453 766.3L1453 755.1L1455 755.1L1455 746.4L1457 746.4L1457 744.1L1459 744.1L1459 733.8L1461 733.8L1461 734.8L1463 734.8L1463 722.3L1465 722.3L1465 714.7L1467 714.7L1467 715.1L1469 715.1L1469 701.9L1471 701.9L1471 703.9L1473 703.9L1473 688.7L1475 688.7L1475 686.5L1477 686.5L1477 685.7L1479 685.7L1479 676.8L1481 676.8L1481 682.6L1483 682.6L1483 674.4L1485 674.4L1485 674L1487 674L1487 660.3L1489 660.3L1489 672.6L1491 672.6L1491 667.4L1493 667.4L1493 653.4L1495 653.4L1495 663.3L1497 663.3L1497 661.6L1499 661.6L1499 653.8L1501 653.8L1501 650L1503 650L1503 647.2L1505 647.2L1505 654.5L1507 654.5L1507 653.9L1509 653.9L1509 651L1511 651L1511 661.6L1513 661.6L1513 648.7L1515 648.7L1515 648.5L1517 648.5L1517 638.1L1519 638.1L1519 649L1521 649L1521 653.6L1523 653.6L1523 645.6L1525 645.6L1525 664.6L1527 664.6L1527 652.6L1529 652.6L1529 658.8L1531 658.8L1531 657.1L1533 657.1L1533 656.7L1535 656.7L1535 642.8L1537 642.8L1537 663.9L1539 663.9L1539 647.5L1541 647.5L1541 667.5L1543 667.5L1543 656.9L1545 656.9L1545 663.7L1547 663.7L1547 684.2L1549 684.2L1549 667.6L1551 667.6L1551 674.1L1553 674.1L1553 669.9L1555 669.9L1555 676L1557 676L1557 679.8L1559 679.8L1559 686.8L1561 686.8L1561 665L1563 665L1563 680.5L1565 680.5L1565 687.7L1567 687.7L1567 693L1569 693L1569 688.2L1571 688.2L1571 697.8L1573 697.8L1573 712.9L1575 712.9L1575 710.3L1577 710.3L1577 725.7L1579 725.7L1579 713L1581 713L1581 721.3L1583 721.3L1583 731.8L1585 731.8L1585 732.2L1587 732.2L1587 747.9L1589 747.9L1589 745.4L1591 745.4L1591 761.1L1593 761.1L1593 758.2L1595 758.2L1595 768.8L1597 768.8L1597 781.2L1599 781.2L1599 788.3L1601 788.3L1601 784.1L1603 784.1L1603 784.8L1605 784.8L1605 800.8L1607 800.8L1607 795.8L1609 795.8L1609 807L1611 807L1611 815L1613 815L1613 814L1615 814L1615 804.2L1617 804.2L1617 821.6L1619 821.6L1619 822.5L1621 822.5L1621 815.2L1623 815.2L1623 818.8L1625 818.8L1625 831.4L1627 831.4L1627 826.7L1629 826.7L1629 828.5L1631 828.5L1631 833.3L1633 833.3L1633 830.4L1635 830.4L1635 844.9L1637 844.9L1637 839L1639 839L1639 835L1641 835L1641 837.4L1643 837.4L1643 837.1L1645 837.1L1645 846.3L1647 846.3L1647 832.5L1649 832.5L1649 843.8L1651 843.8L1651 834.8L1653 834.8L1653 827.4L1655 827.4L1655 842L1657 842L1657 838.5L1659 838.5L1659 838.5L1661 838.5L1661 836.8L1663 836.8L1663 839.4L1665 839.4L1665 836.9L1667 836.9L1667 847.8L1669 847.8L1669 848.8L1671 848.8L1671 842.2L1673 842.2L1673 842.7L1675 842.7L1675 843.3L1677 843.3L1677 844.5L1679 844.5L1679 839.6L1681 839.6L1681 835.2L1683 835.2L1683 834.5L1685 834.5L1685 835.6L1687 835.6L1687 832.2L1689 832.2L1689 829.7L1691 829.7L1691 837L1693 837L1693 829.5L1695 829.5L1695 828.7L1697 828.7L1697 815L1699 815L1699 819.8L1701 819.8L1701 809.8L1703 809.8L1703 802.4L1705 802.4L1705 794.2L1707 794.2L1707 788.5L1709 788.5L1709 783.9L1711 783.9L1711 781.6L1713 781.6L1713 774.5L1715 774.5L1715 780L1717 780L1717 764.5L1719 764.5L1719 755.7L1721 755.7L1721 746.5L1723 746.5L1723 735.5L1725 735.5L1725 728L1727 728L1727 727L1729 727L1729 708.9L1731 708.9L1731 719.8L1733 719.8L1733 713.5L1735 713.5L1735 691.1L1737 691.1L1737 700.6L1739 700.6L1739 695.3L1741 695.3L1741 693.6L1743 693.6L1743 690.3L1745 690.3L1745 693.3L1747 693.3L1747 675.7L1749 675.7L1749 674.4L1751 674.4L1751 678.4L1753 678.4L1753 673.7L1755 673.7L1755 662.4L1757 662.4L1757 671.6L1759 671.6L1759 671.4L1761 671.4L1761 663.8L1763 663.8L1763 666.3L1765 666.3L1765 668.2L1767 668.2L1767 649.7L1769 649.7L1769 657L1771 657L1771 654.4L1773 654.4L1773 658.3L1775 658.3L1775 651.6L1777 651.6L1777 650.6L1779 650.6L1779 658.5L1781 658.5L1781 666.7L1783 666.7L1783 649.6L1785 649.6L1785 665.1L1787 665.1L1787 661.7L1789 661.7L1789 662.5L1791 662.5L1791 664.6L1793 664.6L1793 655.5L1795 655.5L1795 664.8L1797 664.8L1797 651.1L1799 651.1L1799 655.7L1801 655.7L1801 662.9L1803 662.9L1803 666.5L1805 666.5L1805 655.6L1807 655.6L1807 653.1L1809 653.1L1809 666L1811 666L1811 665.4L1813 665.4L1813 668.5L1815 668.5L1815 665.3L1817 665.3L1817 660.4L1819 660.4L1819 676L1821 676L1821 676.8L1823 676.8L1823 676.2L1825 676.2L1825 688.9L1827 688.9L1827 679.1L1829 679.1L1829 687.6L1831 687.6L1831 679.4L1833 679.4L1833 665.7L1835 665.7L1835 678L1837 678L1837 672.4L1839 672.4L1839 690.5L1841 690.5L1841 703.3L1843 703.3L1843 693.2L1845 693.2L1845 711.9L1847 711.9L1847 711.8L1849 711.8L1849 723.6L1851 723.6L1851 726.6L1853 726.6L1853 724.6L1855 724.6L1855 739.1L1857 739.1L1857 742.5L1859 742.5L1859 753.8L1861 753.8L1861 766.6L1863 766.6L1863 762.6L1865 762.6L1865 778.5L1867 778.5L1867 773.3L1869 773.3L1869 781.6L1871 781.6L1871 784.1L1873 784.1L1873 783.8L1875 783.8L1875 790.9L1877 790.9L1877 790.4L1879 790.4L1879 798.9L1881 798.9L1881 793.7L1883 793.7L1883 798L1885 798L1885 810.5L1887 810.5L1887 808.9L1889 808.9L1889 809.5L1891 809.5L1891 812.2L1893 812.2L1893 818.1L1895 818.1L1895 817.5L1897 817.5L1897 821.7L1899 821.7L1899 814.7L1901 814.7L1901 824.7L1903 824.7L1903 820.8L1905 820.8L1905 820.6L1907 820.6L1907 827.6L1909 827.6L1909 832.8L1911 832.8L1911 830.4L1913 830.4L1913 842L1915 842L1915 837.6L1917 837.6L1917 837.3L1919 837.3L1919 837.1L1921 837.1L1921 831.3L1923 831.3L1923 842.1L1925 842.1L1925 844.8L1927 844.8L1927 855.9L1929 855.9L1929 843.3L1931 843.3L1931 848.5L1933 848.5L1933 845.6L1935 845.6L1935 850.4L1937 850.4L1937 839.8L1939 839.8L1939 850.7L1941 850.7L1941 848.6L1943 848.6L1943 849L1945 849L1945 862.1L1947 862.1L1947 846.1L1949 846.1L1949 848.7L1951 848.7L1951 844.9L1953 844.9L1953 849.8L1955 849.8L1955 854.6L1957 854.6L1957 850.3L1959 850.3L1959 841.3L1961 841.3L1961 830.8L1963 830.8L1963 838.5L1965 838.5L1965 825.9L1967 825.9L1967 829.2L1969 829.2L1969 829.2L1971 829.2L1971 824.4L1973 824.4L1973 827.1L1975 827.1L1975 820.5L1977 820.5L1977 813.9L1979 813.9L1979 815.4L1981 815.4L1981 804.3L1983 804.3L1983 810L1985 810L1985 801.1L1987 801.1L1987 789.2L1989 789.2L1989 786.3L1991 786.3L1991 771.5L1993 771.5L1993 762.3L1995 762.3L1995 761.6L1997 761.6L1997 737.8L1999 737.8L1999 741L2001 741L2001 741.5L2003 741.5L2003 711.4L2005 711.4L2005 729.7L2007 729.7L2007 699.8L2009 699.8L2009 693.1L2011 693.1L2011 689.9L2013 689.9L2013 693.8L2015 693.8L2015 695.9L2017 695.9L2017 687.5L2019 687.5L2019 694.5L2021 694.5L2021 697.4L2023 697.4L2023 687L2025 687L2025 689.2L2027 689.2L2027 688L2029 688L2029 691.6L2031 691.6L2031 681L2033 681L2033 687.4L2035 687.4L2035 686.7L2037 686.7L2037 683.7L2039 683.7L2039 681.6L2041 681.6L2041 686.5L2043 686.5L2043 688.1L2045 688.1L2045 676.3" stroke="#ff99ff" stroke-width="7" stroke-dasharray="29.4 28"/>
<path d="M1044.5 692V716M1038 727V766M1054 727V780M1062 766V794" stroke="#ff99ff" stroke-width="7"/>
<path d="M273 748.9L274 749L275 749L276 749L277 749.1L278 749.1L279 749.1L280 749L281 748.9L282 748.8L283 748.7L284 748.6L285 748.6L286 748.6L287 748.6L288 748.7L289 748.9L290 749L291 749.1L292 749.1L293 749L294 748.9L295 748.7L296 748.6L297 748.6L298 748.6L299 748.7L300 748.8L301 749L302 749L303 749L304 749L305 748.9L306 748.7L307 748.6L308 748.5L309 748.5L310 748.6L311 748.7L312 748.8L313 748.8L314 748.9L315 748.9L316 748.9L317 748.9L318 748.8L319 748.8L320 748.7L321 748.6L322 748.6L323 748.6L324 748.6L325 748.6L326 748.7L327 748.8L328 748.8L329 748.9L330 748.9L331 748.9L332 748.8L333 748.7L334 748.5L335 748.4L336 748.4L337 748.4L338 748.6L339 748.8L340 748.9L341 749.1L342 749.1L343 749L344 748.9L345 748.7L346 748.5L347 748.4L348 748.4L349 748.4L350 748.5L351 748.7L352 748.8L353 749L354 749.1L355 749.1L356 749.1L357 748.9L358 748.8L359 748.6L360 748.5L361 748.4L362 748.4L363 748.5L364 748.6L365 748.7L366 748.9L367 749L368 749.1L369 749.1L370 749.1L371 749L372 748.9L373 748.8L374 748.8L375 748.7L376 748.6L377 748.6L378 748.5L379 748.5L380 748.4L381 748.5L382 748.5L383 748.6L384 748.7L385 748.8L386 749L387 749.1L388 749.1L389 749.2L390 749.2L391 749.2L392 749.1L393 749L394 749L395 748.9L396 748.8L397 748.7L398 748.7L399 748.6L400 748.7L401 748.7L402 748.8L403 749L404 749.2L405 749.3L406 749.5L407 749.6L408 749.6L409 749.6L410 749.5L411 749.4L412 749.3L413 749.2L414 749.1L415 749.1L416 749L417 749.1L418 749.1L419 749.2L420 749.3L421 749.5L422 749.6L423 749.7L424 749.8L425 749.9L426 749.9L427 750L428 750.1L429 750.1L430 750.1L431 750.2L432 750.2L433 750.3L434 750.3L435 750.3L436 750.3L437 750.3L438 750.3L439 750.3L440 750.2L441 750.2L442 750.2L443 750.1L444 750.2L445 750.2L446 750.3L447 750.4L448 750.5L449 750.7L450 750.9L451 751L452 751.2L453 751.3L454 751.3L455 751.3L456 751.3L457 751.2L458 751L459 750.8L460 750.7L461 750.7L462 750.7L463 750.8L464 751L465 751.2L466 751.5L467 751.6L468 751.7L469 751.7L470 751.6L471 751.4L472 751.2L473 750.9L474 750.6L475 750.4L476 750.2L477 750.3L478 750.5L479 750.9L480 751.3L481 751.9L482 752.4L483 752.7L484 752.8L485 752.8L486 752.5L487 752.1L488 751.5L489 750.9L490 750.2L491 749.6L492 749.2L493 749L494 749.1L495 749.4L496 749.9L497 750.4L498 751L499 751.4L500 751.5L501 751.5L502 751.3L503 751.2L504 751.2L505 751.2L506 751.1L507 751L508 750.9L509 750.7L510 750.6L511 750.6L512 750.5L513 750.5L514 750.5L515 750.5L516 750.6L517 750.6L518 750.7L519 750.7L520 750.8L521 750.8L522 750.9L523 750.9L524 750.9L525 750.9L526 750.9L527 750.8L528 750.8L529 750.7L530 750.6L531 750.5L532 750.4L533 750.3L534 750.2L535 750.1L536 750.1L537 750.1L538 750.1L539 750.1L540 750.2L541 750.3L542 750.4L543 750.4L544 750.6L545 750.8L546 751L547 751L548 750.9L549 750.6L550 750L551 749.4L552 748.8L553 748.4L554 748.3L555 748.6L556 749.2L557 750L558 750.9L559 751.8L560 752.5L561 753L562 753.2L563 752.9L564 752.2L565 751.4L566 750.4L567 749.3L568 748.3L569 747.4L570 746.8L571 746.7L572 747L573 747.7L574 748.7L575 749.8L576 751L577 751.9L578 752.4L579 752.6L580 752.5L581 751.9L582 751.2L583 750.2L584 749.3L585 748.5L586 747.8L587 747.5L588 747.6L589 748.1L590 748.8L591 749.6L592 750.3L593 750.9L594 751.2L595 751.3L596 751L597 750.6L598 750.1L599 749.5L600 748.9L601 748.5L602 748.2L603 748.1L604 748.2L605 748.5L606 748.8L607 749.2L608 749.6L609 750L610 750.3L611 750.6L612 750.9L613 751.1L614 751.2L615 751.3L616 751.2L617 751L618 750.7L619 750.2L620 749.8L621 749.4L622 749.1L623 748.8L624 748.6L625 748.6L626 748.6L627 748.7L628 748.9L629 749.1L630 749.4L631 749.7L632 750L633 750.2L634 750.5L635 750.6L636 750.7L637 750.7L638 750.5L639 750.2L640 749.8L641 749.3L642 748.9L643 748.6L644 748.6L645 748.7L646 749L647 749.3L648 749.7L649 749.8L650 749.8L651 749.7L652 749.6L653 749.6L654 749.5L655 749.4L656 749.4L657 749.3L658 749.4L659 749.4L660 749.5L661 749.6L662 749.7L663 749.7L664 749.7L665 749.6L666 749.5L667 749.4L668 749.2L669 748.9L670 748.7L671 748.7L672 749L673 749.6L674 750.3L675 750.9L676 751.1L677 751L678 750.4L679 749.5L680 748.6L681 747.8L682 747.3L683 747.3L684 747.7L685 748.5L686 749.6L687 750.6L688 751.5L689 752.1L690 752.1L691 751.8L692 751.1L693 750.2L694 749.2L695 748.3L696 747.5L697 747L698 746.7L699 746.8L700 747L701 747.6L702 748.3L703 749.1L704 749.9L705 750.6L706 751.1L707 751.3L708 751.2L709 750.8L710 750.2L711 749.6L712 748.9L713 748.3L714 747.8L715 747.5L716 747.5L717 747.7L718 748.2L719 748.8L720 749.6L721 750.3L722 751L723 751.4L724 751.6L725 751.4L726 751.1L727 750.5L728 749.8L729 749.1L730 748.5L731 748L732 747.6L733 747.4L734 747.3L735 747.3L736 747.6L737 748L738 748.5L739 749.1L740 749.8L741 750.4L742 750.9L743 751.3L744 751.3L745 751.1L746 750.6L747 749.9L748 749L749 748.1L750 747.2L751 746.5L752 746.1L753 746L754 746.4L755 747.2L756 748.3L757 749.5L758 750.6L759 751.7L760 752.4L761 752.8L762 752.6L763 751.9L764 750.8L765 749.5L766 748L767 746.8L768 746L769 745.8L770 746.2L771 747.1L772 748.4L773 749.7L774 750.9L775 751.9L776 752.5L777 752.7L778 752.5L779 752.1L780 751.4L781 750.6L782 749.6L783 748.6L784 747.7L785 746.8L786 746.2L787 745.9L788 745.9L789 746.5L790 747.4L791 748.5L792 749.6L793 750.7L794 751.6L795 752.3L796 752.6L797 752.7L798 752.3L799 751.7L800 750.8L801 749.7L802 748.6L803 747.4L804 746.5L805 745.9L806 745.7L807 745.9L808 746.4L809 747.3L810 748.4L811 749.6L812 750.8L813 751.8L814 752.4L815 752.6L816 752.1L817 751L818 749.6L819 748.4L820 747.6L821 747.3L822 747.5L823 748L824 748.6L825 749.1L826 749.4L827 749.6L828 749.6L829 749.6L830 749.4L831 749.2L832 748.9L833 748.6L834 748.4L835 748.2L836 748.2L837 748.4L838 748.8L839 749.2L840 749.6L841 749.9L842 750L843 749.9L844 749.6L845 749.1L846 748.5L847 747.9L848 747.4L849 747L850 747.1L851 747.5L852 748.4L853 749.7L854 751L855 752L856 752.3L857 752.1L858 751.4L859 750.3L860 749.1L861 747.9L862 746.8L863 746L864 745.5L865 745.3L866 745.5L867 746L868 746.8L869 747.8L870 748.9L871 750L872 751L873 751.8L874 752.2L875 752.2L876 751.8L877 751L878 749.9L879 748.6L880 747.3L881 746.1L882 745.4L883 745.2L884 745.8L885 747.1L886 748.9L887 750.6L888 751.6L889 751.4L890 750.4L891 749.1L892 748L893 747.6L894 747.7L895 748.1L896 748.5L897 748.7L898 748.9L899 748.9L900 748.9L901 748.6L902 748.4L903 748.2L904 748.1L905 748L906 748L907 748L908 748.1L909 748.2L910 748.2L911 748.2L912 748.2L913 748.1L914 748L915 747.9L916 747.7L917 747.5L918 747.3L919 747.2L920 747.1L921 747.1L922 747.1L923 747.1L924 747.2L925 747.3L926 747.5L927 747.8L928 748.1L929 748.2L930 748L931 747.6L932 746.8L933 745.9L934 744.8L935 743.8L936 745.3L937 744.3L938 743.4L939 742.4L940 741.3L941 740L942 738.5L943 737.2L944 736L945 735.2L946 734.9L947 735.2L948 735.8L949 737.3L950 738.6L951 739.5L952 740.4L953 740.5L954 740L955 739.1L956 738.4L957 738L958 737.8L959 737.5L960 736.9L961 735.8L962 734.6L963 733.7L964 733.3L965 733.6L966 734.5L967 735.9L968 737.2L969 738.1L970 738.2L971 737.3L972 735.5L973 733.2L974 731.4L975 730.1L976 729.5L977 729.4L978 729.5L979 729.5L980 729.1L981 728.4L982 727.5L983 726.7L984 726.2L985 726.1L986 726.2L987 726.4L988 726.5L989 726.2L990 725.6L991 725L992 724.5L993 724.2L994 724.1L995 724.1L996 724.1L997 724.2L998 724.1L999 724L1000 723.8L1001 723.4L1002 722.8L1003 722.2L1004 721.6L1005 721.1L1006 720.7L1007 720.6L1008 720.5L1009 720.6L1010 721L1011 721.8L1012 723.3L1013 725.2L1014 726.9L1015 727.8L1016 727.9L1017 727.4L1018 726.4L1019 725.2L1020 723.9L1021 722.5L1022 721.3L1023 720.6L1024 721.1L1025 723.2L1026 727L1027 730L1028 730.1L1029 728.1L1030 725.5L1031 724L1032 724L1033 724.8L1034 726.5L1035 729.3L1036 735.1L1037 744.1L1038 752.3L1039 755.5L1040 752.9L1041 744.5L1042 734.4L1043 725.8L1044 720.8L1045 721L1046 727.4L1047 737.3L1048 748.6L1049 759.5L1050 768.3L1051 773.2L1052 772L1053 765.9L1054 756.8L1055 747.2L1056 739.3L1057 736L1058 739.9L1059 749.2L1060 761.3L1061 772.4L1062 778.9L1063 779.2L1064 774.2L1065 768.4L1066 764.7L1067 763.8L1068 765L1069 767.3L1070 770.1L1071 773L1072 775.8L1073 778.3L1074 780.7L1075 782.8L1076 784.7L1077 786.4L1078 788.2L1079 790.2L1080 792.4L1081 794.7L1082 797.1L1083 799.5L1084 801.7L1085 803.7L1086 805.4L1087 807L1088 808.6L1089 810.2L1090 812.1L1091 814.3L1092 816.7L1093 819L1094 821.1L1095 822.7L1096 824L1097 824.9L1098 825.5L1099 825.5L1100 825.1L1101 823.4L1102 821.1L1103 818.5L1104 816.8L1105 816.8L1106 818.5L1107 821.6L1108 825.3L1109 828.9L1110 831.7L1111 832.8L1112 832.1L1113 830.1L1114 827.5L1115 825.1L1116 823.5L1117 822.9L1118 823.5L1119 824.7L1120 826.1L1121 827.6L1122 828.7L1123 829.5L1124 829.8L1125 829.9L1126 829.9L1127 829.9L1128 829.9L1129 830L1130 830L1131 829.7L1132 829.2L1133 828.4L1134 827.5L1135 826.5L1136 825.7L1137 824.9L1138 824.4L1139 823.8L1140 823.3L1141 822.5L1142 821.6L1143 820.3L1144 818.9L1145 817.3L1146 815.6L1147 814L1148 812.6L1149 811.4L1150 810.4L1151 809.6L1152 808.8L1153 807.7L1154 806.1L1155 804.2L1156 801.9L1157 799.6L1158 797.7L1159 796.3L1160 795.2L1161 794.2L1162 793L1163 791.3L1164 789.1L1165 786.4L1166 783.4L1167 780.6L1168 778.1L1169 776.1L1170 774.8L1171 773.9L1172 773L1173 771.7L1174 769.8L1175 767.1L1176 764L1177 760.9L1178 758L1179 755.4L1180 752.8L1181 749.7L1182 745.9L1183 741.6L1184 737L1185 732.6L1186 728.8L1187 725.7L1188 723.2L1189 721L1190 719L1191 717.1L1192 715L1193 712.8L1194 710.5L1195 708.2L1196 705.9L1197 703.6L1198 701.4L1199 699.2L1200 697.3L1201 695.4L1202 693.6L1203 691.9L1204 690.1L1205 688.2L1206 686.3L1207 684.4L1208 682.5L1209 680.7L1210 678.9L1211 677.3L1212 675.8L1213 674.3L1214 672.8L1215 671.1L1216 669.4L1217 667.5L1218 665.6L1219 663.8L1220 662.2L1221 660.8L1222 659.6L1223 658.7L1224 658.2L1225 658.1L1226 658.9L1227 660.2L1228 661.4L1229 661.6L1230 660.9L1231 659.4L1232 657.5L1233 655.4L1234 653.3L1235 651.2L1236 649.2L1237 647.5L1238 647L1239 648.1L1240 652.1L1241 654.7L1242 655.2L1243 654.2L1244 652.8L1245 651.4L1246 650L1247 648.8L1248 647.6L1249 646.5L1250 645.3L1251 643.8L1252 642.2L1253 641L1254 640.5L1255 641.1L1256 642.6L1257 645.1L1258 648.4L1259 652.2L1260 655.9L1261 659.5L1262 662.7L1263 664.7L1264 664.5L1265 661.8L1266 657L1267 651.5L1268 646.8L1269 644.4L1270 645.2L1271 648.7L1272 653.8L1273 659.3L1274 664.1L1275 667.2L1276 668L1277 667.1L1278 665.5L1279 664.1L1280 663.6L1281 664.6L1282 667.4L1283 671.2L1284 675.1L1285 678.7L1286 681.7L1287 684.3L1288 686.7L1289 689.2L1290 691.7L1291 693.8L1292 695.4L1293 696.6L1294 697.2L1295 697.6L1296 697.9L1297 697.4L1298 696.2L1299 694.2L1300 692L1301 690.4L1302 691L1303 697.6L1304 710.8L1305 723L1306 727L1307 724.3L1308 719.5L1309 715.4L1310 714.4L1311 718.6L1312 727.4L1313 738L1314 747L1315 751.7L1316 751.9L1317 750L1318 747.7L1319 745.7L1320 744.9L1321 746.4L1322 751.5L1323 760L1324 768.3L1325 773.9L1326 777.9L1327 780.9L1328 783.6L1329 786.2L1330 788.7L1331 791L1332 793.1L1333 795L1334 796.5L1335 797.6L1336 796.9L1337 792.6L1338 790.1L1339 792.6L1340 798L1341 804.4L1342 810.8L1343 816.4L1344 820.2L1345 821.5L1346 820L1347 816.6L1348 813.5L1349 811.7L1350 811.2L1351 811.9L1352 813.1L1353 814.7L1354 816.5L1355 818.4L1356 820.2L1357 821.9L1358 823.2L1359 824.3L1360 825.1L1361 825.9L1362 826.8L1363 828L1364 829.6L1365 831.2L1366 832.5L1367 833.4L1368 833.6L1369 833.4L1370 833L1371 832.7L1372 832.8L1373 833.4L1374 834.4L1375 835.5L1376 836.2L1377 836.3L1378 835.5L1379 834.1L1380 832.3L1381 830.9L1382 829.9L1383 829.6L1384 829.7L1385 829.8L1386 829.6L1387 829.3L1388 829.3L1389 830.1L1390 834.1L1391 838.4L1392 840.2L1393 841.7L1394 842.7L1395 843.3L1396 843.1L1397 842L1398 840.3L1399 838.8L1400 838L1401 838.2L1402 839L1403 839.8L1404 839.8L1405 839.7L1406 840.1L1407 842L1408 845.3L1409 848.6L1410 849.9L1411 848.6L1412 845.1L1413 840.5L1414 836L1415 832.6L1416 831.1L1417 831.7L1418 833.6L1419 836.2L1420 838.9L1421 841.1L1422 842.2L1423 841.3L1424 837.9L1425 831.9L1426 826.4L1427 823.4L1428 822.4L1429 822.6L1430 822.9L1431 822.6L1432 821.7L1433 820.6L1434 819.7L1435 818.9L1436 818.2L1437 816.9L1438 814.6L1439 811.2L1440 806.5L1441 801.3L1442 796.1L1443 791.5L1444 787.4L1445 783.9L1446 780.7L1447 777.7L1448 774.8L1449 771.7L1450 768.5L1451 765.2L1452 761.7L1453 758.3L1454 755L1455 752L1456 749.2L1457 746.5L1458 743.8L1459 740.7L1460 737.3L1461 733.5L1462 729.4L1463 725.4L1464 721.9L1465 718.9L1466 716.3L1467 713.9L1468 711.2L1469 707.9L1470 704.1L1471 699.9L1472 695.8L1473 692.2L1474 689.1L1475 686.7L1476 684.6L1477 682.7L1478 680.7L1479 678.7L1480 677L1481 675.6L1482 674.7L1483 674.1L1484 673.7L1485 673.4L1486 673.1L1487 672.5L1488 671.5L1489 670.2L1490 668.6L1491 666.9L1492 665.2L1493 663.7L1494 662.1L1495 660.7L1496 659.3L1497 657.9L1498 656.8L1499 655.9L1500 655.3L1501 654.8L1502 654.6L1503 654.5L1504 654.5L1505 654.8L1506 655L1507 655.2L1508 655.4L1509 656L1510 656.8L1511 656.9L1512 655.9L1513 653.9L1514 651.4L1515 648.7L1516 646.1L1517 643.7L1518 641.8L1519 640.8L1520 641L1521 642L1522 643.7L1523 645.7L1524 648L1525 650.2L1526 652.1L1527 653.8L1528 655.7L1529 657.4L1530 659.2L1531 660.6L1532 661.6L1533 661.9L1534 661.3L1535 659.7L1536 657.6L1537 655.6L1538 654.2L1539 653.9L1540 655.3L1541 658.1L1542 661.6L1543 664.2L1544 665.4L1545 665.9L1546 666.4L1547 667.5L1548 669.2L1549 671.4L1550 673.4L1551 674.9L1552 675.7L1553 676L1554 675.9L1555 675.8L1556 675.8L1557 676L1558 676.4L1559 677L1560 677.8L1561 678.7L1562 679.9L1563 681.3L1564 683L1565 684.7L1566 686.4L1567 688.1L1568 689.8L1569 691.4L1570 693.4L1571 696.1L1572 699.4L1573 703.1L1574 706.7L1575 709.9L1576 712.4L1577 714.5L1578 716.4L1579 718.4L1580 720.7L1581 723.5L1582 726.5L1583 729.8L1584 733.2L1585 736.5L1586 739.8L1587 743L1588 746.2L1589 749.5L1590 752.8L1591 756L1592 759.3L1593 762.5L1594 765.8L1595 769.3L1596 773L1597 776.8L1598 780.5L1599 784.1L1600 787.3L1601 789.9L1602 792L1603 793.5L1604 794.7L1605 795.7L1606 796.6L1607 797.8L1608 799.7L1609 802.5L1610 805.9L1611 809.4L1612 812.5L1613 814.8L1614 816L1615 816.3L1616 816.1L1617 815.5L1618 814.7L1619 814.1L1620 814.2L1621 815.4L1622 818L1623 821.5L1624 825.1L1625 828.1L1626 830L1627 830.6L1628 829.9L1629 828.6L1630 827.2L1631 826L1632 825.3L1633 825.3L1634 826.1L1635 827.4L1636 829L1637 830.7L1638 832.5L1639 834.3L1640 835.9L1641 837.4L1642 838.7L1643 840L1644 841.1L1645 841.8L1646 842.1L1647 841.8L1648 840.9L1649 839.6L1650 838.2L1651 837L1652 836.4L1653 836.7L1654 837.6L1655 839L1656 840.6L1657 842L1658 842.5L1659 841.3L1660 839L1661 838.2L1662 838.4L1663 839.1L1664 839.8L1665 840.5L1666 841.2L1667 841.9L1668 842.5L1669 842.3L1670 841.3L1671 839.6L1672 837.7L1673 836.7L1674 838.3L1675 841.6L1676 843.7L1677 843.7L1678 842.2L1679 840.2L1680 838.2L1681 836.6L1682 835.6L1683 834.9L1684 834.5L1685 834.2L1686 834L1687 834L1688 833.9L1689 833.9L1690 833.7L1691 833.3L1692 832.3L1693 831L1694 829.1L1695 826.7L1696 824L1697 821.1L1698 818.2L1699 815.3L1700 812.4L1701 809.3L1702 806.3L1703 803.3L1704 800.4L1705 797.6L1706 794.8L1707 792.1L1708 789.3L1709 786.5L1710 783.7L1711 781L1712 778.2L1713 775.5L1714 772.7L1715 769.7L1716 766.5L1717 762.8L1718 758.7L1719 754.4L1720 750L1721 745.7L1722 741.7L1723 738.3L1724 735.2L1725 732.4L1726 729.7L1727 727L1728 724.2L1729 721.1L1730 717L1731 712L1732 706.5L1733 702L1734 698.8L1735 697L1736 695.9L1737 695.1L1738 694.5L1739 693.9L1740 693.1L1741 691.5L1742 688.3L1743 683L1744 679L1745 680.2L1746 686.4L1747 692.4L1748 693.4L1749 688.2L1750 680.2L1751 672.4L1752 667L1753 664.7L1754 665.1L1755 666.8L1756 669L1757 670.8L1758 671.9L1759 672.1L1760 671.1L1761 669.2L1762 666.4L1763 664.6L1764 664.3L1765 664.5L1766 664.6L1767 664.3L1768 663.5L1769 662.5L1770 661.5L1771 660.9L1772 660.9L1773 661.3L1774 662L1775 662.7L1776 663L1777 662.7L1778 661.8L1779 660.3L1780 658.7L1781 657.4L1782 656.8L1783 656.9L1784 657.4L1785 657.9L1786 658.3L1787 658.2L1788 657.9L1789 657.6L1790 657.3L1791 657.1L1792 657L1793 657.1L1794 657.2L1795 657.5L1796 657.7L1797 657.8L1798 658L1799 658.1L1800 658.3L1801 658.6L1802 659.1L1803 659.8L1804 660.5L1805 661.5L1806 662.4L1807 663.4L1808 664.3L1809 664.9L1810 665L1811 664.6L1812 663.5L1813 662L1814 660.8L1815 660.5L1816 661.4L1817 663.7L1818 666.8L1819 669.5L1820 671.6L1821 673.3L1822 674.4L1823 675.1L1824 675.5L1825 675.8L1826 675.8L1827 675.8L1828 676L1829 676.6L1830 677.6L1831 679L1832 680.4L1833 681.4L1834 682.2L1835 682.8L1836 683.8L1837 685.2L1838 687.2L1839 689.8L1840 692.9L1841 696.4L1842 700.2L1843 704L1844 707.7L1845 711L1846 714L1847 716.6L1848 718.8L1849 721L1850 723.1L1851 725.3L1852 727.6L1853 730L1854 732.7L1855 735.6L1856 738.7L1857 741.8L1858 744.7L1859 747.4L1860 749.6L1861 751.8L1862 754.2L1863 757.5L1864 762.3L1865 768.7L1866 775.7L1867 781.6L1868 784.6L1869 783.7L1870 780.5L1871 777.8L1872 777.4L1873 779.6L1874 783.7L1875 788.1L1876 792.2L1877 795.7L1878 798.9L1879 801.5L1880 803.2L1881 803.3L1882 801.7L1883 799.7L1884 799L1885 801L1886 805.1L1887 810.2L1888 814.8L1889 817.4L1890 816.6L1891 812.8L1892 808.6L1893 806.1L1894 805.6L1895 807.3L1896 810.1L1897 813.9L1898 818.3L1899 822.6L1900 826.3L1901 828.4L1902 828.7L1903 827.3L1904 825.4L1905 824.5L1906 825.4L1907 827.8L1908 830.7L1909 833.2L1910 834.6L1911 834.2L1912 832.1L1913 829.7L1914 828.3L1915 828.3L1916 830L1917 832.9L1918 835.8L1919 838.2L1920 839.8L1921 841L1922 842L1923 842.6L1924 843.2L1925 843.8L1926 844.4L1927 845L1928 845.6L1929 846.1L1930 846.5L1931 846.8L1932 847.1L1933 847.2L1934 847.4L1935 847.6L1936 847.8L1937 848L1938 848.3L1939 848.7L1940 849.1L1941 849.4L1942 849.8L1943 850.1L1944 850.2L1945 850.2L1946 849.9L1947 849.4L1948 848.8L1949 848.2L1950 847.6L1951 847L1952 846.4L1953 845.8L1954 845.1L1955 844.3L1956 843.4L1957 842.4L1958 841.1L1959 839.7L1960 838.2L1961 836.8L1962 835.7L1963 834.9L1964 834.7L1965 834.8L1966 835.1L1967 835.3L1968 835.1L1969 834.7L1970 834L1971 833L1972 831.7L1973 830.1L1974 827.9L1975 825L1976 821.3L1977 817L1978 812.5L1979 808.1L1980 804.4L1981 801.8L1982 800.3L1983 799.6L1984 799.3L1985 799L1986 798.1L1987 796.3L1988 793.2L1989 788.8L1990 783.2L1991 777.1L1992 770.8L1993 764.8L1994 759.4L1995 754.4L1996 749.8L1997 745.3L1998 741L1999 736.9L2000 733.2L2001 729.9L2002 727L2003 724.2L2004 721.1L2005 717.5L2006 713.6L2007 709.4L2008 705.4L2009 701.8L2010 698.8L2011 696.5L2012 695L2013 694.1L2014 693.9L2015 694.3L2016 695.2L2017 697.7L2018 700.8L2019 701.2L2020 699L2021 695.2L2022 690.9L2023 686.7L2024 683.1L2025 680.8L2026 681L2027 683.3L2028 686.9L2029 689.8L2030 690.3L2031 688.3L2032 684.7L2033 681.1L2034 678.8L2035 678.9L2036 681.3L2037 684.9L2038 687.9L2039 689.4L2040 689.5L2041 688.9L2042 688.1L2043 687.3L2044 686.3L2045 685.3L2046 684.3" stroke="#ff00ff" stroke-width="2.2"/>
</g>
<path d="M317.6 584.6v9M317.6 918.2v-9M361.9 584.6v9M361.9 918.2v-9M406.2 584.6v9M406.2 918.2v-9M450.5 584.6v19M450.5 918.2v-19M494.8 584.6v9M494.8 918.2v-9M539.1 584.6v9M539.1 918.2v-9M583.4 584.6v9M583.4 918.2v-9M627.7 584.6v19M627.7 918.2v-19M672 584.6v9M672 918.2v-9M716.4 584.6v9M716.4 918.2v-9M760.7 584.6v9M760.7 918.2v-9M805 584.6v19M805 918.2v-19M849.3 584.6v9M849.3 918.2v-9M893.6 584.6v9M893.6 918.2v-9M937.9 584.6v9M937.9 918.2v-9M982.2 584.6v19M982.2 918.2v-19M1026.5 584.6v9M1026.5 918.2v-9M1070.8 584.6v9M1070.8 918.2v-9M1115.1 584.6v9M1115.1 918.2v-9M1159.4 584.6v19M1159.4 918.2v-19M1203.7 584.6v9M1203.7 918.2v-9M1248 584.6v9M1248 918.2v-9M1292.3 584.6v9M1292.3 918.2v-9M1336.6 584.6v19M1336.6 918.2v-19M1380.9 584.6v9M1380.9 918.2v-9M1425.2 584.6v9M1425.2 918.2v-9M1469.5 584.6v9M1469.5 918.2v-9M1513.8 584.6v19M1513.8 918.2v-19M1558.1 584.6v9M1558.1 918.2v-9M1602.5 584.6v9M1602.5 918.2v-9M1646.8 584.6v9M1646.8 918.2v-9M1691.1 584.6v19M1691.1 918.2v-19M1735.4 584.6v9M1735.4 918.2v-9M1779.7 584.6v9M1779.7 918.2v-9M1824 584.6v9M1824 918.2v-9M1868.3 584.6v19M1868.3 918.2v-19M1912.6 584.6v9M1912.6 918.2v-9M1956.9 584.6v9M1956.9 918.2v-9M2001.2 584.6v9M2001.2 918.2v-9" stroke="#262626" stroke-width="2.2" fill="none"/>
<path d="M273.3 834.8h19M273.3 751.4h19M273.3 668h19M2045.5 834.8h-19M2045.5 751.4h-19M2045.5 668h-19" stroke="#000" stroke-width="2.2" fill="none"/>
<path d="M272.2 584.6H2046.6 M272.2 918.2H2046.6" stroke="#333" stroke-width="2.3" fill="none"/>
<path d="M273.3 583.5V919.3 M2045.5 583.5V919.3" stroke="#1e1e1e" stroke-width="2.4" fill="none"/>
<g font-family="'Liberation Sans', Arial, Helvetica, sans-serif">
<text x="200.8" y="465.8" font-size="51" fill="#000" textLength="24.1" lengthAdjust="spacingAndGlyphs">−</text>
<text x="224.9" y="465.8" font-size="51" fill="#000">5</text>
<text x="253.3" y="404" text-anchor="end" font-size="51" fill="#000">0</text>
<text x="253.3" y="342.3" text-anchor="end" font-size="51" fill="#000">5</text>
<text x="253.3" y="280.5" text-anchor="end" font-size="51" fill="#000">10</text>
<text x="253.3" y="218.8" text-anchor="end" font-size="51" fill="#000">15</text>
<text x="2065.3" y="465.8" font-size="51" fill="#000" textLength="24.1" lengthAdjust="spacingAndGlyphs">−</text>
<text x="2090.3" y="465.8" font-size="51" fill="#000">0.5</text>
<text x="2065" y="404" text-anchor="start" font-size="51" fill="#000">0</text>
<text x="2065" y="342.3" text-anchor="start" font-size="51" fill="#000">0.5</text>
<text x="2065" y="280.5" text-anchor="start" font-size="51" fill="#000">1</text>
<text x="2065" y="218.8" text-anchor="start" font-size="51" fill="#000">1.5</text>
<text x="158.3" y="937.2" font-size="51" fill="#000" textLength="24.1" lengthAdjust="spacingAndGlyphs">−</text>
<text x="182.4" y="937.2" font-size="51" fill="#000">0.5</text>
<text x="129.9" y="853.8" font-size="51" fill="#000" textLength="24.1" lengthAdjust="spacingAndGlyphs">−</text>
<text x="154" y="853.8" font-size="51" fill="#000">0.25</text>
<text x="253.3" y="770.4" text-anchor="end" font-size="51" fill="#000">0</text>
<text x="253.3" y="687" text-anchor="end" font-size="51" fill="#000">0.25</text>
<text x="253.3" y="603.6" text-anchor="end" font-size="51" fill="#000">0.5</text>
<text x="2065.3" y="937.2" font-size="51" fill="#000" textLength="24.1" lengthAdjust="spacingAndGlyphs">−</text>
<text x="2090.3" y="937.2" font-size="51" fill="#000">10</text>
<text x="2065.3" y="853.8" font-size="51" fill="#000" textLength="24.1" lengthAdjust="spacingAndGlyphs">−</text>
<text x="2090.3" y="853.8" font-size="51" fill="#000">5</text>
<text x="2065" y="770.4" text-anchor="start" font-size="51" fill="#000">0</text>
<text x="2065" y="687" text-anchor="start" font-size="51" fill="#000">5</text>
<text x="2065" y="603.6" text-anchor="start" font-size="51" fill="#000">10</text>
<text x="273.3" y="989" text-anchor="middle" font-size="51" fill="#262626">0</text>
<text x="450.5" y="989" text-anchor="middle" font-size="51" fill="#262626">2</text>
<text x="627.7" y="989" text-anchor="middle" font-size="51" fill="#262626">4</text>
<text x="805" y="989" text-anchor="middle" font-size="51" fill="#262626">6</text>
<text x="982.2" y="989" text-anchor="middle" font-size="51" fill="#262626">8</text>
<text x="1159.4" y="989" text-anchor="middle" font-size="51" fill="#262626">10</text>
<text x="1336.6" y="989" text-anchor="middle" font-size="51" fill="#262626">12</text>
<text x="1513.8" y="989" text-anchor="middle" font-size="51" fill="#262626">14</text>
<text x="1691.1" y="989" text-anchor="middle" font-size="51" fill="#262626">16</text>
<text x="1868.3" y="989" text-anchor="middle" font-size="51" fill="#262626">18</text>
<text x="2045.5" y="989" text-anchor="middle" font-size="51" fill="#262626">20</text>
<text x="1159.2" y="1061.5" text-anchor="middle" font-size="56" fill="#262626"><tspan font-style="italic">t</tspan> (s)</text>
<text transform="translate(106 304.7) rotate(-90)" font-size="56" fill="#000"><tspan x="-82.73" font-style="italic">v</tspan><tspan x="-57.23"> (m/s)</tspan></text>
<text transform="translate(105.5 751.3) rotate(-90) scale(1.13 1)" font-size="56" fill="#000" font-style="italic" font-family="'Liberation Serif', 'Times New Roman', serif" x="-67.94">δ</text>
<text transform="translate(105.5 751.3) rotate(-90)" font-size="56" fill="#000" x="-38.32">(rad)</text>
<text transform="translate(2231.8 304.7) rotate(-90)" font-size="56" fill="#000"><tspan x="-104.45" font-style="italic" font-family="'Liberation Serif', 'Times New Roman', serif">ω</tspan><tspan x="-70.91"> (rad/s)</tspan></text>
<text transform="translate(2232 751.3) rotate(-90)" font-size="56" fill="#000"><tspan x="-100.2" font-style="italic">a</tspan><tspan x="-69.8"> (m/s</tspan><tspan x="52.9" y="-27" font-size="45">2</tspan><tspan x="79.8" y="0">)</tspan></text>
</g>
<rect x="281.6" y="36.1" width="1966.5" height="89.9" fill="#fff" stroke="#404040" stroke-width="2.3"/>
<g font-family="'Liberation Sans', Arial, Helvetica, sans-serif" fill="#000">
<path d="M297 81.7h150" stroke="#999999" stroke-width="7.4" fill="none" stroke-dasharray="29.5 27.5"/>
<text x="458.8" y="89.6" font-size="46" font-style="italic" font-family="'Liberation Sans', Arial, Helvetica, sans-serif">v</text>
<text x="483" y="110.9" font-size="35" font-style="italic">x</text>
<text x="510.3" y="89.6" font-size="46">Ref.</text>
<path d="M624.5 81.7h150" stroke="#000000" stroke-width="3" fill="none"/>
<text x="786.2" y="89.6" font-size="46" font-style="italic" font-family="'Liberation Sans', Arial, Helvetica, sans-serif">v</text>
<text x="810.9" y="110.9" font-size="35" font-style="italic">x</text>
<text x="838.9" y="89.6" font-size="46">Est.</text>
<path d="M948.6 81.7h150" stroke="#ff9999" stroke-width="7.4" fill="none" stroke-dasharray="29.5 27.5"/>
<text x="1109.2" y="89.6" font-size="46" font-style="italic" font-family="'Liberation Sans', Arial, Helvetica, sans-serif">v</text>
<text x="1133.4" y="110.9" font-size="35" font-style="italic">y</text>
<text x="1161.1" y="89.6" font-size="46">Ref.</text>
<path d="M1275.8 81.7h150" stroke="#ff0000" stroke-width="3" fill="none"/>
<text x="1437.6" y="89.6" font-size="46" font-style="italic" font-family="'Liberation Sans', Arial, Helvetica, sans-serif">v</text>
<text x="1461.7" y="110.9" font-size="35" font-style="italic">y</text>
<text x="1490.3" y="89.6" font-size="46">Est.</text>
<path d="M1598.6 81.7h150" stroke="#9999ff" stroke-width="7.4" fill="none" stroke-dasharray="29.5 27.5"/>
<text x="1759.8" y="89.6" font-size="46" font-style="italic" font-family="'Liberation Serif', 'Times New Roman', serif">ω</text>
<text x="1788.1" y="110.9" font-size="35">z</text>
<text x="1818.1" y="89.6" font-size="46">Ref.</text>
<path d="M1933.7 81.7h150" stroke="#0000ff" stroke-width="3" fill="none"/>
<text x="2094.9" y="89.6" font-size="46" font-style="italic" font-family="'Liberation Serif', 'Times New Roman', serif">ω</text>
<text x="2123.6" y="110.9" font-size="35">z</text>
<text x="2153.3" y="89.6" font-size="46">Est.</text>
</g>
<rect x="277.8" y="483.8" width="867.3" height="89" fill="#fff" stroke="#404040" stroke-width="2.3"/>
<g font-family="'Liberation Sans', Arial, Helvetica, sans-serif" fill="#000">
<path d="M293.2 528.1h150" stroke="#00ff00" stroke-width="8" fill="none"/>
<text x="455.2" y="547.6" font-size="46" font-style="italic" font-family="'Liberation Serif', 'Times New Roman', serif">δ</text>
<path d="M504.4 528.1h150" stroke="#ff99ff" stroke-width="7.6" fill="none" stroke-dasharray="29.5 27.5"/>
<text x="666.9" y="537.4" font-size="46" font-style="italic" font-family="'Liberation Sans', Arial, Helvetica, sans-serif">a</text>
<text x="692.8" y="558.5" font-size="35" font-style="italic">y</text>
<text x="720.7" y="537.4" font-size="46">Ref.</text>
<path d="M835 528.1h150" stroke="#ff00ff" stroke-width="3" fill="none"/>
<text x="997.1" y="537.4" font-size="46" font-style="italic" font-family="'Liberation Sans', Arial, Helvetica, sans-serif">a</text>
<text x="1023.7" y="558.5" font-size="35" font-style="italic">y</text>
<text x="1050.2" y="537.4" font-size="46">Est.</text>
</g>
</svg></body></html>
